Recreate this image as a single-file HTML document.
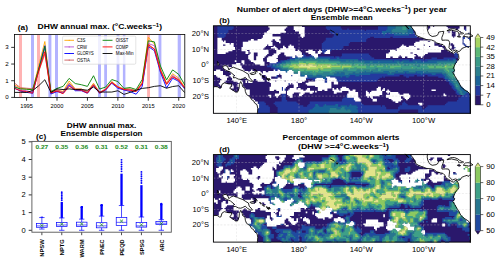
<!DOCTYPE html>
<html><head><meta charset="utf-8"><style>
html,body{margin:0;padding:0;background:#fff;}
svg{display:block;font-family:"Liberation Sans", sans-serif;}
</style></head><body>
<svg width="500" height="263" viewBox="0 0 500 263">
<defs><clipPath id="clipa"><rect x="14.4" y="34.4" width="170.4" height="63.00000000000001"/></clipPath></defs>
<g clip-path="url(#clipa)">
<rect x="31" y="34.4" width="3" height="63.00000000000001" fill="#b3b3ff"/>
<rect x="48.4" y="34.4" width="3.0" height="63.00000000000001" fill="#b3b3ff"/>
<rect x="55" y="34.4" width="3" height="63.00000000000001" fill="#b3b3ff"/>
<rect x="98" y="34.4" width="3" height="63.00000000000001" fill="#b3b3ff"/>
<rect x="104.2" y="34.4" width="2.799999999999997" height="63.00000000000001" fill="#b3b3ff"/>
<rect x="116.6" y="34.4" width="2.8000000000000114" height="63.00000000000001" fill="#b3b3ff"/>
<rect x="122.9" y="34.4" width="2.5" height="63.00000000000001" fill="#b3b3ff"/>
<rect x="158.5" y="34.4" width="2.9000000000000057" height="63.00000000000001" fill="#b3b3ff"/>
<rect x="177.7" y="34.4" width="3.200000000000017" height="63.00000000000001" fill="#b3b3ff"/>
<rect x="19" y="34.4" width="3" height="63.00000000000001" fill="#ffb3b3"/>
<rect x="37" y="34.4" width="3" height="63.00000000000001" fill="#ffb3b3"/>
<rect x="147.1" y="34.4" width="2.9000000000000057" height="63.00000000000001" fill="#ffb3b3"/>
<polyline points="14.40,84.89 20.49,88.23 26.57,89.06 32.66,89.89 38.74,65.71 44.83,41.52 50.92,92.40 57.00,89.89 63.09,91.56 69.17,81.05 75.26,89.06 81.35,89.06 87.43,91.56 93.52,83.22 99.60,92.40 105.69,89.06 111.78,81.55 117.86,86.56 123.95,89.06 130.03,89.06 136.12,90.73 142.21,82.39 148.29,37.35 154.38,44.02 160.46,69.04 166.55,82.89 172.64,73.71 178.72,78.22 184.81,87.39" fill="none" stroke="#ffa500" stroke-width="0.9" stroke-linejoin="miter"/>
<polyline points="14.40,85.72 20.49,89.89 26.57,90.73 32.66,92.40 38.74,70.71 44.83,48.19 50.92,93.23 57.00,90.73 63.09,92.40 69.17,84.06 75.26,89.89 81.35,89.89 87.43,92.40 93.52,84.89 99.60,92.40 105.69,89.89 111.78,82.39 117.86,87.39 123.95,89.89 130.03,89.89 136.12,91.56 142.21,84.89 148.29,43.52 154.38,45.69 160.46,70.71 166.55,84.06 172.64,75.22 178.72,79.89 184.81,88.23" fill="none" stroke="#ba55d3" stroke-width="0.9" stroke-linejoin="miter"/>
<polyline points="14.40,88.23 20.49,91.06 26.57,92.40 32.66,93.23 38.74,69.04 44.83,45.69 50.92,94.06 57.00,91.56 63.09,93.23 69.17,85.06 75.26,90.73 81.35,90.73 87.43,93.23 93.52,85.72 99.60,93.23 105.69,89.89 111.78,83.22 117.86,88.23 123.95,89.89 130.03,91.56 136.12,94.23 142.21,86.39 148.29,46.53 154.38,50.70 160.46,72.38 166.55,88.06 172.64,78.22 178.72,81.39 184.81,89.06" fill="none" stroke="#0000ff" stroke-width="0.9" stroke-linejoin="miter"/>
<polyline points="14.40,83.06 20.49,87.73 26.57,88.23 32.66,88.73 38.74,71.55 44.83,54.03 50.92,92.40 57.00,89.89 63.09,92.40 69.17,83.22 75.26,89.06 81.35,89.06 87.43,91.56 93.52,84.06 99.60,92.40 105.69,89.06 111.78,82.39 117.86,87.39 123.95,89.06 130.03,89.06 136.12,90.73 142.21,83.22 148.29,45.69 154.38,49.03 160.46,69.88 166.55,84.06 172.64,76.55 178.72,80.72 184.81,88.23" fill="none" stroke="#cd5c5c" stroke-width="0.9" stroke-linejoin="miter"/>
<polyline points="14.40,87.06 20.49,88.89 26.57,89.23 32.66,89.73 38.74,69.04 44.83,46.53 50.92,91.56 57.00,88.39 63.09,86.39 69.17,78.38 75.26,83.56 81.35,84.72 87.43,86.39 93.52,75.72 99.60,89.06 105.69,87.06 111.78,79.55 117.86,81.55 123.95,88.39 130.03,87.56 136.12,89.56 142.21,79.55 148.29,40.85 154.38,41.86 160.46,66.04 166.55,79.89 172.64,69.88 178.72,74.38 184.81,85.06" fill="none" stroke="#008000" stroke-width="0.9" stroke-linejoin="miter"/>
<polyline points="14.40,88.23 20.49,90.73 26.57,91.56 32.66,93.23 38.74,70.71 44.83,51.70 50.92,93.06 57.00,91.06 63.09,93.73 69.17,86.39 75.26,89.56 81.35,90.23 87.43,93.06 93.52,85.06 99.60,93.06 105.69,89.56 111.78,82.39 117.86,87.06 123.95,89.56 130.03,90.23 136.12,91.56 142.21,83.56 148.29,44.52 154.38,49.03 160.46,70.71 166.55,84.39 172.64,76.72 178.72,79.89 184.81,88.06" fill="none" stroke="#ff0000" stroke-width="0.9" stroke-linejoin="miter"/>
<polyline points="14.40,92.40 20.49,92.40 26.57,92.40 32.66,90.56 38.74,85.72 44.83,79.72 50.92,92.40 57.00,88.89 63.09,89.56 69.17,88.89 75.26,89.56 81.35,89.56 87.43,90.23 93.52,87.06 99.60,92.06 105.69,92.06 111.78,92.06 117.86,90.73 123.95,94.40 130.03,92.40 136.12,90.23 142.21,88.39 148.29,87.73 154.38,86.39 160.46,85.72 166.55,88.23 172.64,86.56 178.72,85.72 184.81,92.73" fill="none" stroke="#000000" stroke-width="0.9" stroke-linejoin="miter"/>
</g>
<rect x="14.4" y="34.4" width="170.4" height="63.00000000000001" fill="none" stroke="#000" stroke-width="0.8"/>
<line x1="11.2" y1="97.40" x2="14.4" y2="97.40" stroke="#000" stroke-width="0.8"/>
<text x="8.80" y="99.40" font-size="5.9" text-anchor="end" font-weight="normal" fill="#000" textLength="3.44" lengthAdjust="spacingAndGlyphs" >0</text>
<line x1="11.2" y1="80.72" x2="14.4" y2="80.72" stroke="#000" stroke-width="0.8"/>
<text x="8.80" y="82.72" font-size="5.9" text-anchor="end" font-weight="normal" fill="#000" textLength="3.44" lengthAdjust="spacingAndGlyphs" >1</text>
<line x1="11.2" y1="64.04" x2="14.4" y2="64.04" stroke="#000" stroke-width="0.8"/>
<text x="8.80" y="66.04" font-size="5.9" text-anchor="end" font-weight="normal" fill="#000" textLength="3.44" lengthAdjust="spacingAndGlyphs" >2</text>
<line x1="11.2" y1="47.36" x2="14.4" y2="47.36" stroke="#000" stroke-width="0.8"/>
<text x="8.80" y="49.36" font-size="5.9" text-anchor="end" font-weight="normal" fill="#000" textLength="3.44" lengthAdjust="spacingAndGlyphs" >3</text>
<line x1="26.57" y1="97.4" x2="26.57" y2="100.7" stroke="#000" stroke-width="0.8"/>
<text x="26.57" y="108.00" font-size="5.7" text-anchor="middle" font-weight="normal" fill="#000" textLength="12.72" lengthAdjust="spacingAndGlyphs" >1995</text>
<line x1="57.00" y1="97.4" x2="57.00" y2="100.7" stroke="#000" stroke-width="0.8"/>
<text x="57.00" y="108.00" font-size="5.7" text-anchor="middle" font-weight="normal" fill="#000" textLength="12.72" lengthAdjust="spacingAndGlyphs" >2000</text>
<line x1="87.43" y1="97.4" x2="87.43" y2="100.7" stroke="#000" stroke-width="0.8"/>
<text x="87.43" y="108.00" font-size="5.7" text-anchor="middle" font-weight="normal" fill="#000" textLength="12.72" lengthAdjust="spacingAndGlyphs" >2005</text>
<line x1="117.86" y1="97.4" x2="117.86" y2="100.7" stroke="#000" stroke-width="0.8"/>
<text x="117.86" y="108.00" font-size="5.7" text-anchor="middle" font-weight="normal" fill="#000" textLength="12.72" lengthAdjust="spacingAndGlyphs" >2010</text>
<line x1="148.29" y1="97.4" x2="148.29" y2="100.7" stroke="#000" stroke-width="0.8"/>
<text x="148.29" y="108.00" font-size="5.7" text-anchor="middle" font-weight="normal" fill="#000" textLength="12.72" lengthAdjust="spacingAndGlyphs" >2015</text>
<line x1="178.72" y1="97.4" x2="178.72" y2="100.7" stroke="#000" stroke-width="0.8"/>
<text x="178.72" y="108.00" font-size="5.7" text-anchor="middle" font-weight="normal" fill="#000" textLength="12.72" lengthAdjust="spacingAndGlyphs" >2020</text>
<text x="17.80" y="30.40" font-size="7.2" text-anchor="start" font-weight="bold" fill="#000" textLength="10.20" lengthAdjust="spacingAndGlyphs" >(a)</text>
<text x="37.6" y="29.1" font-size="7.3" font-weight="bold" textLength="124.4" lengthAdjust="spacingAndGlyphs">DHW annual max. (°C.weeks<tspan dy="-2.6" font-size="5.2">−1</tspan><tspan dy="2.6">)</tspan></text>
<rect x="62.6" y="36.1" width="73.2" height="28.1" rx="1.2" fill="#fff" fill-opacity="0.8" stroke="#d0d0d0" stroke-width="0.6"/>
<line x1="64.4" y1="40.30" x2="74" y2="40.30" stroke="#ffa500" stroke-width="0.9"/>
<circle cx="69.2" cy="40.30" r="0.6" fill="#ffa500"/>
<text x="77.00" y="41.90" font-size="4.6" text-anchor="start" font-weight="normal" fill="#000" textLength="8.35" lengthAdjust="spacingAndGlyphs" >C3S</text>
<line x1="64.4" y1="46.90" x2="74" y2="46.90" stroke="#ba55d3" stroke-width="0.9"/>
<circle cx="69.2" cy="46.90" r="0.6" fill="#ba55d3"/>
<text x="77.00" y="48.50" font-size="4.6" text-anchor="start" font-weight="normal" fill="#000" textLength="9.93" lengthAdjust="spacingAndGlyphs" >CRW</text>
<line x1="64.4" y1="53.50" x2="74" y2="53.50" stroke="#0000ff" stroke-width="0.9"/>
<circle cx="69.2" cy="53.50" r="0.6" fill="#0000ff"/>
<text x="77.00" y="55.10" font-size="4.6" text-anchor="start" font-weight="normal" fill="#000" textLength="16.79" lengthAdjust="spacingAndGlyphs" >GLORYS</text>
<line x1="64.4" y1="60.10" x2="74" y2="60.10" stroke="#cd5c5c" stroke-width="0.9"/>
<circle cx="69.2" cy="60.10" r="0.6" fill="#cd5c5c"/>
<text x="77.00" y="61.70" font-size="4.6" text-anchor="start" font-weight="normal" fill="#000" textLength="12.77" lengthAdjust="spacingAndGlyphs" >OSTIA</text>
<line x1="102.6" y1="40.30" x2="112.5" y2="40.30" stroke="#008000" stroke-width="0.9"/>
<text x="115.80" y="41.90" font-size="4.6" text-anchor="start" font-weight="normal" fill="#000" textLength="12.56" lengthAdjust="spacingAndGlyphs" >OISST</text>
<line x1="102.6" y1="46.90" x2="112.5" y2="46.90" stroke="#ff0000" stroke-width="0.9"/>
<text x="115.80" y="48.50" font-size="4.6" text-anchor="start" font-weight="normal" fill="#000" textLength="12.51" lengthAdjust="spacingAndGlyphs" >COMP</text>
<line x1="102.6" y1="53.50" x2="112.5" y2="53.50" stroke="#000000" stroke-width="0.9"/>
<text x="115.80" y="55.10" font-size="4.6" text-anchor="start" font-weight="normal" fill="#000" textLength="17.82" lengthAdjust="spacingAndGlyphs" >Max-Min</text>
<text x="101.60" y="128.00" font-size="7.2" text-anchor="middle" font-weight="bold" fill="#000" textLength="69.60" lengthAdjust="spacingAndGlyphs" >DHW annual max.</text>
<text x="101.60" y="135.80" font-size="7.2" text-anchor="middle" font-weight="bold" fill="#000" textLength="82.00" lengthAdjust="spacingAndGlyphs" >Ensemble dispersion</text>
<text x="36.00" y="138.60" font-size="7.2" text-anchor="start" font-weight="bold" fill="#000" textLength="10.20" lengthAdjust="spacingAndGlyphs" >(c)</text>
<line x1="28.7" y1="230.30" x2="31.9" y2="230.30" stroke="#000" stroke-width="0.8"/>
<text x="25.60" y="232.80" font-size="7.0" text-anchor="end" font-weight="normal" fill="#000" textLength="4.20" lengthAdjust="spacingAndGlyphs" >0</text>
<line x1="28.7" y1="212.60" x2="31.9" y2="212.60" stroke="#000" stroke-width="0.8"/>
<text x="25.60" y="215.10" font-size="7.0" text-anchor="end" font-weight="normal" fill="#000" textLength="4.20" lengthAdjust="spacingAndGlyphs" >1</text>
<line x1="28.7" y1="194.90" x2="31.9" y2="194.90" stroke="#000" stroke-width="0.8"/>
<text x="25.60" y="197.40" font-size="7.0" text-anchor="end" font-weight="normal" fill="#000" textLength="4.20" lengthAdjust="spacingAndGlyphs" >2</text>
<line x1="28.7" y1="177.20" x2="31.9" y2="177.20" stroke="#000" stroke-width="0.8"/>
<text x="25.60" y="179.70" font-size="7.0" text-anchor="end" font-weight="normal" fill="#000" textLength="4.20" lengthAdjust="spacingAndGlyphs" >3</text>
<line x1="28.7" y1="159.50" x2="31.9" y2="159.50" stroke="#000" stroke-width="0.8"/>
<text x="25.60" y="162.00" font-size="7.0" text-anchor="end" font-weight="normal" fill="#000" textLength="4.20" lengthAdjust="spacingAndGlyphs" >4</text>
<line x1="28.7" y1="141.80" x2="31.9" y2="141.80" stroke="#000" stroke-width="0.8"/>
<text x="25.60" y="144.30" font-size="7.0" text-anchor="end" font-weight="normal" fill="#000" textLength="4.20" lengthAdjust="spacingAndGlyphs" >5</text>
<text x="41.86" y="148.90" font-size="5.2" text-anchor="middle" font-weight="bold" fill="#228b22" textLength="12.90" lengthAdjust="spacingAndGlyphs" >0.27</text>
<line x1="41.86" y1="217.56" x2="41.86" y2="216.67" stroke="#0000ff" stroke-width="2.3"/>
<line x1="41.86" y1="223.57" x2="41.86" y2="217.56" stroke="#0000ff" stroke-width="0.7"/>
<line x1="41.86" y1="227.29" x2="41.86" y2="229.06" stroke="#0000ff" stroke-width="0.7"/>
<line x1="39.16" y1="217.56" x2="44.56" y2="217.56" stroke="#0000ff" stroke-width="0.7"/>
<line x1="39.16" y1="229.06" x2="44.56" y2="229.06" stroke="#0000ff" stroke-width="0.7"/>
<rect x="36.56" y="223.57" width="10.6" height="3.72" fill="none" stroke="#0000ff" stroke-width="0.7"/>
<line x1="36.56" y1="225.88" x2="47.16" y2="225.88" stroke="#0000ff" stroke-width="0.6"/>
<path d="M40.26,223.92L43.46,227.12M40.26,227.12L43.46,223.92" stroke="#228b22" stroke-width="0.8"/>
<line x1="41.86" y1="232.2" x2="41.86" y2="235.2" stroke="#000" stroke-width="0.7"/>
<text transform="translate(44.06,239.4) rotate(-90)" font-size="6.2" font-weight="bold" text-anchor="end" textLength="17.4" lengthAdjust="spacingAndGlyphs">NPSW</text>
<text x="61.77" y="148.90" font-size="5.2" text-anchor="middle" font-weight="bold" fill="#228b22" textLength="12.90" lengthAdjust="spacingAndGlyphs" >0.35</text>
<line x1="61.77" y1="217.91" x2="61.77" y2="201.98" stroke="#0000ff" stroke-width="2.3"/>
<circle cx="61.77" cy="200.36" r="0.95" fill="#0000ff"/>
<circle cx="61.77" cy="198.74" r="0.95" fill="#0000ff"/>
<circle cx="61.77" cy="197.11" r="0.95" fill="#0000ff"/>
<circle cx="61.77" cy="195.49" r="0.95" fill="#0000ff"/>
<circle cx="61.77" cy="193.87" r="0.95" fill="#0000ff"/>
<circle cx="61.77" cy="192.25" r="0.95" fill="#0000ff"/>
<line x1="61.77" y1="222.51" x2="61.77" y2="217.91" stroke="#0000ff" stroke-width="0.7"/>
<line x1="61.77" y1="226.41" x2="61.77" y2="230.30" stroke="#0000ff" stroke-width="0.7"/>
<line x1="59.07" y1="217.91" x2="64.47" y2="217.91" stroke="#0000ff" stroke-width="0.7"/>
<line x1="59.07" y1="230.30" x2="64.47" y2="230.30" stroke="#0000ff" stroke-width="0.7"/>
<rect x="56.47" y="222.51" width="10.6" height="3.89" fill="none" stroke="#0000ff" stroke-width="0.7"/>
<line x1="56.47" y1="224.99" x2="67.07" y2="224.99" stroke="#0000ff" stroke-width="0.6"/>
<path d="M60.17,222.51L63.37,225.71M60.17,225.71L63.37,222.51" stroke="#228b22" stroke-width="0.8"/>
<line x1="61.77" y1="232.2" x2="61.77" y2="235.2" stroke="#000" stroke-width="0.7"/>
<text transform="translate(63.97,239.4) rotate(-90)" font-size="6.2" font-weight="bold" text-anchor="end" textLength="15.8" lengthAdjust="spacingAndGlyphs">NPTG</text>
<text x="81.69" y="148.90" font-size="5.2" text-anchor="middle" font-weight="bold" fill="#228b22" textLength="12.90" lengthAdjust="spacingAndGlyphs" >0.36</text>
<line x1="81.69" y1="219.15" x2="81.69" y2="207.29" stroke="#0000ff" stroke-width="2.3"/>
<circle cx="81.69" cy="207.23" r="0.95" fill="#0000ff"/>
<circle cx="81.69" cy="207.17" r="0.95" fill="#0000ff"/>
<circle cx="81.69" cy="207.11" r="0.95" fill="#0000ff"/>
<circle cx="81.69" cy="207.05" r="0.95" fill="#0000ff"/>
<circle cx="81.69" cy="207.00" r="0.95" fill="#0000ff"/>
<circle cx="81.69" cy="206.94" r="0.95" fill="#0000ff"/>
<line x1="81.69" y1="222.16" x2="81.69" y2="219.15" stroke="#0000ff" stroke-width="0.7"/>
<line x1="81.69" y1="226.41" x2="81.69" y2="230.30" stroke="#0000ff" stroke-width="0.7"/>
<line x1="78.99" y1="219.15" x2="84.39" y2="219.15" stroke="#0000ff" stroke-width="0.7"/>
<line x1="78.99" y1="230.30" x2="84.39" y2="230.30" stroke="#0000ff" stroke-width="0.7"/>
<rect x="76.39" y="222.16" width="10.6" height="4.25" fill="none" stroke="#0000ff" stroke-width="0.7"/>
<line x1="76.39" y1="224.99" x2="86.99" y2="224.99" stroke="#0000ff" stroke-width="0.6"/>
<path d="M80.09,222.33L83.29,225.53M80.09,225.53L83.29,222.33" stroke="#228b22" stroke-width="0.8"/>
<line x1="81.69" y1="232.2" x2="81.69" y2="235.2" stroke="#000" stroke-width="0.7"/>
<text transform="translate(83.89,239.4) rotate(-90)" font-size="6.2" font-weight="bold" text-anchor="end" textLength="18.2" lengthAdjust="spacingAndGlyphs">WARM</text>
<text x="101.60" y="148.90" font-size="5.2" text-anchor="middle" font-weight="bold" fill="#228b22" textLength="12.90" lengthAdjust="spacingAndGlyphs" >0.31</text>
<line x1="101.60" y1="216.14" x2="101.60" y2="205.52" stroke="#0000ff" stroke-width="2.3"/>
<circle cx="101.60" cy="205.43" r="0.95" fill="#0000ff"/>
<circle cx="101.60" cy="205.34" r="0.95" fill="#0000ff"/>
<circle cx="101.60" cy="205.25" r="0.95" fill="#0000ff"/>
<circle cx="101.60" cy="205.17" r="0.95" fill="#0000ff"/>
<circle cx="101.60" cy="205.08" r="0.95" fill="#0000ff"/>
<circle cx="101.60" cy="204.99" r="0.95" fill="#0000ff"/>
<line x1="101.60" y1="222.69" x2="101.60" y2="216.14" stroke="#0000ff" stroke-width="0.7"/>
<line x1="101.60" y1="227.82" x2="101.60" y2="230.30" stroke="#0000ff" stroke-width="0.7"/>
<line x1="98.90" y1="216.14" x2="104.30" y2="216.14" stroke="#0000ff" stroke-width="0.7"/>
<line x1="98.90" y1="230.30" x2="104.30" y2="230.30" stroke="#0000ff" stroke-width="0.7"/>
<rect x="96.30" y="222.69" width="10.6" height="5.13" fill="none" stroke="#0000ff" stroke-width="0.7"/>
<line x1="96.30" y1="225.88" x2="106.90" y2="225.88" stroke="#0000ff" stroke-width="0.6"/>
<path d="M100.00,223.21L103.20,226.41M100.00,226.41L103.20,223.21" stroke="#228b22" stroke-width="0.8"/>
<line x1="101.60" y1="232.2" x2="101.60" y2="235.2" stroke="#000" stroke-width="0.7"/>
<text transform="translate(103.80,239.4) rotate(-90)" font-size="6.2" font-weight="bold" text-anchor="end" textLength="15.4" lengthAdjust="spacingAndGlyphs">PNEC</text>
<text x="121.52" y="148.90" font-size="5.2" text-anchor="middle" font-weight="bold" fill="#228b22" textLength="12.90" lengthAdjust="spacingAndGlyphs" >0.52</text>
<line x1="121.52" y1="205.52" x2="121.52" y2="173.66" stroke="#0000ff" stroke-width="2.3"/>
<circle cx="121.52" cy="171.36" r="0.95" fill="#0000ff"/>
<circle cx="121.52" cy="169.06" r="0.95" fill="#0000ff"/>
<circle cx="121.52" cy="166.76" r="0.95" fill="#0000ff"/>
<circle cx="121.52" cy="164.46" r="0.95" fill="#0000ff"/>
<circle cx="121.52" cy="162.16" r="0.95" fill="#0000ff"/>
<circle cx="121.52" cy="159.85" r="0.95" fill="#0000ff"/>
<line x1="121.52" y1="217.38" x2="121.52" y2="205.52" stroke="#0000ff" stroke-width="0.7"/>
<line x1="121.52" y1="225.34" x2="121.52" y2="230.30" stroke="#0000ff" stroke-width="0.7"/>
<line x1="118.82" y1="205.52" x2="124.22" y2="205.52" stroke="#0000ff" stroke-width="0.7"/>
<line x1="118.82" y1="230.30" x2="124.22" y2="230.30" stroke="#0000ff" stroke-width="0.7"/>
<rect x="116.22" y="217.38" width="10.6" height="7.97" fill="none" stroke="#0000ff" stroke-width="0.7"/>
<line x1="116.22" y1="222.34" x2="126.82" y2="222.34" stroke="#0000ff" stroke-width="0.6"/>
<path d="M119.92,219.50L123.12,222.70M119.92,222.70L123.12,219.50" stroke="#228b22" stroke-width="0.8"/>
<line x1="121.52" y1="232.2" x2="121.52" y2="235.2" stroke="#000" stroke-width="0.7"/>
<text transform="translate(123.72,239.4) rotate(-90)" font-size="6.2" font-weight="bold" text-anchor="end" textLength="16.0" lengthAdjust="spacingAndGlyphs">PEQD</text>
<text x="141.43" y="148.90" font-size="5.2" text-anchor="middle" font-weight="bold" fill="#228b22" textLength="12.90" lengthAdjust="spacingAndGlyphs" >0.31</text>
<line x1="141.43" y1="217.03" x2="141.43" y2="185.17" stroke="#0000ff" stroke-width="2.3"/>
<circle cx="141.43" cy="182.95" r="0.95" fill="#0000ff"/>
<circle cx="141.43" cy="180.74" r="0.95" fill="#0000ff"/>
<circle cx="141.43" cy="178.53" r="0.95" fill="#0000ff"/>
<circle cx="141.43" cy="176.32" r="0.95" fill="#0000ff"/>
<circle cx="141.43" cy="174.10" r="0.95" fill="#0000ff"/>
<circle cx="141.43" cy="171.89" r="0.95" fill="#0000ff"/>
<line x1="141.43" y1="222.51" x2="141.43" y2="217.03" stroke="#0000ff" stroke-width="0.7"/>
<line x1="141.43" y1="227.11" x2="141.43" y2="230.30" stroke="#0000ff" stroke-width="0.7"/>
<line x1="138.73" y1="217.03" x2="144.13" y2="217.03" stroke="#0000ff" stroke-width="0.7"/>
<line x1="138.73" y1="230.30" x2="144.13" y2="230.30" stroke="#0000ff" stroke-width="0.7"/>
<rect x="136.13" y="222.51" width="10.6" height="4.60" fill="none" stroke="#0000ff" stroke-width="0.7"/>
<line x1="136.13" y1="225.88" x2="146.73" y2="225.88" stroke="#0000ff" stroke-width="0.6"/>
<path d="M139.83,223.21L143.03,226.41M139.83,226.41L143.03,223.21" stroke="#228b22" stroke-width="0.8"/>
<line x1="141.43" y1="232.2" x2="141.43" y2="235.2" stroke="#000" stroke-width="0.7"/>
<text transform="translate(143.63,239.4) rotate(-90)" font-size="6.2" font-weight="bold" text-anchor="end" textLength="15.6" lengthAdjust="spacingAndGlyphs">SPSG</text>
<text x="161.34" y="148.90" font-size="5.2" text-anchor="middle" font-weight="bold" fill="#228b22" textLength="12.90" lengthAdjust="spacingAndGlyphs" >0.38</text>
<line x1="161.34" y1="219.68" x2="161.34" y2="205.17" stroke="#0000ff" stroke-width="2.3"/>
<circle cx="161.34" cy="204.93" r="0.95" fill="#0000ff"/>
<circle cx="161.34" cy="204.69" r="0.95" fill="#0000ff"/>
<circle cx="161.34" cy="204.46" r="0.95" fill="#0000ff"/>
<circle cx="161.34" cy="204.22" r="0.95" fill="#0000ff"/>
<circle cx="161.34" cy="203.99" r="0.95" fill="#0000ff"/>
<circle cx="161.34" cy="203.75" r="0.95" fill="#0000ff"/>
<line x1="161.34" y1="221.45" x2="161.34" y2="219.68" stroke="#0000ff" stroke-width="0.7"/>
<line x1="161.34" y1="224.46" x2="161.34" y2="230.30" stroke="#0000ff" stroke-width="0.7"/>
<line x1="158.64" y1="219.68" x2="164.04" y2="219.68" stroke="#0000ff" stroke-width="0.7"/>
<line x1="158.64" y1="230.30" x2="164.04" y2="230.30" stroke="#0000ff" stroke-width="0.7"/>
<rect x="155.89" y="221.45" width="10.9" height="3.01" fill="none" stroke="#0000ff" stroke-width="0.7"/>
<line x1="155.89" y1="223.22" x2="166.79" y2="223.22" stroke="#0000ff" stroke-width="0.6"/>
<path d="M159.74,221.97L162.94,225.17M159.74,225.17L162.94,221.97" stroke="#228b22" stroke-width="0.8"/>
<line x1="161.34" y1="232.2" x2="161.34" y2="235.2" stroke="#000" stroke-width="0.7"/>
<text transform="translate(163.54,239.4) rotate(-90)" font-size="6.2" font-weight="bold" text-anchor="end" textLength="12.0" lengthAdjust="spacingAndGlyphs">ARC</text>
<rect x="31.9" y="141.4" width="139.4" height="90.79999999999998" fill="none" stroke="#555" stroke-width="0.9"/>
<rect x="213.4" y="25.8" width="256.90" height="87.5" fill="#2a186c"/>
<path fill="#233a9e" d="M217.4 25.8h16.3v1.6h-16.3zM325.8 25.8h15.0v1.6h-15.0zM378.0 25.8h9.6v1.6h-9.6zM217.4 27.1h16.3v1.6h-16.3zM325.8 27.1h15.0v1.6h-15.0zM378.0 27.1h9.6v1.6h-9.6zM217.4 28.5h15.0v1.6h-15.0zM327.1 28.5h15.0v1.6h-15.0zM347.2 28.5h1.6v1.6h-1.6zM378.0 28.5h9.6v1.6h-9.6zM464.9 28.5h1.6v1.6h-1.6zM217.4 29.8h11.0v1.6h-11.0zM329.8 29.8h35.0v1.6h-35.0zM365.9 29.8h20.3v1.6h-20.3zM412.8 29.8h1.6v1.6h-1.6zM464.9 29.8h1.6v1.6h-1.6zM217.4 31.1h11.0v1.6h-11.0zM329.8 31.1h52.4v1.6h-52.4zM412.8 31.1h2.9v1.6h-2.9zM217.4 32.4h9.6v1.6h-9.6zM331.1 32.4h51.1v1.6h-51.1zM386.0 32.4h4.3v1.6h-4.3zM412.8 32.4h2.9v1.6h-2.9zM467.6 32.4h2.9v1.6h-2.9zM217.4 33.8h8.3v1.6h-8.3zM333.8 33.8h49.8v1.6h-49.8zM384.7 33.8h9.6v1.6h-9.6zM408.8 33.8h6.9v1.6h-6.9zM217.4 35.1h8.3v1.6h-8.3zM333.8 35.1h83.2v1.6h-83.2zM218.8 36.4h5.6v1.6h-5.6zM332.5 36.4h37.7v1.6h-37.7zM374.0 36.4h16.3v1.6h-16.3zM392.7 36.4h24.3v1.6h-24.3zM462.3 36.4h2.9v1.6h-2.9zM466.3 36.4h1.6v1.6h-1.6zM469.0 36.4h1.6v1.6h-1.6zM325.8 37.7h41.7v1.6h-41.7zM462.3 37.7h2.9v1.6h-2.9zM467.6 37.7h2.9v1.6h-2.9zM325.8 39.1h40.4v1.6h-40.4zM462.3 39.1h1.6v1.6h-1.6zM469.0 39.1h1.6v1.6h-1.6zM324.5 40.4h41.7v1.6h-41.7zM462.3 40.4h1.6v1.6h-1.6zM323.1 41.7h27.0v1.6h-27.0zM462.3 41.7h1.6v1.6h-1.6zM321.8 43.0h27.0v1.6h-27.0zM462.3 43.0h2.9v1.6h-2.9zM321.8 44.4h27.0v1.6h-27.0zM463.6 44.4h2.9v1.6h-2.9zM321.8 45.7h21.7v1.6h-21.7zM464.9 45.7h4.3v1.6h-4.3zM321.8 47.0h21.7v1.6h-21.7zM454.2 47.0h1.6v1.6h-1.6zM321.8 48.3h20.3v1.6h-20.3zM321.8 49.7h5.6v1.6h-5.6zM329.8 49.7h1.6v1.6h-1.6zM321.8 51.0h4.3v1.6h-4.3zM323.1 52.3h1.6v1.6h-1.6zM454.2 52.3h2.9v1.6h-2.9zM303.0 53.6h1.6v1.6h-1.6zM341.9 53.6h27.0v1.6h-27.0zM454.2 53.6h4.3v1.6h-4.3zM303.0 55.0h2.9v1.6h-2.9zM309.7 55.0h2.9v1.6h-2.9zM341.9 55.0h28.3v1.6h-28.3zM454.2 55.0h4.3v1.6h-4.3zM289.7 56.3h2.9v1.6h-2.9zM295.0 56.3h2.9v1.6h-2.9zM301.7 56.3h11.0v1.6h-11.0zM317.8 56.3h16.3v1.6h-16.3zM335.2 56.3h4.3v1.6h-4.3zM340.5 56.3h31.0v1.6h-31.0zM455.6 56.3h2.9v1.6h-2.9zM289.7 57.6h5.6v1.6h-5.6zM329.8 57.6h6.9v1.6h-6.9zM339.2 57.6h35.0v1.6h-35.0zM431.5 57.6h5.6v1.6h-5.6zM443.5 57.6h12.3v1.6h-12.3zM287.0 58.9h2.9v1.6h-2.9zM357.9 58.9h4.3v1.6h-4.3zM363.3 58.9h47.1v1.6h-47.1zM411.4 58.9h12.3v1.6h-12.3zM424.8 58.9h23.0v1.6h-23.0zM448.9 58.9h4.3v1.6h-4.3zM280.3 60.3h4.3v1.6h-4.3zM392.7 60.3h1.6v1.6h-1.6zM399.4 60.3h2.9v1.6h-2.9zM408.8 60.3h4.3v1.6h-4.3zM420.8 60.3h6.9v1.6h-6.9zM455.6 60.3h1.6v1.6h-1.6zM276.3 61.6h5.6v1.6h-5.6zM455.6 61.6h1.6v1.6h-1.6zM269.6 62.9h8.3v1.6h-8.3zM269.6 64.2h2.9v1.6h-2.9zM266.9 65.6h5.6v1.6h-5.6zM270.9 66.9h4.3v1.6h-4.3zM273.6 68.2h5.6v1.6h-5.6zM274.9 69.5h2.9v1.6h-2.9zM404.7 72.2h1.6v1.6h-1.6zM415.4 72.2h1.6v1.6h-1.6zM369.9 73.5h17.6v1.6h-17.6zM394.0 73.5h27.0v1.6h-27.0zM422.1 73.5h9.6v1.6h-9.6zM435.5 73.5h6.9v1.6h-6.9zM276.3 74.9h1.6v1.6h-1.6zM291.0 74.9h1.6v1.6h-1.6zM349.9 74.9h5.6v1.6h-5.6zM359.2 74.9h40.4v1.6h-40.4zM403.4 74.9h11.0v1.6h-11.0zM416.8 74.9h8.3v1.6h-8.3zM427.5 74.9h16.3v1.6h-16.3zM274.9 76.2h2.9v1.6h-2.9zM307.1 76.2h1.6v1.6h-1.6zM329.8 76.2h11.0v1.6h-11.0zM341.9 76.2h4.3v1.6h-4.3zM348.5 76.2h33.7v1.6h-33.7zM383.3 76.2h1.6v1.6h-1.6zM406.1 76.2h2.9v1.6h-2.9zM438.2 76.2h6.9v1.6h-6.9zM305.7 77.5h11.0v1.6h-11.0zM325.8 77.5h1.6v1.6h-1.6zM335.2 77.5h44.4v1.6h-44.4zM443.5 77.5h1.6v1.6h-1.6zM312.4 78.8h2.9v1.6h-2.9zM324.5 78.8h2.9v1.6h-2.9zM336.5 78.8h41.7v1.6h-41.7zM444.9 78.8h2.9v1.6h-2.9zM324.5 80.2h2.9v1.6h-2.9zM336.5 80.2h40.4v1.6h-40.4zM446.2 80.2h2.9v1.6h-2.9zM324.5 81.5h2.9v1.6h-2.9zM448.9 81.5h1.6v1.6h-1.6zM288.3 82.8h1.6v1.6h-1.6zM448.9 82.8h2.9v1.6h-2.9zM450.2 84.1h2.9v1.6h-2.9zM451.6 85.5h2.9v1.6h-2.9zM281.6 86.8h1.6v1.6h-1.6zM451.6 86.8h2.9v1.6h-2.9zM281.6 88.1h1.6v1.6h-1.6zM284.3 88.1h1.6v1.6h-1.6zM452.9 88.1h2.9v1.6h-2.9zM281.6 89.4h1.6v1.6h-1.6zM284.3 89.4h1.6v1.6h-1.6zM454.2 89.4h2.9v1.6h-2.9zM455.6 90.8h1.6v1.6h-1.6zM455.6 92.1h2.9v1.6h-2.9zM466.3 92.1h2.9v1.6h-2.9zM281.6 93.4h4.3v1.6h-4.3zM456.9 93.4h2.9v1.6h-2.9zM464.9 93.4h5.6v1.6h-5.6zM281.6 94.7h4.3v1.6h-4.3zM345.9 94.7h1.6v1.6h-1.6zM462.3 94.7h8.3v1.6h-8.3zM281.6 96.1h4.3v1.6h-4.3zM345.9 96.1h1.6v1.6h-1.6zM460.9 96.1h9.6v1.6h-9.6zM281.6 97.4h4.3v1.6h-4.3zM343.2 97.4h11.0v1.6h-11.0zM458.3 97.4h12.3v1.6h-12.3zM281.6 98.7h4.3v1.6h-4.3zM341.9 98.7h12.3v1.6h-12.3zM458.3 98.7h12.3v1.6h-12.3zM281.6 100.0h5.6v1.6h-5.6zM341.9 100.0h13.6v1.6h-13.6zM456.9 100.0h13.6v1.6h-13.6zM258.9 101.4h5.6v1.6h-5.6zM274.9 101.4h21.7v1.6h-21.7zM309.7 101.4h51.1v1.6h-51.1zM403.4 101.4h1.6v1.6h-1.6zM447.6 101.4h23.0v1.6h-23.0zM257.6 102.7h8.3v1.6h-8.3zM273.6 102.7h24.3v1.6h-24.3zM309.7 102.7h52.4v1.6h-52.4zM402.1 102.7h4.3v1.6h-4.3zM446.2 102.7h24.3v1.6h-24.3zM258.9 104.0h6.9v1.6h-6.9zM274.9 104.0h24.3v1.6h-24.3zM308.4 104.0h6.9v1.6h-6.9zM317.8 104.0h6.9v1.6h-6.9zM325.8 104.0h9.6v1.6h-9.6zM337.8 104.0h12.3v1.6h-12.3zM351.2 104.0h12.3v1.6h-12.3zM402.1 104.0h5.6v1.6h-5.6zM444.9 104.0h25.7v1.6h-25.7zM258.9 105.3h9.6v1.6h-9.6zM276.3 105.3h27.0v1.6h-27.0zM307.1 105.3h8.3v1.6h-8.3zM319.1 105.3h4.3v1.6h-4.3zM337.8 105.3h2.9v1.6h-2.9zM347.2 105.3h1.6v1.6h-1.6zM356.6 105.3h24.3v1.6h-24.3zM382.0 105.3h2.9v1.6h-2.9zM399.4 105.3h21.7v1.6h-21.7zM427.5 105.3h43.1v1.6h-43.1zM258.9 106.7h11.0v1.6h-11.0zM277.6 106.7h36.4v1.6h-36.4zM357.9 106.7h28.3v1.6h-28.3zM398.0 106.7h24.3v1.6h-24.3zM426.1 106.7h44.4v1.6h-44.4zM257.6 108.0h12.3v1.6h-12.3zM277.6 108.0h35.0v1.6h-35.0zM356.6 108.0h29.7v1.6h-29.7zM398.0 108.0h24.3v1.6h-24.3zM424.8 108.0h45.7v1.6h-45.7zM257.6 109.3h12.3v1.6h-12.3zM277.6 109.3h32.4v1.6h-32.4zM357.9 109.3h41.7v1.6h-41.7zM418.1 109.3h52.4v1.6h-52.4zM257.6 110.6h12.3v1.6h-12.3zM277.6 110.6h31.0v1.6h-31.0zM357.9 110.6h40.4v1.6h-40.4zM418.1 110.6h52.4v1.6h-52.4zM257.6 112.0h12.3v1.6h-12.3zM277.6 112.0h31.0v1.6h-31.0zM357.9 112.0h40.4v1.6h-40.4zM418.1 112.0h52.4v1.6h-52.4z"/>
<path fill="#ffffff" d="M268.3 25.8h19.0v1.6h-19.0zM293.7 25.8h8.3v1.6h-8.3zM411.4 25.8h16.3v1.6h-16.3zM430.2 25.8h2.9v1.6h-2.9zM434.2 25.8h12.3v1.6h-12.3zM459.6 25.8h4.3v1.6h-4.3zM466.3 25.8h4.3v1.6h-4.3zM269.6 27.1h16.3v1.6h-16.3zM293.7 27.1h11.0v1.6h-11.0zM411.4 27.1h16.3v1.6h-16.3zM430.2 27.1h17.6v1.6h-17.6zM459.6 27.1h4.3v1.6h-4.3zM466.3 27.1h4.3v1.6h-4.3zM269.6 28.5h15.0v1.6h-15.0zM293.7 28.5h11.0v1.6h-11.0zM412.8 28.5h15.0v1.6h-15.0zM428.8 28.5h27.0v1.6h-27.0zM458.3 28.5h5.6v1.6h-5.6zM466.3 28.5h4.3v1.6h-4.3zM268.3 29.8h16.3v1.6h-16.3zM295.0 29.8h9.6v1.6h-9.6zM414.1 29.8h37.7v1.6h-37.7zM452.9 29.8h12.3v1.6h-12.3zM466.3 29.8h4.3v1.6h-4.3zM266.9 31.1h19.0v1.6h-19.0zM299.0 31.1h5.6v1.6h-5.6zM415.4 31.1h32.4v1.6h-32.4zM450.2 31.1h1.6v1.6h-1.6zM455.6 31.1h4.3v1.6h-4.3zM460.9 31.1h9.6v1.6h-9.6zM264.2 32.4h16.3v1.6h-16.3zM299.0 32.4h5.6v1.6h-5.6zM415.4 32.4h36.4v1.6h-36.4zM455.6 32.4h12.3v1.6h-12.3zM264.2 33.8h8.3v1.6h-8.3zM300.4 33.8h4.3v1.6h-4.3zM415.4 33.8h36.4v1.6h-36.4zM455.6 33.8h2.9v1.6h-2.9zM459.6 33.8h11.0v1.6h-11.0zM262.9 35.1h9.6v1.6h-9.6zM300.4 35.1h4.3v1.6h-4.3zM416.8 35.1h35.0v1.6h-35.0zM455.6 35.1h2.9v1.6h-2.9zM459.6 35.1h11.0v1.6h-11.0zM262.9 36.4h17.6v1.6h-17.6zM301.7 36.4h1.6v1.6h-1.6zM419.5 36.4h33.7v1.6h-33.7zM454.2 36.4h8.3v1.6h-8.3zM464.9 36.4h1.6v1.6h-1.6zM467.6 36.4h1.6v1.6h-1.6zM217.4 37.7h4.3v1.6h-4.3zM261.6 37.7h19.0v1.6h-19.0zM423.5 37.7h39.1v1.6h-39.1zM464.9 37.7h2.9v1.6h-2.9zM217.4 39.1h4.3v1.6h-4.3zM250.9 39.1h2.9v1.6h-2.9zM257.6 39.1h15.0v1.6h-15.0zM274.9 39.1h4.3v1.6h-4.3zM427.5 39.1h35.0v1.6h-35.0zM463.6 39.1h5.6v1.6h-5.6zM217.4 40.4h5.6v1.6h-5.6zM224.1 40.4h1.6v1.6h-1.6zM248.2 40.4h23.0v1.6h-23.0zM276.3 40.4h4.3v1.6h-4.3zM419.5 40.4h8.3v1.6h-8.3zM430.2 40.4h32.4v1.6h-32.4zM463.6 40.4h6.9v1.6h-6.9zM217.4 41.7h8.3v1.6h-8.3zM242.8 41.7h29.7v1.6h-29.7zM279.0 41.7h1.6v1.6h-1.6zM415.4 41.7h19.0v1.6h-19.0zM435.5 41.7h27.0v1.6h-27.0zM463.6 41.7h6.9v1.6h-6.9zM217.4 43.0h12.3v1.6h-12.3zM230.8 43.0h2.9v1.6h-2.9zM242.8 43.0h29.7v1.6h-29.7zM414.1 43.0h20.3v1.6h-20.3zM439.5 43.0h11.0v1.6h-11.0zM452.9 43.0h9.6v1.6h-9.6zM464.9 43.0h5.6v1.6h-5.6zM217.4 44.4h5.6v1.6h-5.6zM225.4 44.4h8.3v1.6h-8.3zM242.8 44.4h24.3v1.6h-24.3zM268.3 44.4h4.3v1.6h-4.3zM289.7 44.4h1.6v1.6h-1.6zM402.1 44.4h1.6v1.6h-1.6zM414.1 44.4h9.6v1.6h-9.6zM424.8 44.4h9.6v1.6h-9.6zM442.2 44.4h8.3v1.6h-8.3zM454.2 44.4h9.6v1.6h-9.6zM466.3 44.4h4.3v1.6h-4.3zM217.4 45.7h16.3v1.6h-16.3zM242.8 45.7h23.0v1.6h-23.0zM273.6 45.7h1.6v1.6h-1.6zM283.0 45.7h1.6v1.6h-1.6zM288.3 45.7h5.6v1.6h-5.6zM400.7 45.7h5.6v1.6h-5.6zM408.8 45.7h5.6v1.6h-5.6zM415.4 45.7h13.6v1.6h-13.6zM430.2 45.7h8.3v1.6h-8.3zM444.9 45.7h6.9v1.6h-6.9zM454.2 45.7h11.0v1.6h-11.0zM469.0 45.7h1.6v1.6h-1.6zM217.4 47.0h17.6v1.6h-17.6zM241.5 47.0h23.0v1.6h-23.0zM270.9 47.0h5.6v1.6h-5.6zM283.0 47.0h2.9v1.6h-2.9zM288.3 47.0h5.6v1.6h-5.6zM399.4 47.0h43.1v1.6h-43.1zM444.9 47.0h6.9v1.6h-6.9zM455.6 47.0h15.0v1.6h-15.0zM217.4 48.3h17.6v1.6h-17.6zM241.5 48.3h21.7v1.6h-21.7zM274.9 48.3h2.9v1.6h-2.9zM280.3 48.3h15.0v1.6h-15.0zM396.7 48.3h20.3v1.6h-20.3zM419.5 48.3h24.3v1.6h-24.3zM446.2 48.3h4.3v1.6h-4.3zM454.2 48.3h16.3v1.6h-16.3zM217.4 49.7h15.0v1.6h-15.0zM241.5 49.7h5.6v1.6h-5.6zM249.5 49.7h19.0v1.6h-19.0zM276.3 49.7h19.0v1.6h-19.0zM297.7 49.7h1.6v1.6h-1.6zM308.4 49.7h4.3v1.6h-4.3zM319.1 49.7h1.6v1.6h-1.6zM327.1 49.7h2.9v1.6h-2.9zM390.0 49.7h5.6v1.6h-5.6zM396.7 49.7h44.4v1.6h-44.4zM447.6 49.7h23.0v1.6h-23.0zM217.4 51.0h11.0v1.6h-11.0zM245.5 51.0h2.9v1.6h-2.9zM249.5 51.0h19.0v1.6h-19.0zM276.3 51.0h24.3v1.6h-24.3zM305.7 51.0h9.6v1.6h-9.6zM317.8 51.0h4.3v1.6h-4.3zM325.8 51.0h4.3v1.6h-4.3zM390.0 51.0h51.1v1.6h-51.1zM450.2 51.0h20.3v1.6h-20.3zM217.4 52.3h8.3v1.6h-8.3zM245.5 52.3h2.9v1.6h-2.9zM250.9 52.3h2.9v1.6h-2.9zM257.6 52.3h11.0v1.6h-11.0zM276.3 52.3h4.3v1.6h-4.3zM284.3 52.3h17.6v1.6h-17.6zM308.4 52.3h6.9v1.6h-6.9zM317.8 52.3h2.9v1.6h-2.9zM324.5 52.3h5.6v1.6h-5.6zM388.7 52.3h21.7v1.6h-21.7zM412.8 52.3h15.0v1.6h-15.0zM452.9 52.3h1.6v1.6h-1.6zM456.9 52.3h13.6v1.6h-13.6zM249.5 53.6h4.3v1.6h-4.3zM257.6 53.6h9.6v1.6h-9.6zM273.6 53.6h5.6v1.6h-5.6zM284.3 53.6h17.6v1.6h-17.6zM311.1 53.6h6.9v1.6h-6.9zM386.0 53.6h28.3v1.6h-28.3zM416.8 53.6h8.3v1.6h-8.3zM458.3 53.6h12.3v1.6h-12.3zM248.2 55.0h5.6v1.6h-5.6zM257.6 55.0h8.3v1.6h-8.3zM272.3 55.0h5.6v1.6h-5.6zM285.7 55.0h9.6v1.6h-9.6zM296.4 55.0h6.9v1.6h-6.9zM312.4 55.0h5.6v1.6h-5.6zM386.0 55.0h13.6v1.6h-13.6zM400.7 55.0h15.0v1.6h-15.0zM418.1 55.0h5.6v1.6h-5.6zM458.3 55.0h12.3v1.6h-12.3zM248.2 56.3h5.6v1.6h-5.6zM256.2 56.3h8.3v1.6h-8.3zM268.3 56.3h9.6v1.6h-9.6zM292.3 56.3h2.9v1.6h-2.9zM297.7 56.3h4.3v1.6h-4.3zM313.8 56.3h4.3v1.6h-4.3zM386.0 56.3h4.3v1.6h-4.3zM392.7 56.3h5.6v1.6h-5.6zM402.1 56.3h2.9v1.6h-2.9zM407.4 56.3h6.9v1.6h-6.9zM420.8 56.3h1.6v1.6h-1.6zM458.3 56.3h12.3v1.6h-12.3zM248.2 57.6h5.6v1.6h-5.6zM256.2 57.6h6.9v1.6h-6.9zM266.9 57.6h9.6v1.6h-9.6zM315.1 57.6h1.6v1.6h-1.6zM412.8 57.6h1.6v1.6h-1.6zM458.3 57.6h12.3v1.6h-12.3zM249.5 58.9h4.3v1.6h-4.3zM256.2 58.9h6.9v1.6h-6.9zM266.9 58.9h11.0v1.6h-11.0zM458.3 58.9h12.3v1.6h-12.3zM234.8 60.3h1.6v1.6h-1.6zM241.5 60.3h2.9v1.6h-2.9zM250.9 60.3h12.3v1.6h-12.3zM266.9 60.3h11.0v1.6h-11.0zM456.9 60.3h13.6v1.6h-13.6zM241.5 61.6h2.9v1.6h-2.9zM253.5 61.6h11.0v1.6h-11.0zM269.6 61.6h6.9v1.6h-6.9zM456.9 61.6h13.6v1.6h-13.6zM217.4 62.9h1.6v1.6h-1.6zM236.1 62.9h4.3v1.6h-4.3zM242.8 62.9h1.6v1.6h-1.6zM254.9 62.9h9.6v1.6h-9.6zM455.6 62.9h15.0v1.6h-15.0zM232.1 64.2h8.3v1.6h-8.3zM260.2 64.2h4.3v1.6h-4.3zM454.2 64.2h16.3v1.6h-16.3zM222.8 65.6h5.6v1.6h-5.6zM232.1 65.6h9.6v1.6h-9.6zM454.2 65.6h16.3v1.6h-16.3zM222.8 66.9h19.0v1.6h-19.0zM454.2 66.9h16.3v1.6h-16.3zM224.1 68.2h4.3v1.6h-4.3zM229.5 68.2h13.6v1.6h-13.6zM454.2 68.2h16.3v1.6h-16.3zM216.1 69.5h4.3v1.6h-4.3zM225.4 69.5h19.0v1.6h-19.0zM250.9 69.5h1.6v1.6h-1.6zM273.6 69.5h1.6v1.6h-1.6zM277.6 69.5h2.9v1.6h-2.9zM288.3 69.5h4.3v1.6h-4.3zM454.2 69.5h16.3v1.6h-16.3zM213.4 70.9h9.6v1.6h-9.6zM229.5 70.9h19.0v1.6h-19.0zM249.5 70.9h11.0v1.6h-11.0zM262.9 70.9h2.9v1.6h-2.9zM268.3 70.9h17.6v1.6h-17.6zM287.0 70.9h6.9v1.6h-6.9zM297.7 70.9h2.9v1.6h-2.9zM454.2 70.9h16.3v1.6h-16.3zM213.4 72.2h9.6v1.6h-9.6zM230.8 72.2h31.0v1.6h-31.0zM262.9 72.2h31.0v1.6h-31.0zM297.7 72.2h2.9v1.6h-2.9zM452.9 72.2h17.6v1.6h-17.6zM213.4 73.5h9.6v1.6h-9.6zM230.8 73.5h48.4v1.6h-48.4zM280.3 73.5h20.3v1.6h-20.3zM454.2 73.5h16.3v1.6h-16.3zM216.1 74.9h9.6v1.6h-9.6zM229.5 74.9h4.3v1.6h-4.3zM234.8 74.9h27.0v1.6h-27.0zM265.6 74.9h11.0v1.6h-11.0zM281.6 74.9h9.6v1.6h-9.6zM292.3 74.9h8.3v1.6h-8.3zM304.4 74.9h2.9v1.6h-2.9zM454.2 74.9h16.3v1.6h-16.3zM217.4 76.2h11.0v1.6h-11.0zM230.8 76.2h31.0v1.6h-31.0zM266.9 76.2h4.3v1.6h-4.3zM281.6 76.2h25.7v1.6h-25.7zM325.8 76.2h4.3v1.6h-4.3zM454.2 76.2h16.3v1.6h-16.3zM220.1 77.5h6.9v1.6h-6.9zM232.1 77.5h12.3v1.6h-12.3zM245.5 77.5h16.3v1.6h-16.3zM266.9 77.5h4.3v1.6h-4.3zM277.6 77.5h2.9v1.6h-2.9zM281.6 77.5h24.3v1.6h-24.3zM316.4 77.5h6.9v1.6h-6.9zM327.1 77.5h8.3v1.6h-8.3zM455.6 77.5h15.0v1.6h-15.0zM221.4 78.8h5.6v1.6h-5.6zM232.1 78.8h8.3v1.6h-8.3zM246.9 78.8h6.9v1.6h-6.9zM256.2 78.8h6.9v1.6h-6.9zM266.9 78.8h39.1v1.6h-39.1zM315.1 78.8h9.6v1.6h-9.6zM327.1 78.8h9.6v1.6h-9.6zM456.9 78.8h13.6v1.6h-13.6zM220.1 80.2h5.6v1.6h-5.6zM233.5 80.2h8.3v1.6h-8.3zM245.5 80.2h1.6v1.6h-1.6zM248.2 80.2h4.3v1.6h-4.3zM257.6 80.2h6.9v1.6h-6.9zM266.9 80.2h8.3v1.6h-8.3zM276.3 80.2h8.3v1.6h-8.3zM285.7 80.2h19.0v1.6h-19.0zM315.1 80.2h9.6v1.6h-9.6zM327.1 80.2h9.6v1.6h-9.6zM458.3 80.2h12.3v1.6h-12.3zM220.1 81.5h4.3v1.6h-4.3zM237.5 81.5h5.6v1.6h-5.6zM245.5 81.5h1.6v1.6h-1.6zM248.2 81.5h4.3v1.6h-4.3zM269.6 81.5h27.0v1.6h-27.0zM297.7 81.5h4.3v1.6h-4.3zM308.4 81.5h16.3v1.6h-16.3zM327.1 81.5h4.3v1.6h-4.3zM333.8 81.5h4.3v1.6h-4.3zM458.3 81.5h12.3v1.6h-12.3zM218.8 82.8h8.3v1.6h-8.3zM238.8 82.8h4.3v1.6h-4.3zM270.9 82.8h17.6v1.6h-17.6zM289.7 82.8h1.6v1.6h-1.6zM292.3 82.8h5.6v1.6h-5.6zM305.7 82.8h25.7v1.6h-25.7zM333.8 82.8h4.3v1.6h-4.3zM459.6 82.8h11.0v1.6h-11.0zM220.1 84.1h12.3v1.6h-12.3zM237.5 84.1h5.6v1.6h-5.6zM270.9 84.1h17.6v1.6h-17.6zM293.7 84.1h4.3v1.6h-4.3zM307.1 84.1h24.3v1.6h-24.3zM459.6 84.1h11.0v1.6h-11.0zM221.4 85.5h9.6v1.6h-9.6zM232.1 85.5h1.6v1.6h-1.6zM237.5 85.5h5.6v1.6h-5.6zM270.9 85.5h16.3v1.6h-16.3zM293.7 85.5h4.3v1.6h-4.3zM315.1 85.5h16.3v1.6h-16.3zM460.9 85.5h9.6v1.6h-9.6zM213.4 86.8h5.6v1.6h-5.6zM221.4 86.8h12.3v1.6h-12.3zM238.8 86.8h5.6v1.6h-5.6zM269.6 86.8h12.3v1.6h-12.3zM283.0 86.8h2.9v1.6h-2.9zM293.7 86.8h2.9v1.6h-2.9zM317.8 86.8h13.6v1.6h-13.6zM341.9 86.8h4.3v1.6h-4.3zM378.0 86.8h2.9v1.6h-2.9zM462.3 86.8h8.3v1.6h-8.3zM213.4 88.1h17.6v1.6h-17.6zM238.8 88.1h6.9v1.6h-6.9zM269.6 88.1h12.3v1.6h-12.3zM283.0 88.1h1.6v1.6h-1.6zM289.7 88.1h6.9v1.6h-6.9zM297.7 88.1h2.9v1.6h-2.9zM307.1 88.1h2.9v1.6h-2.9zM317.8 88.1h9.6v1.6h-9.6zM332.5 88.1h1.6v1.6h-1.6zM336.5 88.1h1.6v1.6h-1.6zM340.5 88.1h8.3v1.6h-8.3zM376.6 88.1h4.3v1.6h-4.3zM383.3 88.1h1.6v1.6h-1.6zM463.6 88.1h6.9v1.6h-6.9zM213.4 89.4h19.0v1.6h-19.0zM238.8 89.4h11.0v1.6h-11.0zM269.6 89.4h4.3v1.6h-4.3zM276.3 89.4h5.6v1.6h-5.6zM283.0 89.4h1.6v1.6h-1.6zM288.3 89.4h15.0v1.6h-15.0zM305.7 89.4h4.3v1.6h-4.3zM317.8 89.4h4.3v1.6h-4.3zM324.5 89.4h2.9v1.6h-2.9zM332.5 89.4h6.9v1.6h-6.9zM340.5 89.4h9.6v1.6h-9.6zM352.6 89.4h2.9v1.6h-2.9zM376.6 89.4h4.3v1.6h-4.3zM382.0 89.4h2.9v1.6h-2.9zM387.3 89.4h1.6v1.6h-1.6zM431.5 89.4h4.3v1.6h-4.3zM464.9 89.4h5.6v1.6h-5.6zM213.4 90.8h21.7v1.6h-21.7zM237.5 90.8h12.3v1.6h-12.3zM279.0 90.8h6.9v1.6h-6.9zM287.0 90.8h27.0v1.6h-27.0zM315.1 90.8h1.6v1.6h-1.6zM333.8 90.8h8.3v1.6h-8.3zM348.5 90.8h6.9v1.6h-6.9zM365.9 90.8h1.6v1.6h-1.6zM371.3 90.8h11.0v1.6h-11.0zM386.0 90.8h4.3v1.6h-4.3zM467.6 90.8h2.9v1.6h-2.9zM213.4 92.1h36.4v1.6h-36.4zM279.0 92.1h6.9v1.6h-6.9zM287.0 92.1h6.9v1.6h-6.9zM300.4 92.1h4.3v1.6h-4.3zM309.7 92.1h2.9v1.6h-2.9zM333.8 92.1h2.9v1.6h-2.9zM348.5 92.1h9.6v1.6h-9.6zM365.9 92.1h2.9v1.6h-2.9zM369.9 92.1h12.3v1.6h-12.3zM387.3 92.1h1.6v1.6h-1.6zM390.0 92.1h8.3v1.6h-8.3zM469.0 92.1h1.6v1.6h-1.6zM213.4 93.4h36.4v1.6h-36.4zM274.9 93.4h5.6v1.6h-5.6zM287.0 93.4h5.6v1.6h-5.6zM299.0 93.4h4.3v1.6h-4.3zM347.2 93.4h11.0v1.6h-11.0zM365.9 93.4h16.3v1.6h-16.3zM390.0 93.4h9.6v1.6h-9.6zM403.4 93.4h5.6v1.6h-5.6zM443.5 93.4h1.6v1.6h-1.6zM213.4 94.7h35.0v1.6h-35.0zM268.3 94.7h2.9v1.6h-2.9zM274.9 94.7h4.3v1.6h-4.3zM288.3 94.7h4.3v1.6h-4.3zM299.0 94.7h2.9v1.6h-2.9zM347.2 94.7h11.0v1.6h-11.0zM365.9 94.7h13.6v1.6h-13.6zM386.0 94.7h24.3v1.6h-24.3zM443.5 94.7h2.9v1.6h-2.9zM213.4 96.1h36.4v1.6h-36.4zM269.6 96.1h1.6v1.6h-1.6zM276.3 96.1h1.6v1.6h-1.6zM289.7 96.1h2.9v1.6h-2.9zM347.2 96.1h11.0v1.6h-11.0zM367.3 96.1h1.6v1.6h-1.6zM369.9 96.1h2.9v1.6h-2.9zM386.0 96.1h15.0v1.6h-15.0zM403.4 96.1h6.9v1.6h-6.9zM213.4 97.4h37.7v1.6h-37.7zM353.9 97.4h5.6v1.6h-5.6zM371.3 97.4h1.6v1.6h-1.6zM388.7 97.4h12.3v1.6h-12.3zM404.7 97.4h4.3v1.6h-4.3zM213.4 98.7h40.4v1.6h-40.4zM353.9 98.7h6.9v1.6h-6.9zM372.6 98.7h4.3v1.6h-4.3zM391.4 98.7h11.0v1.6h-11.0zM406.1 98.7h1.6v1.6h-1.6zM213.4 100.0h41.7v1.6h-41.7zM355.2 100.0h5.6v1.6h-5.6zM372.6 100.0h4.3v1.6h-4.3zM392.7 100.0h8.3v1.6h-8.3zM213.4 101.4h44.4v1.6h-44.4zM395.4 101.4h2.9v1.6h-2.9zM213.4 102.7h44.4v1.6h-44.4zM418.1 102.7h4.3v1.6h-4.3zM213.4 104.0h45.7v1.6h-45.7zM419.5 104.0h2.9v1.6h-2.9zM213.4 105.3h45.7v1.6h-45.7zM213.4 106.7h45.7v1.6h-45.7zM213.4 108.0h44.4v1.6h-44.4zM213.4 109.3h44.4v1.6h-44.4zM213.4 110.6h44.4v1.6h-44.4zM213.4 112.0h44.4v1.6h-44.4z"/>
<path fill="#1a6398" d="M387.3 25.8h8.3v1.6h-8.3zM387.3 27.1h8.3v1.6h-8.3zM387.3 28.5h5.6v1.6h-5.6zM407.4 28.5h5.6v1.6h-5.6zM386.0 29.8h5.6v1.6h-5.6zM407.4 29.8h5.6v1.6h-5.6zM382.0 31.1h9.6v1.6h-9.6zM407.4 31.1h5.6v1.6h-5.6zM382.0 32.4h4.3v1.6h-4.3zM390.0 32.4h12.3v1.6h-12.3zM404.7 32.4h8.3v1.6h-8.3zM383.3 33.8h1.6v1.6h-1.6zM394.0 33.8h15.0v1.6h-15.0zM312.4 56.3h1.6v1.6h-1.6zM295.0 57.6h15.0v1.6h-15.0zM312.4 57.6h2.9v1.6h-2.9zM317.8 57.6h12.3v1.6h-12.3zM336.5 57.6h2.9v1.6h-2.9zM289.7 58.9h5.6v1.6h-5.6zM299.0 58.9h1.6v1.6h-1.6zM328.5 58.9h29.7v1.6h-29.7zM361.9 58.9h1.6v1.6h-1.6zM447.6 58.9h1.6v1.6h-1.6zM452.9 58.9h2.9v1.6h-2.9zM284.3 60.3h5.6v1.6h-5.6zM339.2 60.3h6.9v1.6h-6.9zM348.5 60.3h1.6v1.6h-1.6zM352.6 60.3h1.6v1.6h-1.6zM357.9 60.3h35.0v1.6h-35.0zM394.0 60.3h5.6v1.6h-5.6zM402.1 60.3h6.9v1.6h-6.9zM412.8 60.3h8.3v1.6h-8.3zM427.5 60.3h27.0v1.6h-27.0zM281.6 61.6h4.3v1.6h-4.3zM364.6 61.6h5.6v1.6h-5.6zM372.6 61.6h5.6v1.6h-5.6zM379.3 61.6h17.6v1.6h-17.6zM399.4 61.6h1.6v1.6h-1.6zM403.4 61.6h12.3v1.6h-12.3zM416.8 61.6h20.3v1.6h-20.3zM277.6 62.9h4.3v1.6h-4.3zM272.3 64.2h6.9v1.6h-6.9zM272.3 65.6h4.3v1.6h-4.3zM274.9 66.9h5.6v1.6h-5.6zM279.0 68.2h2.9v1.6h-2.9zM280.3 69.5h6.9v1.6h-6.9zM285.7 70.9h1.6v1.6h-1.6zM364.6 70.9h1.6v1.6h-1.6zM371.3 70.9h1.6v1.6h-1.6zM383.3 70.9h5.6v1.6h-5.6zM395.4 70.9h2.9v1.6h-2.9zM403.4 70.9h5.6v1.6h-5.6zM415.4 70.9h8.3v1.6h-8.3zM426.1 70.9h1.6v1.6h-1.6zM336.5 72.2h2.9v1.6h-2.9zM340.5 72.2h4.3v1.6h-4.3zM352.6 72.2h2.9v1.6h-2.9zM359.2 72.2h31.0v1.6h-31.0zM391.4 72.2h13.6v1.6h-13.6zM406.1 72.2h9.6v1.6h-9.6zM416.8 72.2h25.7v1.6h-25.7zM300.4 73.5h1.6v1.6h-1.6zM333.8 73.5h11.0v1.6h-11.0zM348.5 73.5h21.7v1.6h-21.7zM387.3 73.5h6.9v1.6h-6.9zM420.8 73.5h1.6v1.6h-1.6zM431.5 73.5h4.3v1.6h-4.3zM442.2 73.5h4.3v1.6h-4.3zM300.4 74.9h4.3v1.6h-4.3zM307.1 74.9h5.6v1.6h-5.6zM316.4 74.9h5.6v1.6h-5.6zM327.1 74.9h23.0v1.6h-23.0zM355.2 74.9h4.3v1.6h-4.3zM443.5 74.9h2.9v1.6h-2.9zM308.4 76.2h17.6v1.6h-17.6zM340.5 76.2h1.6v1.6h-1.6zM345.9 76.2h2.9v1.6h-2.9zM444.9 76.2h2.9v1.6h-2.9zM323.1 77.5h2.9v1.6h-2.9zM444.9 77.5h4.3v1.6h-4.3zM447.6 78.8h2.9v1.6h-2.9zM448.9 80.2h2.9v1.6h-2.9zM450.2 81.5h2.9v1.6h-2.9zM451.6 82.8h2.9v1.6h-2.9zM452.9 84.1h1.6v1.6h-1.6zM454.2 85.5h1.6v1.6h-1.6zM459.6 85.5h1.6v1.6h-1.6zM454.2 86.8h1.6v1.6h-1.6zM459.6 86.8h2.9v1.6h-2.9zM455.6 88.1h1.6v1.6h-1.6zM459.6 88.1h4.3v1.6h-4.3zM456.9 89.4h1.6v1.6h-1.6zM460.9 89.4h4.3v1.6h-4.3zM456.9 90.8h2.9v1.6h-2.9zM462.3 90.8h5.6v1.6h-5.6zM458.3 92.1h1.6v1.6h-1.6zM462.3 92.1h4.3v1.6h-4.3zM459.6 93.4h1.6v1.6h-1.6zM463.6 93.4h1.6v1.6h-1.6zM315.1 104.0h2.9v1.6h-2.9zM324.5 104.0h1.6v1.6h-1.6zM335.2 104.0h2.9v1.6h-2.9zM349.9 104.0h1.6v1.6h-1.6zM315.1 105.3h4.3v1.6h-4.3zM323.1 105.3h15.0v1.6h-15.0zM340.5 105.3h6.9v1.6h-6.9zM348.5 105.3h8.3v1.6h-8.3zM313.8 106.7h28.3v1.6h-28.3zM344.5 106.7h13.6v1.6h-13.6zM312.4 108.0h17.6v1.6h-17.6zM336.5 108.0h4.3v1.6h-4.3zM344.5 108.0h12.3v1.6h-12.3zM309.7 109.3h20.3v1.6h-20.3zM345.9 109.3h1.6v1.6h-1.6zM349.9 109.3h8.3v1.6h-8.3zM308.4 110.6h20.3v1.6h-20.3zM351.2 110.6h6.9v1.6h-6.9zM308.4 112.0h20.3v1.6h-20.3zM349.9 112.0h8.3v1.6h-8.3z"/>
<path fill="#2b7f8e" d="M395.4 25.8h6.9v1.6h-6.9zM406.1 25.8h5.6v1.6h-5.6zM395.4 27.1h6.9v1.6h-6.9zM406.1 27.1h5.6v1.6h-5.6zM392.7 28.5h9.6v1.6h-9.6zM406.1 28.5h1.6v1.6h-1.6zM391.4 29.8h16.3v1.6h-16.3zM391.4 31.1h16.3v1.6h-16.3zM402.1 32.4h2.9v1.6h-2.9zM309.7 57.6h2.9v1.6h-2.9zM316.4 57.6h1.6v1.6h-1.6zM295.0 58.9h4.3v1.6h-4.3zM300.4 58.9h28.3v1.6h-28.3zM289.7 60.3h9.6v1.6h-9.6zM317.8 60.3h2.9v1.6h-2.9zM323.1 60.3h1.6v1.6h-1.6zM328.5 60.3h11.0v1.6h-11.0zM345.9 60.3h2.9v1.6h-2.9zM349.9 60.3h2.9v1.6h-2.9zM353.9 60.3h4.3v1.6h-4.3zM454.2 60.3h1.6v1.6h-1.6zM285.7 61.6h5.6v1.6h-5.6zM340.5 61.6h24.3v1.6h-24.3zM369.9 61.6h2.9v1.6h-2.9zM378.0 61.6h1.6v1.6h-1.6zM396.7 61.6h2.9v1.6h-2.9zM400.7 61.6h2.9v1.6h-2.9zM415.4 61.6h1.6v1.6h-1.6zM436.8 61.6h19.0v1.6h-19.0zM281.6 62.9h4.3v1.6h-4.3zM352.6 62.9h1.6v1.6h-1.6zM363.3 62.9h35.0v1.6h-35.0zM399.4 62.9h39.1v1.6h-39.1zM440.9 62.9h2.9v1.6h-2.9zM444.9 62.9h1.6v1.6h-1.6zM454.2 62.9h1.6v1.6h-1.6zM279.0 64.2h1.6v1.6h-1.6zM367.3 64.2h2.9v1.6h-2.9zM384.7 64.2h1.6v1.6h-1.6zM403.4 64.2h5.6v1.6h-5.6zM412.8 64.2h8.3v1.6h-8.3zM276.3 65.6h4.3v1.6h-4.3zM416.8 65.6h2.9v1.6h-2.9zM280.3 66.9h2.9v1.6h-2.9zM281.6 68.2h6.9v1.6h-6.9zM375.3 68.2h2.9v1.6h-2.9zM400.7 68.2h1.6v1.6h-1.6zM415.4 68.2h1.6v1.6h-1.6zM420.8 68.2h1.6v1.6h-1.6zM287.0 69.5h1.6v1.6h-1.6zM343.2 69.5h4.3v1.6h-4.3zM356.6 69.5h4.3v1.6h-4.3zM363.3 69.5h6.9v1.6h-6.9zM371.3 69.5h6.9v1.6h-6.9zM380.7 69.5h63.1v1.6h-63.1zM335.2 70.9h29.7v1.6h-29.7zM365.9 70.9h5.6v1.6h-5.6zM372.6 70.9h11.0v1.6h-11.0zM388.7 70.9h6.9v1.6h-6.9zM398.0 70.9h5.6v1.6h-5.6zM408.8 70.9h6.9v1.6h-6.9zM423.5 70.9h2.9v1.6h-2.9zM427.5 70.9h17.6v1.6h-17.6zM451.6 70.9h2.9v1.6h-2.9zM293.7 72.2h4.3v1.6h-4.3zM300.4 72.2h4.3v1.6h-4.3zM307.1 72.2h2.9v1.6h-2.9zM323.1 72.2h6.9v1.6h-6.9zM332.5 72.2h4.3v1.6h-4.3zM339.2 72.2h1.6v1.6h-1.6zM344.5 72.2h8.3v1.6h-8.3zM355.2 72.2h4.3v1.6h-4.3zM390.0 72.2h1.6v1.6h-1.6zM442.2 72.2h4.3v1.6h-4.3zM301.7 73.5h11.0v1.6h-11.0zM316.4 73.5h17.6v1.6h-17.6zM344.5 73.5h4.3v1.6h-4.3zM446.2 73.5h1.6v1.6h-1.6zM312.4 74.9h4.3v1.6h-4.3zM321.8 74.9h5.6v1.6h-5.6zM446.2 74.9h2.9v1.6h-2.9zM447.6 76.2h2.9v1.6h-2.9zM448.9 77.5h2.9v1.6h-2.9zM452.9 77.5h1.6v1.6h-1.6zM450.2 78.8h6.9v1.6h-6.9zM451.6 80.2h6.9v1.6h-6.9zM452.9 81.5h1.6v1.6h-1.6zM455.6 81.5h2.9v1.6h-2.9zM454.2 82.8h5.6v1.6h-5.6zM454.2 84.1h1.6v1.6h-1.6zM456.9 84.1h2.9v1.6h-2.9zM458.3 85.5h1.6v1.6h-1.6zM455.6 86.8h4.3v1.6h-4.3zM456.9 88.1h2.9v1.6h-2.9zM458.3 89.4h2.9v1.6h-2.9zM459.6 90.8h2.9v1.6h-2.9zM459.6 92.1h2.9v1.6h-2.9zM460.9 93.4h2.9v1.6h-2.9zM341.9 106.7h2.9v1.6h-2.9zM329.8 108.0h6.9v1.6h-6.9zM340.5 108.0h4.3v1.6h-4.3zM329.8 109.3h16.3v1.6h-16.3zM347.2 109.3h2.9v1.6h-2.9zM328.5 110.6h23.0v1.6h-23.0zM328.5 112.0h21.7v1.6h-21.7z"/>
<path fill="#3a9a88" d="M402.1 25.8h4.3v1.6h-4.3zM402.1 27.1h4.3v1.6h-4.3zM402.1 28.5h4.3v1.6h-4.3zM299.0 60.3h19.0v1.6h-19.0zM320.4 60.3h2.9v1.6h-2.9zM324.5 60.3h4.3v1.6h-4.3zM291.0 61.6h8.3v1.6h-8.3zM303.0 61.6h2.9v1.6h-2.9zM316.4 61.6h24.3v1.6h-24.3zM285.7 62.9h5.6v1.6h-5.6zM336.5 62.9h16.3v1.6h-16.3zM353.9 62.9h9.6v1.6h-9.6zM398.0 62.9h1.6v1.6h-1.6zM438.2 62.9h2.9v1.6h-2.9zM443.5 62.9h1.6v1.6h-1.6zM446.2 62.9h8.3v1.6h-8.3zM280.3 64.2h5.6v1.6h-5.6zM351.2 64.2h4.3v1.6h-4.3zM357.9 64.2h9.6v1.6h-9.6zM369.9 64.2h15.0v1.6h-15.0zM386.0 64.2h17.6v1.6h-17.6zM408.8 64.2h4.3v1.6h-4.3zM420.8 64.2h25.7v1.6h-25.7zM447.6 64.2h4.3v1.6h-4.3zM280.3 65.6h2.9v1.6h-2.9zM365.9 65.6h4.3v1.6h-4.3zM374.0 65.6h2.9v1.6h-2.9zM383.3 65.6h2.9v1.6h-2.9zM387.3 65.6h2.9v1.6h-2.9zM400.7 65.6h16.3v1.6h-16.3zM419.5 65.6h8.3v1.6h-8.3zM434.2 65.6h1.6v1.6h-1.6zM442.2 65.6h1.6v1.6h-1.6zM283.0 66.9h5.6v1.6h-5.6zM353.9 66.9h2.9v1.6h-2.9zM365.9 66.9h24.3v1.6h-24.3zM394.0 66.9h17.6v1.6h-17.6zM412.8 66.9h16.3v1.6h-16.3zM434.2 66.9h1.6v1.6h-1.6zM288.3 68.2h4.3v1.6h-4.3zM343.2 68.2h5.6v1.6h-5.6zM349.9 68.2h25.7v1.6h-25.7zM378.0 68.2h23.0v1.6h-23.0zM402.1 68.2h13.6v1.6h-13.6zM416.8 68.2h4.3v1.6h-4.3zM422.1 68.2h23.0v1.6h-23.0zM447.6 68.2h6.9v1.6h-6.9zM292.3 69.5h6.9v1.6h-6.9zM304.4 69.5h1.6v1.6h-1.6zM319.1 69.5h1.6v1.6h-1.6zM331.1 69.5h12.3v1.6h-12.3zM347.2 69.5h9.6v1.6h-9.6zM360.6 69.5h2.9v1.6h-2.9zM369.9 69.5h1.6v1.6h-1.6zM378.0 69.5h2.9v1.6h-2.9zM443.5 69.5h2.9v1.6h-2.9zM448.9 69.5h5.6v1.6h-5.6zM293.7 70.9h4.3v1.6h-4.3zM300.4 70.9h12.3v1.6h-12.3zM313.8 70.9h1.6v1.6h-1.6zM317.8 70.9h17.6v1.6h-17.6zM444.9 70.9h2.9v1.6h-2.9zM448.9 70.9h2.9v1.6h-2.9zM304.4 72.2h2.9v1.6h-2.9zM309.7 72.2h13.6v1.6h-13.6zM329.8 72.2h2.9v1.6h-2.9zM446.2 72.2h6.9v1.6h-6.9zM312.4 73.5h4.3v1.6h-4.3zM447.6 73.5h6.9v1.6h-6.9zM448.9 74.9h4.3v1.6h-4.3zM450.2 76.2h4.3v1.6h-4.3zM451.6 77.5h1.6v1.6h-1.6zM454.2 77.5h1.6v1.6h-1.6zM454.2 81.5h1.6v1.6h-1.6zM455.6 84.1h1.6v1.6h-1.6zM455.6 85.5h2.9v1.6h-2.9z"/>
<path fill="#5cb877" d="M299.0 61.6h4.3v1.6h-4.3zM305.7 61.6h11.0v1.6h-11.0zM291.0 62.9h8.3v1.6h-8.3zM305.7 62.9h2.9v1.6h-2.9zM315.1 62.9h21.7v1.6h-21.7zM285.7 64.2h6.9v1.6h-6.9zM296.4 64.2h1.6v1.6h-1.6zM316.4 64.2h1.6v1.6h-1.6zM331.1 64.2h20.3v1.6h-20.3zM355.2 64.2h2.9v1.6h-2.9zM446.2 64.2h1.6v1.6h-1.6zM451.6 64.2h2.9v1.6h-2.9zM283.0 65.6h6.9v1.6h-6.9zM340.5 65.6h1.6v1.6h-1.6zM351.2 65.6h15.0v1.6h-15.0zM369.9 65.6h4.3v1.6h-4.3zM376.6 65.6h6.9v1.6h-6.9zM386.0 65.6h1.6v1.6h-1.6zM390.0 65.6h11.0v1.6h-11.0zM427.5 65.6h6.9v1.6h-6.9zM435.5 65.6h6.9v1.6h-6.9zM443.5 65.6h1.6v1.6h-1.6zM446.2 65.6h8.3v1.6h-8.3zM288.3 66.9h5.6v1.6h-5.6zM331.1 66.9h11.0v1.6h-11.0zM343.2 66.9h11.0v1.6h-11.0zM356.6 66.9h9.6v1.6h-9.6zM390.0 66.9h4.3v1.6h-4.3zM411.4 66.9h1.6v1.6h-1.6zM428.8 66.9h5.6v1.6h-5.6zM435.5 66.9h19.0v1.6h-19.0zM292.3 68.2h15.0v1.6h-15.0zM317.8 68.2h2.9v1.6h-2.9zM323.1 68.2h20.3v1.6h-20.3zM348.5 68.2h1.6v1.6h-1.6zM444.9 68.2h2.9v1.6h-2.9zM299.0 69.5h5.6v1.6h-5.6zM305.7 69.5h13.6v1.6h-13.6zM320.4 69.5h11.0v1.6h-11.0zM446.2 69.5h2.9v1.6h-2.9zM312.4 70.9h1.6v1.6h-1.6zM315.1 70.9h2.9v1.6h-2.9zM447.6 70.9h1.6v1.6h-1.6zM452.9 74.9h1.6v1.6h-1.6z"/>
<path fill="#a6d462" d="M299.0 62.9h6.9v1.6h-6.9zM308.4 62.9h6.9v1.6h-6.9zM292.3 64.2h4.3v1.6h-4.3zM297.7 64.2h2.9v1.6h-2.9zM303.0 64.2h1.6v1.6h-1.6zM305.7 64.2h2.9v1.6h-2.9zM312.4 64.2h4.3v1.6h-4.3zM317.8 64.2h13.6v1.6h-13.6zM289.7 65.6h9.6v1.6h-9.6zM316.4 65.6h4.3v1.6h-4.3zM321.8 65.6h5.6v1.6h-5.6zM329.8 65.6h11.0v1.6h-11.0zM341.9 65.6h9.6v1.6h-9.6zM444.9 65.6h1.6v1.6h-1.6zM293.7 66.9h13.6v1.6h-13.6zM309.7 66.9h21.7v1.6h-21.7zM341.9 66.9h1.6v1.6h-1.6zM307.1 68.2h11.0v1.6h-11.0zM320.4 68.2h2.9v1.6h-2.9z"/>
<path fill="#e0e68a" d="M300.4 64.2h2.9v1.6h-2.9zM304.4 64.2h1.6v1.6h-1.6zM308.4 64.2h4.3v1.6h-4.3zM299.0 65.6h17.6v1.6h-17.6zM320.4 65.6h1.6v1.6h-1.6zM327.1 65.6h2.9v1.6h-2.9zM307.1 66.9h2.9v1.6h-2.9z"/>
<g transform="translate(0,0.00)" fill="none" stroke="#000" stroke-width="0.85" stroke-linejoin="round">
<path d="M222.74,66.46 L225.08,65.52 L227.41,66.3 L228.97,69.89 L230.53,68.33 L233.33,67.24 L237.53,68.8 L242.98,70.83 L245.79,72.7 L248.43,74.26 L249.21,77.38 L252.64,81.12 L250.77,81.28 L247.65,79.72 L245.32,77.38 L242.2,78.94 L240.65,79.41 L238.31,79.1 L235.2,77.54 L233.64,78.0 L233.33,76.6 L234.42,75.51 L230.53,72.23 L227.41,70.83 L224.3,69.42 L222.74,67.24 Z"/>
<path d="M213.4,87.21 L214.96,86.58 L217.29,86.74 L219.63,88.3 L220.87,88.14 L221.96,84.4 L224.3,82.84 L225.86,83.31 L228.97,83.93 L231.62,83.93 L231.31,85.96 L229.75,88.3 L232.86,90.17 L235.67,92.2 L237.53,92.2 L239.09,88.3 L239.4,84.4 L240.65,81.59 L242.2,84.4 L242.52,86.74 L245.01,88.3 L245.32,91.42 L246.56,94.54 L249.99,96.88 L251.55,99.69 L253.57,100.78 L254.66,103.12 L257.0,104.68 L257.77,108.58 L257.31,114.04"/>
<path d="M410.36,25.9 L413.01,29.02 L415.03,32.14 L415.5,34.48 L418.15,36.35 L421.26,37.6 L426.71,39.63 L431.38,39.94 L434.49,41.19 L436.83,43.06 L440.72,44.15 L443.06,44.62 L444.61,46.18 L445.86,48.52 L446.17,49.61 L448.51,50.55 L450.84,52.11 L453.49,53.51 L455.05,51.64 L457.07,51.95 L457.85,53.67 L458.63,55.54 L458.94,58.66 L457.54,61.0 L455.51,63.03 L454.74,64.9 L454.11,66.46 L453.18,68.49 L454.89,70.05 L452.87,72.7 L454.74,75.82 L457.07,79.72 L459.41,83.62 L460.96,86.74 L464.08,89.55 L467.19,91.42 L469.53,93.29 L470.15,95.32 L470.3,114.04"/>
<path d="M471.08,46.18 L469.53,46.49 L467.97,47.74 L467.19,46.49 L464.86,47.27 L461.74,48.52 L460.65,50.39 L458.94,51.64 L455.51,50.08 L452.4,51.17 L450.84,49.92 L448.97,47.74 L449.29,45.4 L449.6,42.28 L448.51,40.25 L445.39,40.1 L441.97,40.25 L441.81,37.6 L443.06,34.48 L443.84,31.36 L441.5,31.52 L438.7,32.14 L438.08,34.48 L436.05,35.88 L432.16,36.51 L429.36,34.79 L427.8,31.36 L427.18,28.24 L427.49,25.12"/>
<path d="M446.95,30.74 L450.06,29.18 L452.4,28.71 L454.74,28.86 L457.85,30.11 L459.41,31.36 L461.74,32.61 L463.77,33.39 L462.52,33.86 L458.63,33.86 L458.63,32.61 L457.07,31.36 L453.96,30.74 L451.62,30.11 L449.29,30.58 L446.95,30.89 Z"/>
<path d="M463.3,36.2 L465.63,34.01 L467.97,33.86 L470.3,34.17 L471.86,35.26 L472.95,36.04 L471.08,36.51 L468.75,37.29 L466.41,36.66 L463.45,36.51 Z"/>
<path d="M457.38,36.35 L459.09,36.04 L460.65,36.82 L459.41,37.13 L457.38,36.66 Z"/>
<path d="M405.69,25.12 L407.25,27.15 L408.8,28.71 L407.71,28.24 L406.47,26.68 L404.91,25.12"/>
<path d="M217.29,61.47 L218.38,62.56 L218.07,64.12 L219.16,64.43 L218.07,65.68 L217.29,63.81 L217.45,62.4 Z"/>
<path d="M249.99,73.48 L253.1,72.7 L255.44,71.45 L255.91,73.48 L253.1,74.57 L250.77,74.26 Z"/>
<path d="M253.57,68.96 L256.22,70.36 L257.31,72.08 L256.22,71.14"/>
<path d="M259.8,73.17 L261.36,75.04 L260.89,75.51 L259.64,73.64 Z"/>
<path d="M262.45,75.82 L264.78,77.07 L264.31,77.54 L262.29,76.44 Z"/>
<path d="M266.34,77.85 L268.98,79.25 L268.67,79.88 L266.34,78.47 Z"/>
<path d="M269.14,78.16 L270.23,79.88 L269.76,80.19 L268.83,78.63 Z"/>
<path d="M267.12,79.41 L269.14,80.19 L268.21,80.5 Z"/>
<path d="M330.2,30.0 L332.3,31.2 L334.6,32.4"/>
<path d="M336.2,33.4 L337.8,33.9 L337.4,35.3 L336.3,34.8 Z"/>
</g>
<line x1="236.75" y1="25.8" x2="236.75" y2="113.3" stroke="#c8c8c8" stroke-width="0.5" stroke-dasharray="2,1.5" opacity="0.7"/>
<line x1="299.03" y1="25.8" x2="299.03" y2="113.3" stroke="#c8c8c8" stroke-width="0.5" stroke-dasharray="2,1.5" opacity="0.7"/>
<line x1="361.31" y1="25.8" x2="361.31" y2="113.3" stroke="#c8c8c8" stroke-width="0.5" stroke-dasharray="2,1.5" opacity="0.7"/>
<line x1="423.60" y1="25.8" x2="423.60" y2="113.3" stroke="#c8c8c8" stroke-width="0.5" stroke-dasharray="2,1.5" opacity="0.7"/>
<line x1="213.4" y1="33.70" x2="470.3" y2="33.70" stroke="#c8c8c8" stroke-width="0.5" stroke-dasharray="2,1.5" opacity="0.7"/>
<line x1="213.4" y1="49.30" x2="470.3" y2="49.30" stroke="#c8c8c8" stroke-width="0.5" stroke-dasharray="2,1.5" opacity="0.7"/>
<line x1="213.4" y1="64.90" x2="470.3" y2="64.90" stroke="#c8c8c8" stroke-width="0.5" stroke-dasharray="2,1.5" opacity="0.7"/>
<line x1="213.4" y1="80.50" x2="470.3" y2="80.50" stroke="#c8c8c8" stroke-width="0.5" stroke-dasharray="2,1.5" opacity="0.7"/>
<line x1="213.4" y1="96.10" x2="470.3" y2="96.10" stroke="#c8c8c8" stroke-width="0.5" stroke-dasharray="2,1.5" opacity="0.7"/>
<rect x="213.4" y="25.8" width="256.90" height="87.5" fill="none" stroke="#000" stroke-width="0.9"/>
<text x="209.00" y="36.20" font-size="7.1" text-anchor="end" font-weight="normal" fill="#000" textLength="17.14" lengthAdjust="spacingAndGlyphs" >20°N</text>
<text x="209.00" y="51.80" font-size="7.1" text-anchor="end" font-weight="normal" fill="#000" textLength="17.14" lengthAdjust="spacingAndGlyphs" >10°N</text>
<text x="209.00" y="67.40" font-size="7.1" text-anchor="end" font-weight="normal" fill="#000" textLength="7.73" lengthAdjust="spacingAndGlyphs" >0°</text>
<text x="209.00" y="83.00" font-size="7.1" text-anchor="end" font-weight="normal" fill="#000" textLength="16.37" lengthAdjust="spacingAndGlyphs" >10°S</text>
<text x="209.00" y="98.60" font-size="7.1" text-anchor="end" font-weight="normal" fill="#000" textLength="16.37" lengthAdjust="spacingAndGlyphs" >20°S</text>
<text x="236.75" y="122.90" font-size="7.1" text-anchor="middle" font-weight="normal" fill="#000" textLength="20.68" lengthAdjust="spacingAndGlyphs" >140°E</text>
<text x="299.03" y="122.90" font-size="7.1" text-anchor="middle" font-weight="normal" fill="#000" textLength="16.38" lengthAdjust="spacingAndGlyphs" >180°</text>
<text x="361.31" y="122.90" font-size="7.1" text-anchor="middle" font-weight="normal" fill="#000" textLength="23.10" lengthAdjust="spacingAndGlyphs" >140°W</text>
<text x="423.60" y="122.90" font-size="7.1" text-anchor="middle" font-weight="normal" fill="#000" textLength="23.10" lengthAdjust="spacingAndGlyphs" >100°W</text>
<text x="219.30" y="22.90" font-size="7.2" text-anchor="start" font-weight="bold" fill="#000" textLength="10.40" lengthAdjust="spacingAndGlyphs" >(b)</text>
<text x="236.7" y="12.0" font-size="7.3" font-weight="bold" textLength="210.1" lengthAdjust="spacingAndGlyphs">Number of alert days (DHW&gt;=4°C.weeks<tspan dy="-2.6" font-size="5.2">−1</tspan><tspan dy="2.6">) per year</tspan></text>
<text x="341.8" y="20.4" font-size="7.3" font-weight="bold" text-anchor="middle" textLength="62" lengthAdjust="spacingAndGlyphs">Ensemble mean</text>
<rect x="475.3" y="95.19" width="5.2" height="9.71" fill="#2a186c"/>
<rect x="475.3" y="85.58" width="5.2" height="9.71" fill="#233a9e"/>
<rect x="475.3" y="75.97" width="5.2" height="9.71" fill="#1a6398"/>
<rect x="475.3" y="66.36" width="5.2" height="9.71" fill="#2b7f8e"/>
<rect x="475.3" y="56.75" width="5.2" height="9.71" fill="#3a9a88"/>
<rect x="475.3" y="47.14" width="5.2" height="9.71" fill="#5cb877"/>
<rect x="475.3" y="37.53" width="5.2" height="9.71" fill="#a6d462"/>
<path d="M475.3,37.53 L477.9,33.73 L480.5,37.53Z" fill="#d8e47a"/>
<path d="M475.3,104.80 L475.3,37.53 L477.9,33.73 L480.5,37.53 L480.5,104.80Z" fill="none" stroke="#000" stroke-width="0.5"/>
<line x1="480.5" y1="104.80" x2="483.3" y2="104.80" stroke="#000" stroke-width="0.6"/>
<text x="486.20" y="107.30" font-size="7.1" text-anchor="start" font-weight="normal" fill="#000" textLength="4.33" lengthAdjust="spacingAndGlyphs" >0</text>
<line x1="480.5" y1="95.19" x2="483.3" y2="95.19" stroke="#000" stroke-width="0.6"/>
<text x="486.20" y="97.69" font-size="7.1" text-anchor="start" font-weight="normal" fill="#000" textLength="4.33" lengthAdjust="spacingAndGlyphs" >7</text>
<line x1="480.5" y1="85.58" x2="483.3" y2="85.58" stroke="#000" stroke-width="0.6"/>
<text x="486.20" y="88.08" font-size="7.1" text-anchor="start" font-weight="normal" fill="#000" textLength="8.65" lengthAdjust="spacingAndGlyphs" >14</text>
<line x1="480.5" y1="75.97" x2="483.3" y2="75.97" stroke="#000" stroke-width="0.6"/>
<text x="486.20" y="78.47" font-size="7.1" text-anchor="start" font-weight="normal" fill="#000" textLength="8.65" lengthAdjust="spacingAndGlyphs" >21</text>
<line x1="480.5" y1="66.36" x2="483.3" y2="66.36" stroke="#000" stroke-width="0.6"/>
<text x="486.20" y="68.86" font-size="7.1" text-anchor="start" font-weight="normal" fill="#000" textLength="8.65" lengthAdjust="spacingAndGlyphs" >28</text>
<line x1="480.5" y1="56.75" x2="483.3" y2="56.75" stroke="#000" stroke-width="0.6"/>
<text x="486.20" y="59.25" font-size="7.1" text-anchor="start" font-weight="normal" fill="#000" textLength="8.65" lengthAdjust="spacingAndGlyphs" >35</text>
<line x1="480.5" y1="47.14" x2="483.3" y2="47.14" stroke="#000" stroke-width="0.6"/>
<text x="486.20" y="49.64" font-size="7.1" text-anchor="start" font-weight="normal" fill="#000" textLength="8.65" lengthAdjust="spacingAndGlyphs" >42</text>
<line x1="480.5" y1="37.53" x2="483.3" y2="37.53" stroke="#000" stroke-width="0.6"/>
<text x="486.20" y="40.03" font-size="7.1" text-anchor="start" font-weight="normal" fill="#000" textLength="8.65" lengthAdjust="spacingAndGlyphs" >49</text>
<rect x="213.4" y="154.6" width="256.90" height="87.5" fill="#2a186c"/>
<path fill="#1f4aa0" d="M217.4 154.6h1.6v1.6h-1.6zM220.1 154.6h2.9v1.6h-2.9zM233.5 154.6h1.6v1.6h-1.6zM236.1 154.6h2.9v1.6h-2.9zM328.5 154.6h1.6v1.6h-1.6zM336.5 154.6h1.6v1.6h-1.6zM343.2 154.6h1.6v1.6h-1.6zM382.0 154.6h2.9v1.6h-2.9zM386.0 154.6h1.6v1.6h-1.6zM391.4 154.6h4.3v1.6h-4.3zM407.4 154.6h4.3v1.6h-4.3zM217.4 155.9h1.6v1.6h-1.6zM220.1 155.9h2.9v1.6h-2.9zM233.5 155.9h1.6v1.6h-1.6zM237.5 155.9h1.6v1.6h-1.6zM328.5 155.9h1.6v1.6h-1.6zM336.5 155.9h1.6v1.6h-1.6zM341.9 155.9h1.6v1.6h-1.6zM383.3 155.9h12.3v1.6h-12.3zM407.4 155.9h4.3v1.6h-4.3zM216.1 157.3h2.9v1.6h-2.9zM220.1 157.3h4.3v1.6h-4.3zM232.1 157.3h6.9v1.6h-6.9zM299.0 157.3h1.6v1.6h-1.6zM321.8 157.3h6.9v1.6h-6.9zM337.8 157.3h1.6v1.6h-1.6zM341.9 157.3h1.6v1.6h-1.6zM383.3 157.3h12.3v1.6h-12.3zM407.4 157.3h4.3v1.6h-4.3zM216.1 158.6h2.9v1.6h-2.9zM220.1 158.6h5.6v1.6h-5.6zM229.5 158.6h5.6v1.6h-5.6zM296.4 158.6h2.9v1.6h-2.9zM300.4 158.6h2.9v1.6h-2.9zM321.8 158.6h1.6v1.6h-1.6zM337.8 158.6h1.6v1.6h-1.6zM341.9 158.6h2.9v1.6h-2.9zM383.3 158.6h1.6v1.6h-1.6zM386.0 158.6h1.6v1.6h-1.6zM392.7 158.6h5.6v1.6h-5.6zM406.1 158.6h5.6v1.6h-5.6zM216.1 159.9h1.6v1.6h-1.6zM221.4 159.9h2.9v1.6h-2.9zM229.5 159.9h1.6v1.6h-1.6zM232.1 159.9h2.9v1.6h-2.9zM301.7 159.9h1.6v1.6h-1.6zM321.8 159.9h1.6v1.6h-1.6zM336.5 159.9h2.9v1.6h-2.9zM341.9 159.9h1.6v1.6h-1.6zM344.5 159.9h1.6v1.6h-1.6zM372.6 159.9h2.9v1.6h-2.9zM383.3 159.9h5.6v1.6h-5.6zM394.0 159.9h1.6v1.6h-1.6zM396.7 159.9h2.9v1.6h-2.9zM404.7 159.9h5.6v1.6h-5.6zM216.1 161.2h2.9v1.6h-2.9zM220.1 161.2h2.9v1.6h-2.9zM228.1 161.2h6.9v1.6h-6.9zM293.7 161.2h1.6v1.6h-1.6zM301.7 161.2h1.6v1.6h-1.6zM305.7 161.2h6.9v1.6h-6.9zM315.1 161.2h5.6v1.6h-5.6zM336.5 161.2h9.6v1.6h-9.6zM372.6 161.2h2.9v1.6h-2.9zM384.7 161.2h5.6v1.6h-5.6zM392.7 161.2h1.6v1.6h-1.6zM396.7 161.2h2.9v1.6h-2.9zM404.7 161.2h4.3v1.6h-4.3zM217.4 162.6h4.3v1.6h-4.3zM226.8 162.6h6.9v1.6h-6.9zM292.3 162.6h1.6v1.6h-1.6zM304.4 162.6h1.6v1.6h-1.6zM339.2 162.6h4.3v1.6h-4.3zM384.7 162.6h8.3v1.6h-8.3zM396.7 162.6h1.6v1.6h-1.6zM216.1 163.9h5.6v1.6h-5.6zM225.4 163.9h5.6v1.6h-5.6zM292.3 163.9h1.6v1.6h-1.6zM384.7 163.9h9.6v1.6h-9.6zM396.7 163.9h1.6v1.6h-1.6zM217.4 165.2h4.3v1.6h-4.3zM225.4 165.2h1.6v1.6h-1.6zM284.3 165.2h4.3v1.6h-4.3zM289.7 165.2h4.3v1.6h-4.3zM304.4 165.2h1.6v1.6h-1.6zM387.3 165.2h4.3v1.6h-4.3zM392.7 165.2h5.6v1.6h-5.6zM283.0 166.5h1.6v1.6h-1.6zM303.0 166.5h2.9v1.6h-2.9zM386.0 166.5h1.6v1.6h-1.6zM388.7 166.5h6.9v1.6h-6.9zM396.7 166.5h2.9v1.6h-2.9zM407.4 166.5h2.9v1.6h-2.9zM283.0 167.9h1.6v1.6h-1.6zM304.4 167.9h1.6v1.6h-1.6zM386.0 167.9h1.6v1.6h-1.6zM390.0 167.9h2.9v1.6h-2.9zM398.0 167.9h1.6v1.6h-1.6zM404.7 167.9h5.6v1.6h-5.6zM224.1 169.2h1.6v1.6h-1.6zM280.3 169.2h1.6v1.6h-1.6zM359.2 169.2h1.6v1.6h-1.6zM386.0 169.2h4.3v1.6h-4.3zM398.0 169.2h1.6v1.6h-1.6zM404.7 169.2h5.6v1.6h-5.6zM224.1 170.5h1.6v1.6h-1.6zM229.5 170.5h1.6v1.6h-1.6zM276.3 170.5h2.9v1.6h-2.9zM319.1 170.5h5.6v1.6h-5.6zM351.2 170.5h9.6v1.6h-9.6zM396.7 170.5h2.9v1.6h-2.9zM404.7 170.5h4.3v1.6h-4.3zM224.1 171.8h1.6v1.6h-1.6zM229.5 171.8h1.6v1.6h-1.6zM313.8 171.8h1.6v1.6h-1.6zM348.5 171.8h2.9v1.6h-2.9zM360.6 171.8h2.9v1.6h-2.9zM395.4 171.8h2.9v1.6h-2.9zM313.8 173.2h1.6v1.6h-1.6zM349.9 173.2h1.6v1.6h-1.6zM361.9 173.2h1.6v1.6h-1.6zM394.0 173.2h1.6v1.6h-1.6zM452.9 173.2h4.3v1.6h-4.3zM276.3 174.5h1.6v1.6h-1.6zM349.9 174.5h1.6v1.6h-1.6zM361.9 174.5h1.6v1.6h-1.6zM394.0 174.5h1.6v1.6h-1.6zM226.8 175.8h1.6v1.6h-1.6zM276.3 175.8h1.6v1.6h-1.6zM349.9 175.8h1.6v1.6h-1.6zM360.6 175.8h1.6v1.6h-1.6zM394.0 175.8h1.6v1.6h-1.6zM226.8 177.1h1.6v1.6h-1.6zM337.8 177.1h2.9v1.6h-2.9zM348.5 177.1h2.9v1.6h-2.9zM352.6 177.1h8.3v1.6h-8.3zM394.0 177.1h1.6v1.6h-1.6zM332.5 178.5h2.9v1.6h-2.9zM340.5 178.5h1.6v1.6h-1.6zM348.5 178.5h4.3v1.6h-4.3zM353.9 178.5h4.3v1.6h-4.3zM420.8 178.5h1.6v1.6h-1.6zM331.1 179.8h1.6v1.6h-1.6zM343.2 179.8h2.9v1.6h-2.9zM349.9 179.8h1.6v1.6h-1.6zM422.1 179.8h1.6v1.6h-1.6zM274.9 181.1h1.6v1.6h-1.6zM287.0 181.1h1.6v1.6h-1.6zM331.1 181.1h1.6v1.6h-1.6zM344.5 181.1h2.9v1.6h-2.9zM348.5 181.1h12.3v1.6h-12.3zM382.0 181.1h1.6v1.6h-1.6zM398.0 181.1h4.3v1.6h-4.3zM442.2 181.1h8.3v1.6h-8.3zM273.6 182.4h2.9v1.6h-2.9zM289.7 182.4h1.6v1.6h-1.6zM301.7 182.4h2.9v1.6h-2.9zM315.1 182.4h1.6v1.6h-1.6zM320.4 182.4h5.6v1.6h-5.6zM327.1 182.4h4.3v1.6h-4.3zM345.9 182.4h1.6v1.6h-1.6zM355.2 182.4h13.6v1.6h-13.6zM382.0 182.4h1.6v1.6h-1.6zM426.1 182.4h1.6v1.6h-1.6zM442.2 182.4h2.9v1.6h-2.9zM277.6 183.8h1.6v1.6h-1.6zM313.8 183.8h1.6v1.6h-1.6zM368.6 183.8h1.6v1.6h-1.6zM426.1 183.8h1.6v1.6h-1.6zM440.9 183.8h4.3v1.6h-4.3zM266.9 185.1h4.3v1.6h-4.3zM272.3 185.1h1.6v1.6h-1.6zM312.4 185.1h4.3v1.6h-4.3zM321.8 185.1h1.6v1.6h-1.6zM325.8 185.1h4.3v1.6h-4.3zM331.1 185.1h13.6v1.6h-13.6zM347.2 185.1h2.9v1.6h-2.9zM355.2 185.1h6.9v1.6h-6.9zM365.9 185.1h2.9v1.6h-2.9zM419.5 185.1h1.6v1.6h-1.6zM427.5 185.1h2.9v1.6h-2.9zM434.2 185.1h1.6v1.6h-1.6zM443.5 185.1h1.6v1.6h-1.6zM264.2 186.4h2.9v1.6h-2.9zM269.6 186.4h1.6v1.6h-1.6zM272.3 186.4h2.9v1.6h-2.9zM293.7 186.4h5.6v1.6h-5.6zM304.4 186.4h2.9v1.6h-2.9zM327.1 186.4h1.6v1.6h-1.6zM331.1 186.4h1.6v1.6h-1.6zM357.9 186.4h1.6v1.6h-1.6zM363.3 186.4h1.6v1.6h-1.6zM418.1 186.4h2.9v1.6h-2.9zM430.2 186.4h1.6v1.6h-1.6zM264.2 187.7h1.6v1.6h-1.6zM272.3 187.7h2.9v1.6h-2.9zM281.6 187.7h1.6v1.6h-1.6zM292.3 187.7h1.6v1.6h-1.6zM297.7 187.7h1.6v1.6h-1.6zM300.4 187.7h2.9v1.6h-2.9zM304.4 187.7h2.9v1.6h-2.9zM431.5 187.7h2.9v1.6h-2.9zM264.2 189.1h1.6v1.6h-1.6zM281.6 189.1h11.0v1.6h-11.0zM299.0 189.1h1.6v1.6h-1.6zM301.7 189.1h4.3v1.6h-4.3zM264.2 190.4h1.6v1.6h-1.6zM283.0 190.4h9.6v1.6h-9.6zM299.0 190.4h1.6v1.6h-1.6zM303.0 190.4h1.6v1.6h-1.6zM264.2 191.7h1.6v1.6h-1.6zM284.3 191.7h2.9v1.6h-2.9zM297.7 191.7h4.3v1.6h-4.3zM264.2 193.0h1.6v1.6h-1.6zM297.7 193.0h1.6v1.6h-1.6zM300.4 193.0h1.6v1.6h-1.6zM261.6 194.4h1.6v1.6h-1.6zM265.6 194.4h4.3v1.6h-4.3zM272.3 194.4h1.6v1.6h-1.6zM277.6 194.4h1.6v1.6h-1.6zM289.7 194.4h4.3v1.6h-4.3zM300.4 194.4h1.6v1.6h-1.6zM269.6 195.7h5.6v1.6h-5.6zM277.6 195.7h2.9v1.6h-2.9zM291.0 195.7h2.9v1.6h-2.9zM400.7 195.7h4.3v1.6h-4.3zM451.6 195.7h2.9v1.6h-2.9zM269.6 197.0h1.6v1.6h-1.6zM284.3 197.0h2.9v1.6h-2.9zM297.7 197.0h1.6v1.6h-1.6zM300.4 197.0h2.9v1.6h-2.9zM345.9 197.0h2.9v1.6h-2.9zM403.4 197.0h1.6v1.6h-1.6zM438.2 197.0h4.3v1.6h-4.3zM451.6 197.0h2.9v1.6h-2.9zM268.3 198.3h2.9v1.6h-2.9zM283.0 198.3h5.6v1.6h-5.6zM422.1 198.3h8.3v1.6h-8.3zM431.5 198.3h6.9v1.6h-6.9zM442.2 198.3h12.3v1.6h-12.3zM268.3 199.7h2.9v1.6h-2.9zM284.3 199.7h2.9v1.6h-2.9zM293.7 199.7h1.6v1.6h-1.6zM422.1 199.7h1.6v1.6h-1.6zM452.9 199.7h1.6v1.6h-1.6zM269.6 201.0h1.6v1.6h-1.6zM292.3 201.0h4.3v1.6h-4.3zM420.8 201.0h2.9v1.6h-2.9zM448.9 201.0h4.3v1.6h-4.3zM269.6 202.3h2.9v1.6h-2.9zM420.8 202.3h2.9v1.6h-2.9zM448.9 202.3h1.6v1.6h-1.6zM399.4 203.7h1.6v1.6h-1.6zM403.4 203.7h5.6v1.6h-5.6zM419.5 203.7h4.3v1.6h-4.3zM448.9 203.7h1.6v1.6h-1.6zM309.7 205.0h1.6v1.6h-1.6zM312.4 205.0h2.9v1.6h-2.9zM394.0 205.0h2.9v1.6h-2.9zM399.4 205.0h1.6v1.6h-1.6zM404.7 205.0h2.9v1.6h-2.9zM408.8 205.0h2.9v1.6h-2.9zM419.5 205.0h2.9v1.6h-2.9zM438.2 205.0h4.3v1.6h-4.3zM443.5 205.0h1.6v1.6h-1.6zM448.9 205.0h1.6v1.6h-1.6zM308.4 206.3h1.6v1.6h-1.6zM315.1 206.3h1.6v1.6h-1.6zM388.7 206.3h11.0v1.6h-11.0zM404.7 206.3h2.9v1.6h-2.9zM410.1 206.3h2.9v1.6h-2.9zM414.1 206.3h6.9v1.6h-6.9zM436.8 206.3h2.9v1.6h-2.9zM440.9 206.3h1.6v1.6h-1.6zM443.5 206.3h6.9v1.6h-6.9zM277.6 207.6h2.9v1.6h-2.9zM343.2 207.6h4.3v1.6h-4.3zM356.6 207.6h2.9v1.6h-2.9zM369.9 207.6h2.9v1.6h-2.9zM386.0 207.6h1.6v1.6h-1.6zM436.8 207.6h1.6v1.6h-1.6zM341.9 209.0h5.6v1.6h-5.6zM355.2 209.0h5.6v1.6h-5.6zM364.6 209.0h4.3v1.6h-4.3zM369.9 209.0h6.9v1.6h-6.9zM384.7 209.0h2.9v1.6h-2.9zM390.0 209.0h4.3v1.6h-4.3zM396.7 209.0h6.9v1.6h-6.9zM404.7 209.0h8.3v1.6h-8.3zM414.1 209.0h8.3v1.6h-8.3zM424.8 209.0h1.6v1.6h-1.6zM436.8 209.0h1.6v1.6h-1.6zM443.5 209.0h4.3v1.6h-4.3zM316.4 210.3h1.6v1.6h-1.6zM331.1 210.3h1.6v1.6h-1.6zM336.5 210.3h2.9v1.6h-2.9zM347.2 210.3h1.6v1.6h-1.6zM352.6 210.3h21.7v1.6h-21.7zM375.3 210.3h6.9v1.6h-6.9zM383.3 210.3h2.9v1.6h-2.9zM388.7 210.3h2.9v1.6h-2.9zM403.4 210.3h5.6v1.6h-5.6zM419.5 210.3h4.3v1.6h-4.3zM426.1 210.3h1.6v1.6h-1.6zM436.8 210.3h16.3v1.6h-16.3zM455.6 210.3h2.9v1.6h-2.9zM316.4 211.6h1.6v1.6h-1.6zM329.8 211.6h1.6v1.6h-1.6zM336.5 211.6h2.9v1.6h-2.9zM347.2 211.6h4.3v1.6h-4.3zM352.6 211.6h1.6v1.6h-1.6zM388.7 211.6h1.6v1.6h-1.6zM406.1 211.6h1.6v1.6h-1.6zM426.1 211.6h1.6v1.6h-1.6zM448.9 211.6h8.3v1.6h-8.3zM250.9 212.9h2.9v1.6h-2.9zM329.8 212.9h1.6v1.6h-1.6zM336.5 212.9h11.0v1.6h-11.0zM349.9 212.9h4.3v1.6h-4.3zM388.7 212.9h1.6v1.6h-1.6zM426.1 212.9h1.6v1.6h-1.6zM448.9 212.9h8.3v1.6h-8.3zM249.5 214.3h1.6v1.6h-1.6zM252.2 214.3h2.9v1.6h-2.9zM339.2 214.3h4.3v1.6h-4.3zM349.9 214.3h2.9v1.6h-2.9zM388.7 214.3h1.6v1.6h-1.6zM448.9 214.3h6.9v1.6h-6.9zM249.5 215.6h1.6v1.6h-1.6zM253.5 215.6h1.6v1.6h-1.6zM276.3 215.6h5.6v1.6h-5.6zM345.9 215.6h5.6v1.6h-5.6zM388.7 215.6h1.6v1.6h-1.6zM426.1 215.6h1.6v1.6h-1.6zM454.2 215.6h1.6v1.6h-1.6zM249.5 216.9h4.3v1.6h-4.3zM257.6 216.9h6.9v1.6h-6.9zM344.5 216.9h1.6v1.6h-1.6zM348.5 216.9h1.6v1.6h-1.6zM390.0 216.9h1.6v1.6h-1.6zM426.1 216.9h1.6v1.6h-1.6zM444.9 216.9h6.9v1.6h-6.9zM452.9 216.9h1.6v1.6h-1.6zM252.2 218.2h1.6v1.6h-1.6zM262.9 218.2h1.6v1.6h-1.6zM272.3 218.2h1.6v1.6h-1.6zM344.5 218.2h1.6v1.6h-1.6zM348.5 218.2h1.6v1.6h-1.6zM388.7 218.2h2.9v1.6h-2.9zM424.8 218.2h2.9v1.6h-2.9zM442.2 218.2h12.3v1.6h-12.3zM459.6 218.2h2.9v1.6h-2.9zM252.2 219.6h1.6v1.6h-1.6zM345.9 219.6h1.6v1.6h-1.6zM348.5 219.6h1.6v1.6h-1.6zM422.1 219.6h1.6v1.6h-1.6zM442.2 219.6h1.6v1.6h-1.6zM459.6 219.6h2.9v1.6h-2.9zM252.2 220.9h1.6v1.6h-1.6zM332.5 220.9h2.9v1.6h-2.9zM339.2 220.9h1.6v1.6h-1.6zM344.5 220.9h2.9v1.6h-2.9zM349.9 220.9h1.6v1.6h-1.6zM352.6 220.9h1.6v1.6h-1.6zM420.8 220.9h2.9v1.6h-2.9zM426.1 220.9h1.6v1.6h-1.6zM442.2 220.9h4.3v1.6h-4.3zM250.9 222.2h2.9v1.6h-2.9zM264.2 222.2h2.9v1.6h-2.9zM329.8 222.2h2.9v1.6h-2.9zM337.8 222.2h2.9v1.6h-2.9zM343.2 222.2h2.9v1.6h-2.9zM353.9 222.2h1.6v1.6h-1.6zM418.1 222.2h1.6v1.6h-1.6zM446.2 222.2h2.9v1.6h-2.9zM451.6 222.2h5.6v1.6h-5.6zM467.6 222.2h2.9v1.6h-2.9zM249.5 223.5h4.3v1.6h-4.3zM261.6 223.5h1.6v1.6h-1.6zM280.3 223.5h2.9v1.6h-2.9zM327.1 223.5h2.9v1.6h-2.9zM343.2 223.5h1.6v1.6h-1.6zM353.9 223.5h1.6v1.6h-1.6zM418.1 223.5h1.6v1.6h-1.6zM447.6 223.5h2.9v1.6h-2.9zM456.9 223.5h1.6v1.6h-1.6zM467.6 223.5h1.6v1.6h-1.6zM249.5 224.9h4.3v1.6h-4.3zM261.6 224.9h4.3v1.6h-4.3zM301.7 224.9h2.9v1.6h-2.9zM327.1 224.9h1.6v1.6h-1.6zM419.5 224.9h1.6v1.6h-1.6zM447.6 224.9h2.9v1.6h-2.9zM456.9 224.9h5.6v1.6h-5.6zM467.6 224.9h1.6v1.6h-1.6zM261.6 226.2h5.6v1.6h-5.6zM272.3 226.2h4.3v1.6h-4.3zM301.7 226.2h13.6v1.6h-13.6zM323.1 226.2h1.6v1.6h-1.6zM325.8 226.2h2.9v1.6h-2.9zM352.6 226.2h1.6v1.6h-1.6zM356.6 226.2h1.6v1.6h-1.6zM420.8 226.2h2.9v1.6h-2.9zM456.9 226.2h6.9v1.6h-6.9zM466.3 226.2h1.6v1.6h-1.6zM260.2 227.5h6.9v1.6h-6.9zM272.3 227.5h4.3v1.6h-4.3zM301.7 227.5h8.3v1.6h-8.3zM313.8 227.5h1.6v1.6h-1.6zM321.8 227.5h5.6v1.6h-5.6zM353.9 227.5h1.6v1.6h-1.6zM356.6 227.5h2.9v1.6h-2.9zM422.1 227.5h1.6v1.6h-1.6zM462.3 227.5h8.3v1.6h-8.3zM254.9 228.8h1.6v1.6h-1.6zM261.6 228.8h1.6v1.6h-1.6zM268.3 228.8h1.6v1.6h-1.6zM276.3 228.8h15.0v1.6h-15.0zM300.4 228.8h8.3v1.6h-8.3zM315.1 228.8h5.6v1.6h-5.6zM323.1 228.8h1.6v1.6h-1.6zM341.9 228.8h1.6v1.6h-1.6zM353.9 228.8h6.9v1.6h-6.9zM422.1 228.8h1.6v1.6h-1.6zM462.3 228.8h8.3v1.6h-8.3zM254.9 230.2h2.9v1.6h-2.9zM269.6 230.2h1.6v1.6h-1.6zM274.9 230.2h8.3v1.6h-8.3zM291.0 230.2h1.6v1.6h-1.6zM296.4 230.2h5.6v1.6h-5.6zM305.7 230.2h2.9v1.6h-2.9zM315.1 230.2h1.6v1.6h-1.6zM325.8 230.2h1.6v1.6h-1.6zM341.9 230.2h1.6v1.6h-1.6zM355.2 230.2h6.9v1.6h-6.9zM369.9 230.2h4.3v1.6h-4.3zM388.7 230.2h1.6v1.6h-1.6zM464.9 230.2h5.6v1.6h-5.6zM254.9 231.5h6.9v1.6h-6.9zM269.6 231.5h1.6v1.6h-1.6zM276.3 231.5h2.9v1.6h-2.9zM280.3 231.5h2.9v1.6h-2.9zM291.0 231.5h4.3v1.6h-4.3zM296.4 231.5h2.9v1.6h-2.9zM300.4 231.5h1.6v1.6h-1.6zM305.7 231.5h2.9v1.6h-2.9zM315.1 231.5h1.6v1.6h-1.6zM323.1 231.5h1.6v1.6h-1.6zM325.8 231.5h1.6v1.6h-1.6zM356.6 231.5h4.3v1.6h-4.3zM369.9 231.5h1.6v1.6h-1.6zM372.6 231.5h1.6v1.6h-1.6zM388.7 231.5h1.6v1.6h-1.6zM257.6 232.8h4.3v1.6h-4.3zM269.6 232.8h1.6v1.6h-1.6zM279.0 232.8h8.3v1.6h-8.3zM291.0 232.8h17.6v1.6h-17.6zM315.1 232.8h1.6v1.6h-1.6zM319.1 232.8h2.9v1.6h-2.9zM324.5 232.8h2.9v1.6h-2.9zM328.5 232.8h1.6v1.6h-1.6zM357.9 232.8h1.6v1.6h-1.6zM364.6 232.8h11.0v1.6h-11.0zM384.7 232.8h5.6v1.6h-5.6zM410.1 232.8h1.6v1.6h-1.6zM424.8 232.8h20.3v1.6h-20.3zM260.2 234.1h2.9v1.6h-2.9zM268.3 234.1h5.6v1.6h-5.6zM277.6 234.1h2.9v1.6h-2.9zM283.0 234.1h4.3v1.6h-4.3zM292.3 234.1h13.6v1.6h-13.6zM317.8 234.1h6.9v1.6h-6.9zM359.2 234.1h1.6v1.6h-1.6zM363.3 234.1h2.9v1.6h-2.9zM368.6 234.1h17.6v1.6h-17.6zM408.8 234.1h2.9v1.6h-2.9zM423.5 234.1h4.3v1.6h-4.3zM432.8 234.1h4.3v1.6h-4.3zM444.9 234.1h1.6v1.6h-1.6zM467.6 234.1h2.9v1.6h-2.9zM261.6 235.5h2.9v1.6h-2.9zM268.3 235.5h5.6v1.6h-5.6zM277.6 235.5h1.6v1.6h-1.6zM281.6 235.5h4.3v1.6h-4.3zM293.7 235.5h5.6v1.6h-5.6zM300.4 235.5h4.3v1.6h-4.3zM321.8 235.5h1.6v1.6h-1.6zM360.6 235.5h2.9v1.6h-2.9zM369.9 235.5h2.9v1.6h-2.9zM379.3 235.5h5.6v1.6h-5.6zM399.4 235.5h12.3v1.6h-12.3zM446.2 235.5h1.6v1.6h-1.6zM262.9 236.8h1.6v1.6h-1.6zM268.3 236.8h5.6v1.6h-5.6zM276.3 236.8h9.6v1.6h-9.6zM289.7 236.8h4.3v1.6h-4.3zM295.0 236.8h4.3v1.6h-4.3zM301.7 236.8h2.9v1.6h-2.9zM305.7 236.8h1.6v1.6h-1.6zM349.9 236.8h1.6v1.6h-1.6zM360.6 236.8h1.6v1.6h-1.6zM379.3 236.8h4.3v1.6h-4.3zM398.0 236.8h4.3v1.6h-4.3zM404.7 236.8h6.9v1.6h-6.9zM440.9 236.8h1.6v1.6h-1.6zM446.2 236.8h4.3v1.6h-4.3zM469.0 236.8h1.6v1.6h-1.6zM262.9 238.1h1.6v1.6h-1.6zM269.6 238.1h1.6v1.6h-1.6zM277.6 238.1h4.3v1.6h-4.3zM284.3 238.1h1.6v1.6h-1.6zM288.3 238.1h2.9v1.6h-2.9zM292.3 238.1h6.9v1.6h-6.9zM301.7 238.1h5.6v1.6h-5.6zM311.1 238.1h1.6v1.6h-1.6zM333.8 238.1h1.6v1.6h-1.6zM349.9 238.1h1.6v1.6h-1.6zM359.2 238.1h2.9v1.6h-2.9zM379.3 238.1h2.9v1.6h-2.9zM399.4 238.1h1.6v1.6h-1.6zM402.1 238.1h5.6v1.6h-5.6zM410.1 238.1h1.6v1.6h-1.6zM440.9 238.1h2.9v1.6h-2.9zM447.6 238.1h2.9v1.6h-2.9zM469.0 238.1h1.6v1.6h-1.6zM262.9 239.4h1.6v1.6h-1.6zM280.3 239.4h1.6v1.6h-1.6zM288.3 239.4h2.9v1.6h-2.9zM293.7 239.4h5.6v1.6h-5.6zM301.7 239.4h4.3v1.6h-4.3zM308.4 239.4h2.9v1.6h-2.9zM333.8 239.4h2.9v1.6h-2.9zM349.9 239.4h1.6v1.6h-1.6zM357.9 239.4h4.3v1.6h-4.3zM375.3 239.4h1.6v1.6h-1.6zM379.3 239.4h2.9v1.6h-2.9zM403.4 239.4h4.3v1.6h-4.3zM410.1 239.4h2.9v1.6h-2.9zM439.5 239.4h1.6v1.6h-1.6zM443.5 239.4h2.9v1.6h-2.9zM447.6 239.4h2.9v1.6h-2.9zM262.9 240.8h1.6v1.6h-1.6zM281.6 240.8h1.6v1.6h-1.6zM285.7 240.8h1.6v1.6h-1.6zM291.0 240.8h1.6v1.6h-1.6zM293.7 240.8h5.6v1.6h-5.6zM301.7 240.8h4.3v1.6h-4.3zM325.8 240.8h5.6v1.6h-5.6zM336.5 240.8h1.6v1.6h-1.6zM343.2 240.8h2.9v1.6h-2.9zM356.6 240.8h4.3v1.6h-4.3zM375.3 240.8h6.9v1.6h-6.9zM404.7 240.8h2.9v1.6h-2.9zM410.1 240.8h1.6v1.6h-1.6zM430.2 240.8h1.6v1.6h-1.6zM438.2 240.8h2.9v1.6h-2.9zM444.9 240.8h4.3v1.6h-4.3z"/>
<path fill="#27768f" d="M218.8 154.6h1.6v1.6h-1.6zM234.8 154.6h1.6v1.6h-1.6zM329.8 154.6h1.6v1.6h-1.6zM335.2 154.6h1.6v1.6h-1.6zM344.5 154.6h4.3v1.6h-4.3zM379.3 154.6h2.9v1.6h-2.9zM387.3 154.6h4.3v1.6h-4.3zM218.8 155.9h1.6v1.6h-1.6zM234.8 155.9h2.9v1.6h-2.9zM329.8 155.9h1.6v1.6h-1.6zM335.2 155.9h1.6v1.6h-1.6zM343.2 155.9h1.6v1.6h-1.6zM379.3 155.9h4.3v1.6h-4.3zM218.8 157.3h1.6v1.6h-1.6zM336.5 157.3h1.6v1.6h-1.6zM343.2 157.3h1.6v1.6h-1.6zM352.6 157.3h2.9v1.6h-2.9zM379.3 157.3h4.3v1.6h-4.3zM218.8 158.6h1.6v1.6h-1.6zM299.0 158.6h1.6v1.6h-1.6zM323.1 158.6h5.6v1.6h-5.6zM336.5 158.6h1.6v1.6h-1.6zM344.5 158.6h1.6v1.6h-1.6zM353.9 158.6h1.6v1.6h-1.6zM371.3 158.6h5.6v1.6h-5.6zM382.0 158.6h1.6v1.6h-1.6zM217.4 159.9h4.3v1.6h-4.3zM230.8 159.9h1.6v1.6h-1.6zM296.4 159.9h1.6v1.6h-1.6zM300.4 159.9h1.6v1.6h-1.6zM323.1 159.9h1.6v1.6h-1.6zM335.2 159.9h1.6v1.6h-1.6zM345.9 159.9h1.6v1.6h-1.6zM371.3 159.9h1.6v1.6h-1.6zM375.3 159.9h2.9v1.6h-2.9zM382.0 159.9h1.6v1.6h-1.6zM395.4 159.9h1.6v1.6h-1.6zM218.8 161.2h1.6v1.6h-1.6zM295.0 161.2h1.6v1.6h-1.6zM300.4 161.2h1.6v1.6h-1.6zM312.4 161.2h2.9v1.6h-2.9zM320.4 161.2h1.6v1.6h-1.6zM335.2 161.2h1.6v1.6h-1.6zM345.9 161.2h1.6v1.6h-1.6zM353.9 161.2h2.9v1.6h-2.9zM371.3 161.2h1.6v1.6h-1.6zM375.3 161.2h1.6v1.6h-1.6zM383.3 161.2h1.6v1.6h-1.6zM394.0 161.2h1.6v1.6h-1.6zM469.0 161.2h1.6v1.6h-1.6zM293.7 162.6h1.6v1.6h-1.6zM305.7 162.6h6.9v1.6h-6.9zM315.1 162.6h4.3v1.6h-4.3zM333.8 162.6h5.6v1.6h-5.6zM343.2 162.6h4.3v1.6h-4.3zM355.2 162.6h1.6v1.6h-1.6zM374.0 162.6h1.6v1.6h-1.6zM383.3 162.6h1.6v1.6h-1.6zM392.7 162.6h2.9v1.6h-2.9zM293.7 163.9h1.6v1.6h-1.6zM304.4 163.9h2.9v1.6h-2.9zM333.8 163.9h2.9v1.6h-2.9zM339.2 163.9h2.9v1.6h-2.9zM355.2 163.9h5.6v1.6h-5.6zM383.3 163.9h1.6v1.6h-1.6zM394.0 163.9h2.9v1.6h-2.9zM288.3 165.2h1.6v1.6h-1.6zM305.7 165.2h1.6v1.6h-1.6zM333.8 165.2h1.6v1.6h-1.6zM355.2 165.2h5.6v1.6h-5.6zM384.7 165.2h2.9v1.6h-2.9zM284.3 166.5h4.3v1.6h-4.3zM289.7 166.5h2.9v1.6h-2.9zM305.7 166.5h1.6v1.6h-1.6zM356.6 166.5h4.3v1.6h-4.3zM384.7 166.5h1.6v1.6h-1.6zM395.4 166.5h1.6v1.6h-1.6zM301.7 167.9h2.9v1.6h-2.9zM305.7 167.9h1.6v1.6h-1.6zM352.6 167.9h1.6v1.6h-1.6zM356.6 167.9h4.3v1.6h-4.3zM384.7 167.9h1.6v1.6h-1.6zM392.7 167.9h2.9v1.6h-2.9zM396.7 167.9h1.6v1.6h-1.6zM281.6 169.2h1.6v1.6h-1.6zM300.4 169.2h1.6v1.6h-1.6zM303.0 169.2h2.9v1.6h-2.9zM317.8 169.2h8.3v1.6h-8.3zM351.2 169.2h8.3v1.6h-8.3zM390.0 169.2h8.3v1.6h-8.3zM279.0 170.5h2.9v1.6h-2.9zM299.0 170.5h1.6v1.6h-1.6zM313.8 170.5h5.6v1.6h-5.6zM324.5 170.5h1.6v1.6h-1.6zM349.9 170.5h1.6v1.6h-1.6zM360.6 170.5h2.9v1.6h-2.9zM386.0 170.5h2.9v1.6h-2.9zM394.0 170.5h2.9v1.6h-2.9zM276.3 171.8h1.6v1.6h-1.6zM312.4 171.8h1.6v1.6h-1.6zM315.1 171.8h1.6v1.6h-1.6zM317.8 171.8h6.9v1.6h-6.9zM344.5 171.8h1.6v1.6h-1.6zM347.2 171.8h1.6v1.6h-1.6zM392.7 171.8h2.9v1.6h-2.9zM276.3 173.2h1.6v1.6h-1.6zM296.4 173.2h1.6v1.6h-1.6zM304.4 173.2h1.6v1.6h-1.6zM312.4 173.2h1.6v1.6h-1.6zM328.5 173.2h1.6v1.6h-1.6zM344.5 173.2h1.6v1.6h-1.6zM348.5 173.2h1.6v1.6h-1.6zM392.7 173.2h1.6v1.6h-1.6zM295.0 174.5h2.9v1.6h-2.9zM312.4 174.5h2.9v1.6h-2.9zM339.2 174.5h1.6v1.6h-1.6zM344.5 174.5h1.6v1.6h-1.6zM348.5 174.5h1.6v1.6h-1.6zM392.7 174.5h1.6v1.6h-1.6zM295.0 175.8h4.3v1.6h-4.3zM312.4 175.8h4.3v1.6h-4.3zM339.2 175.8h1.6v1.6h-1.6zM344.5 175.8h1.6v1.6h-1.6zM348.5 175.8h1.6v1.6h-1.6zM392.7 175.8h1.6v1.6h-1.6zM295.0 177.1h5.6v1.6h-5.6zM312.4 177.1h4.3v1.6h-4.3zM332.5 177.1h5.6v1.6h-5.6zM340.5 177.1h1.6v1.6h-1.6zM360.6 177.1h1.6v1.6h-1.6zM368.6 177.1h4.3v1.6h-4.3zM313.8 178.5h2.9v1.6h-2.9zM324.5 178.5h2.9v1.6h-2.9zM329.8 178.5h2.9v1.6h-2.9zM341.9 178.5h2.9v1.6h-2.9zM352.6 178.5h1.6v1.6h-1.6zM357.9 178.5h2.9v1.6h-2.9zM369.9 178.5h2.9v1.6h-2.9zM392.7 178.5h1.6v1.6h-1.6zM416.8 178.5h1.6v1.6h-1.6zM459.6 178.5h1.6v1.6h-1.6zM324.5 179.8h2.9v1.6h-2.9zM329.8 179.8h1.6v1.6h-1.6zM348.5 179.8h1.6v1.6h-1.6zM351.2 179.8h9.6v1.6h-9.6zM380.7 179.8h2.9v1.6h-2.9zM386.0 179.8h5.6v1.6h-5.6zM416.8 179.8h2.9v1.6h-2.9zM420.8 179.8h1.6v1.6h-1.6zM288.3 181.1h1.6v1.6h-1.6zM315.1 181.1h1.6v1.6h-1.6zM321.8 181.1h9.6v1.6h-9.6zM347.2 181.1h1.6v1.6h-1.6zM360.6 181.1h6.9v1.6h-6.9zM380.7 181.1h1.6v1.6h-1.6zM383.3 181.1h1.6v1.6h-1.6zM414.1 181.1h4.3v1.6h-4.3zM422.1 181.1h1.6v1.6h-1.6zM291.0 182.4h2.9v1.6h-2.9zM300.4 182.4h1.6v1.6h-1.6zM313.8 182.4h1.6v1.6h-1.6zM316.4 182.4h4.3v1.6h-4.3zM325.8 182.4h1.6v1.6h-1.6zM368.6 182.4h1.6v1.6h-1.6zM380.7 182.4h1.6v1.6h-1.6zM383.3 182.4h1.6v1.6h-1.6zM391.4 182.4h1.6v1.6h-1.6zM400.7 182.4h1.6v1.6h-1.6zM444.9 182.4h6.9v1.6h-6.9zM312.4 183.8h1.6v1.6h-1.6zM369.9 183.8h1.6v1.6h-1.6zM372.6 183.8h1.6v1.6h-1.6zM380.7 183.8h4.3v1.6h-4.3zM424.8 183.8h1.6v1.6h-1.6zM444.9 183.8h1.6v1.6h-1.6zM447.6 183.8h5.6v1.6h-5.6zM276.3 185.1h2.9v1.6h-2.9zM316.4 185.1h5.6v1.6h-5.6zM323.1 185.1h2.9v1.6h-2.9zM344.5 185.1h2.9v1.6h-2.9zM349.9 185.1h5.6v1.6h-5.6zM368.6 185.1h5.6v1.6h-5.6zM380.7 185.1h2.9v1.6h-2.9zM394.0 185.1h2.9v1.6h-2.9zM415.4 185.1h4.3v1.6h-4.3zM420.8 185.1h6.9v1.6h-6.9zM435.5 185.1h8.3v1.6h-8.3zM444.9 185.1h6.9v1.6h-6.9zM266.9 186.4h2.9v1.6h-2.9zM274.9 186.4h2.9v1.6h-2.9zM312.4 186.4h1.6v1.6h-1.6zM324.5 186.4h2.9v1.6h-2.9zM332.5 186.4h8.3v1.6h-8.3zM343.2 186.4h1.6v1.6h-1.6zM349.9 186.4h1.6v1.6h-1.6zM356.6 186.4h1.6v1.6h-1.6zM359.2 186.4h4.3v1.6h-4.3zM364.6 186.4h8.3v1.6h-8.3zM380.7 186.4h2.9v1.6h-2.9zM394.0 186.4h1.6v1.6h-1.6zM412.8 186.4h5.6v1.6h-5.6zM420.8 186.4h5.6v1.6h-5.6zM428.8 186.4h1.6v1.6h-1.6zM434.2 186.4h1.6v1.6h-1.6zM443.5 186.4h4.3v1.6h-4.3zM265.6 187.7h1.6v1.6h-1.6zM269.6 187.7h1.6v1.6h-1.6zM274.9 187.7h2.9v1.6h-2.9zM280.3 187.7h1.6v1.6h-1.6zM293.7 187.7h1.6v1.6h-1.6zM296.4 187.7h1.6v1.6h-1.6zM327.1 187.7h4.3v1.6h-4.3zM333.8 187.7h5.6v1.6h-5.6zM388.7 187.7h4.3v1.6h-4.3zM406.1 187.7h2.9v1.6h-2.9zM414.1 187.7h8.3v1.6h-8.3zM430.2 187.7h1.6v1.6h-1.6zM434.2 187.7h1.6v1.6h-1.6zM444.9 187.7h1.6v1.6h-1.6zM265.6 189.1h1.6v1.6h-1.6zM270.9 189.1h6.9v1.6h-6.9zM280.3 189.1h1.6v1.6h-1.6zM292.3 189.1h1.6v1.6h-1.6zM297.7 189.1h1.6v1.6h-1.6zM300.4 189.1h1.6v1.6h-1.6zM305.7 189.1h1.6v1.6h-1.6zM328.5 189.1h2.9v1.6h-2.9zM333.8 189.1h6.9v1.6h-6.9zM403.4 189.1h5.6v1.6h-5.6zM420.8 189.1h2.9v1.6h-2.9zM431.5 189.1h4.3v1.6h-4.3zM265.6 190.4h4.3v1.6h-4.3zM272.3 190.4h5.6v1.6h-5.6zM281.6 190.4h1.6v1.6h-1.6zM292.3 190.4h1.6v1.6h-1.6zM297.7 190.4h1.6v1.6h-1.6zM300.4 190.4h2.9v1.6h-2.9zM304.4 190.4h2.9v1.6h-2.9zM333.8 190.4h2.9v1.6h-2.9zM376.6 190.4h1.6v1.6h-1.6zM400.7 190.4h2.9v1.6h-2.9zM422.1 190.4h1.6v1.6h-1.6zM265.6 191.7h1.6v1.6h-1.6zM272.3 191.7h5.6v1.6h-5.6zM283.0 191.7h1.6v1.6h-1.6zM287.0 191.7h6.9v1.6h-6.9zM301.7 191.7h4.3v1.6h-4.3zM265.6 193.0h13.6v1.6h-13.6zM284.3 193.0h9.6v1.6h-9.6zM296.4 193.0h1.6v1.6h-1.6zM301.7 193.0h2.9v1.6h-2.9zM403.4 193.0h1.6v1.6h-1.6zM446.2 193.0h1.6v1.6h-1.6zM269.6 194.4h2.9v1.6h-2.9zM273.6 194.4h4.3v1.6h-4.3zM279.0 194.4h1.6v1.6h-1.6zM284.3 194.4h2.9v1.6h-2.9zM288.3 194.4h1.6v1.6h-1.6zM293.7 194.4h1.6v1.6h-1.6zM296.4 194.4h1.6v1.6h-1.6zM301.7 194.4h1.6v1.6h-1.6zM340.5 194.4h5.6v1.6h-5.6zM399.4 194.4h5.6v1.6h-5.6zM446.2 194.4h1.6v1.6h-1.6zM451.6 194.4h2.9v1.6h-2.9zM274.9 195.7h2.9v1.6h-2.9zM284.3 195.7h2.9v1.6h-2.9zM289.7 195.7h1.6v1.6h-1.6zM293.7 195.7h4.3v1.6h-4.3zM301.7 195.7h1.6v1.6h-1.6zM335.2 195.7h13.6v1.6h-13.6zM374.0 195.7h1.6v1.6h-1.6zM399.4 195.7h1.6v1.6h-1.6zM404.7 195.7h1.6v1.6h-1.6zM439.5 195.7h1.6v1.6h-1.6zM450.2 195.7h1.6v1.6h-1.6zM270.9 197.0h4.3v1.6h-4.3zM276.3 197.0h5.6v1.6h-5.6zM283.0 197.0h1.6v1.6h-1.6zM287.0 197.0h11.0v1.6h-11.0zM303.0 197.0h1.6v1.6h-1.6zM344.5 197.0h1.6v1.6h-1.6zM348.5 197.0h1.6v1.6h-1.6zM400.7 197.0h2.9v1.6h-2.9zM404.7 197.0h1.6v1.6h-1.6zM422.1 197.0h9.6v1.6h-9.6zM436.8 197.0h1.6v1.6h-1.6zM442.2 197.0h9.6v1.6h-9.6zM273.6 198.3h1.6v1.6h-1.6zM279.0 198.3h4.3v1.6h-4.3zM288.3 198.3h2.9v1.6h-2.9zM292.3 198.3h12.3v1.6h-12.3zM343.2 198.3h6.9v1.6h-6.9zM414.1 198.3h1.6v1.6h-1.6zM420.8 198.3h1.6v1.6h-1.6zM283.0 199.7h1.6v1.6h-1.6zM295.0 199.7h2.9v1.6h-2.9zM343.2 199.7h1.6v1.6h-1.6zM355.2 199.7h2.9v1.6h-2.9zM414.1 199.7h1.6v1.6h-1.6zM420.8 199.7h1.6v1.6h-1.6zM296.4 201.0h1.6v1.6h-1.6zM343.2 201.0h1.6v1.6h-1.6zM355.2 201.0h4.3v1.6h-4.3zM414.1 201.0h1.6v1.6h-1.6zM419.5 201.0h1.6v1.6h-1.6zM272.3 202.3h1.6v1.6h-1.6zM291.0 202.3h5.6v1.6h-5.6zM311.1 202.3h1.6v1.6h-1.6zM316.4 202.3h4.3v1.6h-4.3zM357.9 202.3h1.6v1.6h-1.6zM394.0 202.3h2.9v1.6h-2.9zM400.7 202.3h2.9v1.6h-2.9zM406.1 202.3h2.9v1.6h-2.9zM418.1 202.3h2.9v1.6h-2.9zM450.2 202.3h1.6v1.6h-1.6zM272.3 203.7h1.6v1.6h-1.6zM289.7 203.7h1.6v1.6h-1.6zM309.7 203.7h1.6v1.6h-1.6zM312.4 203.7h8.3v1.6h-8.3zM368.6 203.7h1.6v1.6h-1.6zM386.0 203.7h1.6v1.6h-1.6zM392.7 203.7h6.9v1.6h-6.9zM408.8 203.7h2.9v1.6h-2.9zM418.1 203.7h1.6v1.6h-1.6zM450.2 203.7h1.6v1.6h-1.6zM289.7 205.0h2.9v1.6h-2.9zM305.7 205.0h1.6v1.6h-1.6zM308.4 205.0h1.6v1.6h-1.6zM315.1 205.0h4.3v1.6h-4.3zM368.6 205.0h2.9v1.6h-2.9zM386.0 205.0h8.3v1.6h-8.3zM396.7 205.0h2.9v1.6h-2.9zM411.4 205.0h8.3v1.6h-8.3zM450.2 205.0h1.6v1.6h-1.6zM307.1 206.3h1.6v1.6h-1.6zM316.4 206.3h2.9v1.6h-2.9zM343.2 206.3h4.3v1.6h-4.3zM356.6 206.3h4.3v1.6h-4.3zM368.6 206.3h5.6v1.6h-5.6zM376.6 206.3h2.9v1.6h-2.9zM386.0 206.3h2.9v1.6h-2.9zM412.8 206.3h1.6v1.6h-1.6zM439.5 206.3h1.6v1.6h-1.6zM442.2 206.3h1.6v1.6h-1.6zM450.2 206.3h1.6v1.6h-1.6zM340.5 207.6h2.9v1.6h-2.9zM352.6 207.6h4.3v1.6h-4.3zM359.2 207.6h1.6v1.6h-1.6zM364.6 207.6h5.6v1.6h-5.6zM372.6 207.6h2.9v1.6h-2.9zM384.7 207.6h1.6v1.6h-1.6zM438.2 207.6h1.6v1.6h-1.6zM443.5 207.6h6.9v1.6h-6.9zM337.8 209.0h4.3v1.6h-4.3zM347.2 209.0h1.6v1.6h-1.6zM351.2 209.0h4.3v1.6h-4.3zM360.6 209.0h4.3v1.6h-4.3zM368.6 209.0h1.6v1.6h-1.6zM376.6 209.0h4.3v1.6h-4.3zM383.3 209.0h1.6v1.6h-1.6zM394.0 209.0h2.9v1.6h-2.9zM412.8 209.0h1.6v1.6h-1.6zM438.2 209.0h5.6v1.6h-5.6zM447.6 209.0h5.6v1.6h-5.6zM455.6 209.0h1.6v1.6h-1.6zM332.5 210.3h4.3v1.6h-4.3zM339.2 210.3h8.3v1.6h-8.3zM348.5 210.3h4.3v1.6h-4.3zM382.0 210.3h1.6v1.6h-1.6zM391.4 210.3h2.9v1.6h-2.9zM396.7 210.3h2.9v1.6h-2.9zM400.7 210.3h2.9v1.6h-2.9zM408.8 210.3h5.6v1.6h-5.6zM418.1 210.3h1.6v1.6h-1.6zM423.5 210.3h2.9v1.6h-2.9zM452.9 210.3h2.9v1.6h-2.9zM339.2 211.6h8.3v1.6h-8.3zM351.2 211.6h1.6v1.6h-1.6zM390.0 211.6h1.6v1.6h-1.6zM404.7 211.6h1.6v1.6h-1.6zM407.4 211.6h1.6v1.6h-1.6zM456.9 211.6h1.6v1.6h-1.6zM406.1 212.9h1.6v1.6h-1.6zM250.9 214.3h1.6v1.6h-1.6zM424.8 214.3h1.6v1.6h-1.6zM455.6 214.3h1.6v1.6h-1.6zM250.9 215.6h2.9v1.6h-2.9zM390.0 215.6h1.6v1.6h-1.6zM253.5 216.9h4.3v1.6h-4.3zM345.9 216.9h2.9v1.6h-2.9zM391.4 216.9h1.6v1.6h-1.6zM424.8 216.9h1.6v1.6h-1.6zM454.2 216.9h1.6v1.6h-1.6zM459.6 216.9h2.9v1.6h-2.9zM253.5 218.2h1.6v1.6h-1.6zM256.2 218.2h4.3v1.6h-4.3zM261.6 218.2h1.6v1.6h-1.6zM345.9 218.2h2.9v1.6h-2.9zM414.1 218.2h4.3v1.6h-4.3zM423.5 218.2h1.6v1.6h-1.6zM454.2 218.2h1.6v1.6h-1.6zM458.3 218.2h1.6v1.6h-1.6zM462.3 218.2h2.9v1.6h-2.9zM253.5 219.6h1.6v1.6h-1.6zM264.2 219.6h1.6v1.6h-1.6zM347.2 219.6h1.6v1.6h-1.6zM414.1 219.6h4.3v1.6h-4.3zM444.9 219.6h2.9v1.6h-2.9zM450.2 219.6h1.6v1.6h-1.6zM458.3 219.6h1.6v1.6h-1.6zM462.3 219.6h4.3v1.6h-4.3zM253.5 220.9h1.6v1.6h-1.6zM264.2 220.9h1.6v1.6h-1.6zM347.2 220.9h2.9v1.6h-2.9zM399.4 220.9h1.6v1.6h-1.6zM414.1 220.9h6.9v1.6h-6.9zM446.2 220.9h20.3v1.6h-20.3zM262.9 222.2h1.6v1.6h-1.6zM332.5 222.2h2.9v1.6h-2.9zM336.5 222.2h1.6v1.6h-1.6zM340.5 222.2h2.9v1.6h-2.9zM345.9 222.2h1.6v1.6h-1.6zM348.5 222.2h1.6v1.6h-1.6zM416.8 222.2h1.6v1.6h-1.6zM448.9 222.2h2.9v1.6h-2.9zM456.9 222.2h1.6v1.6h-1.6zM459.6 222.2h4.3v1.6h-4.3zM466.3 222.2h1.6v1.6h-1.6zM248.2 223.5h1.6v1.6h-1.6zM257.6 223.5h4.3v1.6h-4.3zM329.8 223.5h1.6v1.6h-1.6zM339.2 223.5h4.3v1.6h-4.3zM344.5 223.5h1.6v1.6h-1.6zM416.8 223.5h1.6v1.6h-1.6zM458.3 223.5h4.3v1.6h-4.3zM466.3 223.5h1.6v1.6h-1.6zM253.5 224.9h1.6v1.6h-1.6zM258.9 224.9h2.9v1.6h-2.9zM328.5 224.9h2.9v1.6h-2.9zM343.2 224.9h2.9v1.6h-2.9zM352.6 224.9h1.6v1.6h-1.6zM414.1 224.9h5.6v1.6h-5.6zM462.3 224.9h1.6v1.6h-1.6zM466.3 224.9h1.6v1.6h-1.6zM252.2 226.2h4.3v1.6h-4.3zM260.2 226.2h1.6v1.6h-1.6zM328.5 226.2h2.9v1.6h-2.9zM343.2 226.2h1.6v1.6h-1.6zM414.1 226.2h2.9v1.6h-2.9zM419.5 226.2h1.6v1.6h-1.6zM463.6 226.2h2.9v1.6h-2.9zM253.5 227.5h4.3v1.6h-4.3zM309.7 227.5h4.3v1.6h-4.3zM327.1 227.5h2.9v1.6h-2.9zM341.9 227.5h2.9v1.6h-2.9zM352.6 227.5h1.6v1.6h-1.6zM420.8 227.5h1.6v1.6h-1.6zM256.2 228.8h5.6v1.6h-5.6zM262.9 228.8h5.6v1.6h-5.6zM308.4 228.8h1.6v1.6h-1.6zM312.4 228.8h2.9v1.6h-2.9zM320.4 228.8h2.9v1.6h-2.9zM325.8 228.8h1.6v1.6h-1.6zM340.5 228.8h1.6v1.6h-1.6zM343.2 228.8h1.6v1.6h-1.6zM420.8 228.8h1.6v1.6h-1.6zM257.6 230.2h8.3v1.6h-8.3zM268.3 230.2h1.6v1.6h-1.6zM283.0 230.2h8.3v1.6h-8.3zM308.4 230.2h1.6v1.6h-1.6zM313.8 230.2h1.6v1.6h-1.6zM316.4 230.2h2.9v1.6h-2.9zM321.8 230.2h1.6v1.6h-1.6zM329.8 230.2h1.6v1.6h-1.6zM340.5 230.2h1.6v1.6h-1.6zM343.2 230.2h1.6v1.6h-1.6zM353.9 230.2h1.6v1.6h-1.6zM390.0 230.2h1.6v1.6h-1.6zM412.8 230.2h2.9v1.6h-2.9zM420.8 230.2h1.6v1.6h-1.6zM261.6 231.5h2.9v1.6h-2.9zM283.0 231.5h5.6v1.6h-5.6zM289.7 231.5h1.6v1.6h-1.6zM299.0 231.5h1.6v1.6h-1.6zM308.4 231.5h2.9v1.6h-2.9zM312.4 231.5h2.9v1.6h-2.9zM316.4 231.5h1.6v1.6h-1.6zM319.1 231.5h4.3v1.6h-4.3zM327.1 231.5h5.6v1.6h-5.6zM341.9 231.5h1.6v1.6h-1.6zM355.2 231.5h1.6v1.6h-1.6zM371.3 231.5h1.6v1.6h-1.6zM390.0 231.5h1.6v1.6h-1.6zM392.7 231.5h1.6v1.6h-1.6zM407.4 231.5h6.9v1.6h-6.9zM261.6 232.8h2.9v1.6h-2.9zM287.0 232.8h4.3v1.6h-4.3zM308.4 232.8h2.9v1.6h-2.9zM312.4 232.8h2.9v1.6h-2.9zM316.4 232.8h2.9v1.6h-2.9zM321.8 232.8h2.9v1.6h-2.9zM327.1 232.8h1.6v1.6h-1.6zM329.8 232.8h2.9v1.6h-2.9zM356.6 232.8h1.6v1.6h-1.6zM390.0 232.8h5.6v1.6h-5.6zM407.4 232.8h2.9v1.6h-2.9zM411.4 232.8h2.9v1.6h-2.9zM262.9 234.1h1.6v1.6h-1.6zM280.3 234.1h2.9v1.6h-2.9zM287.0 234.1h1.6v1.6h-1.6zM289.7 234.1h2.9v1.6h-2.9zM305.7 234.1h5.6v1.6h-5.6zM312.4 234.1h5.6v1.6h-5.6zM324.5 234.1h5.6v1.6h-5.6zM349.9 234.1h2.9v1.6h-2.9zM357.9 234.1h1.6v1.6h-1.6zM365.9 234.1h2.9v1.6h-2.9zM386.0 234.1h9.6v1.6h-9.6zM407.4 234.1h1.6v1.6h-1.6zM411.4 234.1h1.6v1.6h-1.6zM422.1 234.1h1.6v1.6h-1.6zM427.5 234.1h5.6v1.6h-5.6zM436.8 234.1h8.3v1.6h-8.3zM264.2 235.5h1.6v1.6h-1.6zM266.9 235.5h1.6v1.6h-1.6zM279.0 235.5h2.9v1.6h-2.9zM285.7 235.5h8.3v1.6h-8.3zM304.4 235.5h4.3v1.6h-4.3zM317.8 235.5h4.3v1.6h-4.3zM323.1 235.5h5.6v1.6h-5.6zM343.2 235.5h4.3v1.6h-4.3zM348.5 235.5h4.3v1.6h-4.3zM359.2 235.5h1.6v1.6h-1.6zM363.3 235.5h4.3v1.6h-4.3zM368.6 235.5h1.6v1.6h-1.6zM372.6 235.5h6.9v1.6h-6.9zM384.7 235.5h1.6v1.6h-1.6zM388.7 235.5h5.6v1.6h-5.6zM396.7 235.5h2.9v1.6h-2.9zM411.4 235.5h2.9v1.6h-2.9zM424.8 235.5h4.3v1.6h-4.3zM432.8 235.5h4.3v1.6h-4.3zM440.9 235.5h5.6v1.6h-5.6zM264.2 236.8h1.6v1.6h-1.6zM285.7 236.8h4.3v1.6h-4.3zM293.7 236.8h1.6v1.6h-1.6zM304.4 236.8h1.6v1.6h-1.6zM307.1 236.8h1.6v1.6h-1.6zM311.1 236.8h2.9v1.6h-2.9zM320.4 236.8h5.6v1.6h-5.6zM345.9 236.8h4.3v1.6h-4.3zM351.2 236.8h1.6v1.6h-1.6zM359.2 236.8h1.6v1.6h-1.6zM361.9 236.8h2.9v1.6h-2.9zM365.9 236.8h13.6v1.6h-13.6zM383.3 236.8h1.6v1.6h-1.6zM388.7 236.8h4.3v1.6h-4.3zM396.7 236.8h1.6v1.6h-1.6zM411.4 236.8h6.9v1.6h-6.9zM426.1 236.8h1.6v1.6h-1.6zM432.8 236.8h1.6v1.6h-1.6zM442.2 236.8h4.3v1.6h-4.3zM264.2 238.1h1.6v1.6h-1.6zM268.3 238.1h1.6v1.6h-1.6zM281.6 238.1h2.9v1.6h-2.9zM285.7 238.1h2.9v1.6h-2.9zM307.1 238.1h4.3v1.6h-4.3zM312.4 238.1h1.6v1.6h-1.6zM323.1 238.1h4.3v1.6h-4.3zM332.5 238.1h1.6v1.6h-1.6zM335.2 238.1h1.6v1.6h-1.6zM339.2 238.1h6.9v1.6h-6.9zM348.5 238.1h1.6v1.6h-1.6zM351.2 238.1h1.6v1.6h-1.6zM356.6 238.1h2.9v1.6h-2.9zM361.9 238.1h1.6v1.6h-1.6zM365.9 238.1h5.6v1.6h-5.6zM375.3 238.1h4.3v1.6h-4.3zM382.0 238.1h2.9v1.6h-2.9zM388.7 238.1h4.3v1.6h-4.3zM396.7 238.1h2.9v1.6h-2.9zM400.7 238.1h1.6v1.6h-1.6zM411.4 238.1h5.6v1.6h-5.6zM439.5 238.1h1.6v1.6h-1.6zM443.5 238.1h4.3v1.6h-4.3zM264.2 239.4h1.6v1.6h-1.6zM269.6 239.4h1.6v1.6h-1.6zM281.6 239.4h6.9v1.6h-6.9zM305.7 239.4h2.9v1.6h-2.9zM311.1 239.4h4.3v1.6h-4.3zM323.1 239.4h11.0v1.6h-11.0zM336.5 239.4h9.6v1.6h-9.6zM348.5 239.4h1.6v1.6h-1.6zM351.2 239.4h6.9v1.6h-6.9zM361.9 239.4h1.6v1.6h-1.6zM365.9 239.4h4.3v1.6h-4.3zM376.6 239.4h2.9v1.6h-2.9zM382.0 239.4h1.6v1.6h-1.6zM390.0 239.4h1.6v1.6h-1.6zM396.7 239.4h6.9v1.6h-6.9zM412.8 239.4h2.9v1.6h-2.9zM430.2 239.4h2.9v1.6h-2.9zM438.2 239.4h1.6v1.6h-1.6zM446.2 239.4h1.6v1.6h-1.6zM264.2 240.8h1.6v1.6h-1.6zM269.6 240.8h1.6v1.6h-1.6zM283.0 240.8h2.9v1.6h-2.9zM287.0 240.8h4.3v1.6h-4.3zM305.7 240.8h6.9v1.6h-6.9zM323.1 240.8h2.9v1.6h-2.9zM331.1 240.8h1.6v1.6h-1.6zM333.8 240.8h2.9v1.6h-2.9zM337.8 240.8h5.6v1.6h-5.6zM349.9 240.8h6.9v1.6h-6.9zM360.6 240.8h1.6v1.6h-1.6zM374.0 240.8h1.6v1.6h-1.6zM395.4 240.8h9.6v1.6h-9.6zM411.4 240.8h2.9v1.6h-2.9zM415.4 240.8h4.3v1.6h-4.3zM427.5 240.8h2.9v1.6h-2.9zM431.5 240.8h1.6v1.6h-1.6zM436.8 240.8h1.6v1.6h-1.6z"/>
<path fill="#ffffff" d="M266.9 154.6h19.0v1.6h-19.0zM293.7 154.6h9.6v1.6h-9.6zM411.4 154.6h36.4v1.6h-36.4zM450.2 154.6h20.3v1.6h-20.3zM265.6 155.9h9.6v1.6h-9.6zM279.0 155.9h6.9v1.6h-6.9zM293.7 155.9h11.0v1.6h-11.0zM411.4 155.9h59.1v1.6h-59.1zM265.6 157.3h9.6v1.6h-9.6zM280.3 157.3h4.3v1.6h-4.3zM292.3 157.3h6.9v1.6h-6.9zM412.8 157.3h17.6v1.6h-17.6zM434.2 157.3h2.9v1.6h-2.9zM442.2 157.3h28.3v1.6h-28.3zM266.9 158.6h9.6v1.6h-9.6zM279.0 158.6h5.6v1.6h-5.6zM295.0 158.6h1.6v1.6h-1.6zM414.1 158.6h15.0v1.6h-15.0zM432.8 158.6h4.3v1.6h-4.3zM443.5 158.6h27.0v1.6h-27.0zM266.9 159.9h16.3v1.6h-16.3zM415.4 159.9h15.0v1.6h-15.0zM431.5 159.9h5.6v1.6h-5.6zM440.9 159.9h29.7v1.6h-29.7zM266.9 161.2h12.3v1.6h-12.3zM280.3 161.2h1.6v1.6h-1.6zM299.0 161.2h1.6v1.6h-1.6zM415.4 161.2h53.8v1.6h-53.8zM264.2 162.6h15.0v1.6h-15.0zM297.7 162.6h6.9v1.6h-6.9zM415.4 162.6h55.1v1.6h-55.1zM262.9 163.9h13.6v1.6h-13.6zM279.0 163.9h1.6v1.6h-1.6zM297.7 163.9h6.9v1.6h-6.9zM416.8 163.9h25.7v1.6h-25.7zM444.9 163.9h13.6v1.6h-13.6zM459.6 163.9h11.0v1.6h-11.0zM261.6 165.2h15.0v1.6h-15.0zM297.7 165.2h6.9v1.6h-6.9zM419.5 165.2h23.0v1.6h-23.0zM446.2 165.2h12.3v1.6h-12.3zM459.6 165.2h11.0v1.6h-11.0zM218.8 166.5h4.3v1.6h-4.3zM253.5 166.5h2.9v1.6h-2.9zM260.2 166.5h12.3v1.6h-12.3zM273.6 166.5h2.9v1.6h-2.9zM299.0 166.5h4.3v1.6h-4.3zM423.5 166.5h19.0v1.6h-19.0zM444.9 166.5h20.3v1.6h-20.3zM467.6 166.5h2.9v1.6h-2.9zM216.1 167.9h6.9v1.6h-6.9zM250.9 167.9h6.9v1.6h-6.9zM258.9 167.9h13.6v1.6h-13.6zM274.9 167.9h1.6v1.6h-1.6zM427.5 167.9h36.4v1.6h-36.4zM464.9 167.9h2.9v1.6h-2.9zM216.1 169.2h5.6v1.6h-5.6zM225.4 169.2h2.9v1.6h-2.9zM230.8 169.2h1.6v1.6h-1.6zM242.8 169.2h2.9v1.6h-2.9zM252.2 169.2h20.3v1.6h-20.3zM418.1 169.2h11.0v1.6h-11.0zM434.2 169.2h33.7v1.6h-33.7zM216.1 170.5h4.3v1.6h-4.3zM225.4 170.5h4.3v1.6h-4.3zM230.8 170.5h2.9v1.6h-2.9zM240.2 170.5h6.9v1.6h-6.9zM252.2 170.5h21.7v1.6h-21.7zM415.4 170.5h13.6v1.6h-13.6zM435.5 170.5h32.4v1.6h-32.4zM217.4 171.8h2.9v1.6h-2.9zM225.4 171.8h4.3v1.6h-4.3zM240.2 171.8h8.3v1.6h-8.3zM252.2 171.8h21.7v1.6h-21.7zM412.8 171.8h16.3v1.6h-16.3zM431.5 171.8h2.9v1.6h-2.9zM439.5 171.8h13.6v1.6h-13.6zM455.6 171.8h15.0v1.6h-15.0zM222.8 173.2h6.9v1.6h-6.9zM240.2 173.2h8.3v1.6h-8.3zM252.2 173.2h21.7v1.6h-21.7zM406.1 173.2h1.6v1.6h-1.6zM411.4 173.2h13.6v1.6h-13.6zM431.5 173.2h4.3v1.6h-4.3zM438.2 173.2h1.6v1.6h-1.6zM442.2 173.2h11.0v1.6h-11.0zM456.9 173.2h13.6v1.6h-13.6zM218.8 174.5h1.6v1.6h-1.6zM221.4 174.5h13.6v1.6h-13.6zM241.5 174.5h32.4v1.6h-32.4zM400.7 174.5h24.3v1.6h-24.3zM431.5 174.5h39.1v1.6h-39.1zM218.8 175.8h2.9v1.6h-2.9zM222.8 175.8h4.3v1.6h-4.3zM229.5 175.8h4.3v1.6h-4.3zM241.5 175.8h16.3v1.6h-16.3zM260.2 175.8h13.6v1.6h-13.6zM277.6 175.8h2.9v1.6h-2.9zM399.4 175.8h25.7v1.6h-25.7zM430.2 175.8h13.6v1.6h-13.6zM444.9 175.8h25.7v1.6h-25.7zM222.8 177.1h4.3v1.6h-4.3zM229.5 177.1h4.3v1.6h-4.3zM241.5 177.1h15.0v1.6h-15.0zM260.2 177.1h13.6v1.6h-13.6zM274.9 177.1h6.9v1.6h-6.9zM400.7 177.1h8.3v1.6h-8.3zM410.1 177.1h15.0v1.6h-15.0zM428.8 177.1h15.0v1.6h-15.0zM446.2 177.1h24.3v1.6h-24.3zM221.4 178.5h5.6v1.6h-5.6zM228.1 178.5h6.9v1.6h-6.9zM242.8 178.5h4.3v1.6h-4.3zM248.2 178.5h9.6v1.6h-9.6zM258.9 178.5h13.6v1.6h-13.6zM274.9 178.5h11.0v1.6h-11.0zM292.3 178.5h16.3v1.6h-16.3zM323.1 178.5h1.6v1.6h-1.6zM394.0 178.5h1.6v1.6h-1.6zM400.7 178.5h16.3v1.6h-16.3zM418.1 178.5h2.9v1.6h-2.9zM430.2 178.5h13.6v1.6h-13.6zM447.6 178.5h11.0v1.6h-11.0zM460.9 178.5h9.6v1.6h-9.6zM221.4 179.8h13.6v1.6h-13.6zM249.5 179.8h23.0v1.6h-23.0zM274.9 179.8h12.3v1.6h-12.3zM292.3 179.8h20.3v1.6h-20.3zM313.8 179.8h6.9v1.6h-6.9zM391.4 179.8h6.9v1.6h-6.9zM402.1 179.8h6.9v1.6h-6.9zM410.1 179.8h5.6v1.6h-5.6zM419.5 179.8h1.6v1.6h-1.6zM426.1 179.8h2.9v1.6h-2.9zM431.5 179.8h12.3v1.6h-12.3zM450.2 179.8h20.3v1.6h-20.3zM221.4 181.1h4.3v1.6h-4.3zM226.8 181.1h6.9v1.6h-6.9zM249.5 181.1h21.7v1.6h-21.7zM276.3 181.1h11.0v1.6h-11.0zM293.7 181.1h19.0v1.6h-19.0zM319.1 181.1h1.6v1.6h-1.6zM391.4 181.1h6.9v1.6h-6.9zM402.1 181.1h6.9v1.6h-6.9zM410.1 181.1h4.3v1.6h-4.3zM418.1 181.1h4.3v1.6h-4.3zM423.5 181.1h4.3v1.6h-4.3zM432.8 181.1h4.3v1.6h-4.3zM450.2 181.1h5.6v1.6h-5.6zM456.9 181.1h13.6v1.6h-13.6zM252.2 182.4h9.6v1.6h-9.6zM264.2 182.4h5.6v1.6h-5.6zM276.3 182.4h11.0v1.6h-11.0zM288.3 182.4h1.6v1.6h-1.6zM293.7 182.4h6.9v1.6h-6.9zM304.4 182.4h6.9v1.6h-6.9zM392.7 182.4h8.3v1.6h-8.3zM402.1 182.4h20.3v1.6h-20.3zM423.5 182.4h2.9v1.6h-2.9zM451.6 182.4h2.9v1.6h-2.9zM458.3 182.4h12.3v1.6h-12.3zM253.5 183.8h6.9v1.6h-6.9zM272.3 183.8h5.6v1.6h-5.6zM279.0 183.8h6.9v1.6h-6.9zM293.7 183.8h4.3v1.6h-4.3zM304.4 183.8h6.9v1.6h-6.9zM391.4 183.8h31.0v1.6h-31.0zM458.3 183.8h12.3v1.6h-12.3zM253.5 185.1h6.9v1.6h-6.9zM273.6 185.1h2.9v1.6h-2.9zM279.0 185.1h5.6v1.6h-5.6zM305.7 185.1h6.9v1.6h-6.9zM391.4 185.1h2.9v1.6h-2.9zM396.7 185.1h19.0v1.6h-19.0zM458.3 185.1h12.3v1.6h-12.3zM237.5 186.4h2.9v1.6h-2.9zM245.5 186.4h4.3v1.6h-4.3zM253.5 186.4h8.3v1.6h-8.3zM279.0 186.4h4.3v1.6h-4.3zM307.1 186.4h4.3v1.6h-4.3zM391.4 186.4h1.6v1.6h-1.6zM406.1 186.4h5.6v1.6h-5.6zM458.3 186.4h12.3v1.6h-12.3zM236.1 187.7h5.6v1.6h-5.6zM245.5 187.7h4.3v1.6h-4.3zM252.2 187.7h5.6v1.6h-5.6zM279.0 187.7h1.6v1.6h-1.6zM458.3 187.7h12.3v1.6h-12.3zM234.8 189.1h6.9v1.6h-6.9zM245.5 189.1h4.3v1.6h-4.3zM253.5 189.1h2.9v1.6h-2.9zM456.9 189.1h13.6v1.6h-13.6zM218.8 190.4h1.6v1.6h-1.6zM233.5 190.4h11.0v1.6h-11.0zM254.9 190.4h4.3v1.6h-4.3zM261.6 190.4h2.9v1.6h-2.9zM456.9 190.4h13.6v1.6h-13.6zM218.8 191.7h1.6v1.6h-1.6zM233.5 191.7h2.9v1.6h-2.9zM237.5 191.7h6.9v1.6h-6.9zM252.2 191.7h12.3v1.6h-12.3zM455.6 191.7h15.0v1.6h-15.0zM237.5 193.0h6.9v1.6h-6.9zM253.5 193.0h2.9v1.6h-2.9zM257.6 193.0h1.6v1.6h-1.6zM261.6 193.0h2.9v1.6h-2.9zM454.2 193.0h16.3v1.6h-16.3zM222.8 194.4h4.3v1.6h-4.3zM237.5 194.4h4.3v1.6h-4.3zM454.2 194.4h16.3v1.6h-16.3zM222.8 195.7h12.3v1.6h-12.3zM237.5 195.7h4.3v1.6h-4.3zM454.2 195.7h16.3v1.6h-16.3zM224.1 197.0h17.6v1.6h-17.6zM274.9 197.0h1.6v1.6h-1.6zM454.2 197.0h16.3v1.6h-16.3zM213.4 198.3h1.6v1.6h-1.6zM218.8 198.3h1.6v1.6h-1.6zM225.4 198.3h17.6v1.6h-17.6zM250.9 198.3h1.6v1.6h-1.6zM256.2 198.3h12.3v1.6h-12.3zM274.9 198.3h4.3v1.6h-4.3zM291.0 198.3h1.6v1.6h-1.6zM454.2 198.3h16.3v1.6h-16.3zM213.4 199.7h4.3v1.6h-4.3zM228.1 199.7h25.7v1.6h-25.7zM256.2 199.7h12.3v1.6h-12.3zM270.9 199.7h9.6v1.6h-9.6zM287.0 199.7h6.9v1.6h-6.9zM454.2 199.7h16.3v1.6h-16.3zM213.4 201.0h4.3v1.6h-4.3zM222.8 201.0h2.9v1.6h-2.9zM228.1 201.0h24.3v1.6h-24.3zM256.2 201.0h13.6v1.6h-13.6zM270.9 201.0h11.0v1.6h-11.0zM284.3 201.0h8.3v1.6h-8.3zM299.0 201.0h2.9v1.6h-2.9zM452.9 201.0h17.6v1.6h-17.6zM216.1 202.3h1.6v1.6h-1.6zM221.4 202.3h4.3v1.6h-4.3zM228.1 202.3h25.7v1.6h-25.7zM254.9 202.3h6.9v1.6h-6.9zM264.2 202.3h5.6v1.6h-5.6zM273.6 202.3h17.6v1.6h-17.6zM297.7 202.3h6.9v1.6h-6.9zM454.2 202.3h16.3v1.6h-16.3zM221.4 203.7h12.3v1.6h-12.3zM234.8 203.7h28.3v1.6h-28.3zM265.6 203.7h6.9v1.6h-6.9zM274.9 203.7h15.0v1.6h-15.0zM293.7 203.7h11.0v1.6h-11.0zM454.2 203.7h16.3v1.6h-16.3zM221.4 205.0h5.6v1.6h-5.6zM233.5 205.0h56.4v1.6h-56.4zM292.3 205.0h13.6v1.6h-13.6zM455.6 205.0h15.0v1.6h-15.0zM221.4 206.3h4.3v1.6h-4.3zM233.5 206.3h73.8v1.6h-73.8zM327.1 206.3h1.6v1.6h-1.6zM455.6 206.3h15.0v1.6h-15.0zM222.8 207.6h1.6v1.6h-1.6zM233.5 207.6h11.0v1.6h-11.0zM245.5 207.6h12.3v1.6h-12.3zM260.2 207.6h17.6v1.6h-17.6zM280.3 207.6h20.3v1.6h-20.3zM304.4 207.6h1.6v1.6h-1.6zM315.1 207.6h5.6v1.6h-5.6zM325.8 207.6h6.9v1.6h-6.9zM456.9 207.6h13.6v1.6h-13.6zM221.4 209.0h4.3v1.6h-4.3zM233.5 209.0h9.6v1.6h-9.6zM246.9 209.0h8.3v1.6h-8.3zM260.2 209.0h16.3v1.6h-16.3zM280.3 209.0h20.3v1.6h-20.3zM316.4 209.0h5.6v1.6h-5.6zM324.5 209.0h8.3v1.6h-8.3zM456.9 209.0h13.6v1.6h-13.6zM220.1 210.3h5.6v1.6h-5.6zM238.8 210.3h2.9v1.6h-2.9zM250.9 210.3h4.3v1.6h-4.3zM265.6 210.3h12.3v1.6h-12.3zM280.3 210.3h20.3v1.6h-20.3zM319.1 210.3h12.3v1.6h-12.3zM458.3 210.3h12.3v1.6h-12.3zM218.8 211.6h8.3v1.6h-8.3zM238.8 211.6h2.9v1.6h-2.9zM270.9 211.6h2.9v1.6h-2.9zM274.9 211.6h1.6v1.6h-1.6zM279.0 211.6h15.0v1.6h-15.0zM305.7 211.6h1.6v1.6h-1.6zM312.4 211.6h1.6v1.6h-1.6zM320.4 211.6h9.6v1.6h-9.6zM333.8 211.6h2.9v1.6h-2.9zM459.6 211.6h11.0v1.6h-11.0zM218.8 212.9h13.6v1.6h-13.6zM237.5 212.9h5.6v1.6h-5.6zM270.9 212.9h4.3v1.6h-4.3zM279.0 212.9h15.0v1.6h-15.0zM312.4 212.9h1.6v1.6h-1.6zM315.1 212.9h15.0v1.6h-15.0zM459.6 212.9h11.0v1.6h-11.0zM218.8 214.3h15.0v1.6h-15.0zM237.5 214.3h5.6v1.6h-5.6zM270.9 214.3h5.6v1.6h-5.6zM279.0 214.3h1.6v1.6h-1.6zM281.6 214.3h12.3v1.6h-12.3zM315.1 214.3h17.6v1.6h-17.6zM383.3 214.3h1.6v1.6h-1.6zM459.6 214.3h11.0v1.6h-11.0zM213.4 215.6h20.3v1.6h-20.3zM237.5 215.6h6.9v1.6h-6.9zM266.9 215.6h2.9v1.6h-2.9zM270.9 215.6h5.6v1.6h-5.6zM281.6 215.6h8.3v1.6h-8.3zM316.4 215.6h16.3v1.6h-16.3zM383.3 215.6h1.6v1.6h-1.6zM462.3 215.6h8.3v1.6h-8.3zM213.4 216.9h17.6v1.6h-17.6zM238.8 216.9h6.9v1.6h-6.9zM266.9 216.9h2.9v1.6h-2.9zM272.3 216.9h19.0v1.6h-19.0zM300.4 216.9h1.6v1.6h-1.6zM304.4 216.9h1.6v1.6h-1.6zM317.8 216.9h6.9v1.6h-6.9zM328.5 216.9h2.9v1.6h-2.9zM337.8 216.9h2.9v1.6h-2.9zM419.5 216.9h1.6v1.6h-1.6zM463.6 216.9h6.9v1.6h-6.9zM213.4 218.2h19.0v1.6h-19.0zM238.8 218.2h11.0v1.6h-11.0zM265.6 218.2h4.3v1.6h-4.3zM273.6 218.2h12.3v1.6h-12.3zM288.3 218.2h5.6v1.6h-5.6zM296.4 218.2h1.6v1.6h-1.6zM303.0 218.2h5.6v1.6h-5.6zM323.1 218.2h1.6v1.6h-1.6zM333.8 218.2h9.6v1.6h-9.6zM432.8 218.2h4.3v1.6h-4.3zM464.9 218.2h5.6v1.6h-5.6zM213.4 219.6h21.7v1.6h-21.7zM237.5 219.6h13.6v1.6h-13.6zM265.6 219.6h5.6v1.6h-5.6zM272.3 219.6h12.3v1.6h-12.3zM288.3 219.6h5.6v1.6h-5.6zM296.4 219.6h1.6v1.6h-1.6zM303.0 219.6h6.9v1.6h-6.9zM333.8 219.6h11.0v1.6h-11.0zM365.9 219.6h12.3v1.6h-12.3zM388.7 219.6h1.6v1.6h-1.6zM431.5 219.6h5.6v1.6h-5.6zM466.3 219.6h4.3v1.6h-4.3zM213.4 220.9h37.7v1.6h-37.7zM265.6 220.9h19.0v1.6h-19.0zM289.7 220.9h8.3v1.6h-8.3zM305.7 220.9h4.3v1.6h-4.3zM335.2 220.9h2.9v1.6h-2.9zM340.5 220.9h4.3v1.6h-4.3zM351.2 220.9h1.6v1.6h-1.6zM365.9 220.9h12.3v1.6h-12.3zM387.3 220.9h5.6v1.6h-5.6zM431.5 220.9h5.6v1.6h-5.6zM466.3 220.9h4.3v1.6h-4.3zM213.4 222.2h37.7v1.6h-37.7zM266.9 222.2h17.6v1.6h-17.6zM291.0 222.2h5.6v1.6h-5.6zM307.1 222.2h2.9v1.6h-2.9zM349.9 222.2h4.3v1.6h-4.3zM365.9 222.2h17.6v1.6h-17.6zM387.3 222.2h9.6v1.6h-9.6zM403.4 222.2h1.6v1.6h-1.6zM407.4 222.2h1.6v1.6h-1.6zM213.4 223.5h35.0v1.6h-35.0zM266.9 223.5h13.6v1.6h-13.6zM284.3 223.5h1.6v1.6h-1.6zM292.3 223.5h2.9v1.6h-2.9zM345.9 223.5h8.3v1.6h-8.3zM363.3 223.5h20.3v1.6h-20.3zM387.3 223.5h9.6v1.6h-9.6zM402.1 223.5h8.3v1.6h-8.3zM442.2 223.5h2.9v1.6h-2.9zM213.4 224.9h36.4v1.6h-36.4zM266.9 224.9h9.6v1.6h-9.6zM285.7 224.9h2.9v1.6h-2.9zM348.5 224.9h4.3v1.6h-4.3zM364.6 224.9h19.0v1.6h-19.0zM387.3 224.9h8.3v1.6h-8.3zM403.4 224.9h6.9v1.6h-6.9zM442.2 224.9h2.9v1.6h-2.9zM213.4 226.2h39.1v1.6h-39.1zM374.0 226.2h5.6v1.6h-5.6zM386.0 226.2h9.6v1.6h-9.6zM406.1 226.2h8.3v1.6h-8.3zM213.4 227.5h40.4v1.6h-40.4zM374.0 227.5h2.9v1.6h-2.9zM386.0 227.5h15.0v1.6h-15.0zM407.4 227.5h6.9v1.6h-6.9zM213.4 228.8h41.7v1.6h-41.7zM375.3 228.8h1.6v1.6h-1.6zM387.3 228.8h5.6v1.6h-5.6zM395.4 228.8h5.6v1.6h-5.6zM407.4 228.8h6.9v1.6h-6.9zM213.4 230.2h41.7v1.6h-41.7zM396.7 230.2h2.9v1.6h-2.9zM422.1 230.2h2.9v1.6h-2.9zM213.4 231.5h41.7v1.6h-41.7zM420.8 231.5h4.3v1.6h-4.3zM213.4 232.8h44.4v1.6h-44.4zM422.1 232.8h2.9v1.6h-2.9zM213.4 234.1h44.4v1.6h-44.4zM213.4 235.5h44.4v1.6h-44.4zM213.4 236.8h44.4v1.6h-44.4zM213.4 238.1h44.4v1.6h-44.4zM213.4 239.4h44.4v1.6h-44.4zM213.4 240.8h44.4v1.6h-44.4z"/>
<path fill="#3ea087" d="M331.1 154.6h4.3v1.6h-4.3zM348.5 154.6h1.6v1.6h-1.6zM367.3 154.6h1.6v1.6h-1.6zM374.0 154.6h5.6v1.6h-5.6zM331.1 155.9h4.3v1.6h-4.3zM344.5 155.9h1.6v1.6h-1.6zM348.5 155.9h6.9v1.6h-6.9zM365.9 155.9h2.9v1.6h-2.9zM374.0 155.9h5.6v1.6h-5.6zM328.5 157.3h1.6v1.6h-1.6zM333.8 157.3h2.9v1.6h-2.9zM344.5 157.3h1.6v1.6h-1.6zM349.9 157.3h2.9v1.6h-2.9zM355.2 157.3h1.6v1.6h-1.6zM365.9 157.3h2.9v1.6h-2.9zM371.3 157.3h8.3v1.6h-8.3zM328.5 158.6h1.6v1.6h-1.6zM335.2 158.6h1.6v1.6h-1.6zM345.9 158.6h1.6v1.6h-1.6zM348.5 158.6h5.6v1.6h-5.6zM355.2 158.6h1.6v1.6h-1.6zM369.9 158.6h1.6v1.6h-1.6zM376.6 158.6h5.6v1.6h-5.6zM297.7 159.9h2.9v1.6h-2.9zM324.5 159.9h4.3v1.6h-4.3zM347.2 159.9h9.6v1.6h-9.6zM369.9 159.9h1.6v1.6h-1.6zM378.0 159.9h4.3v1.6h-4.3zM296.4 161.2h2.9v1.6h-2.9zM321.8 161.2h2.9v1.6h-2.9zM325.8 161.2h2.9v1.6h-2.9zM333.8 161.2h1.6v1.6h-1.6zM347.2 161.2h6.9v1.6h-6.9zM376.6 161.2h2.9v1.6h-2.9zM382.0 161.2h1.6v1.6h-1.6zM395.4 161.2h1.6v1.6h-1.6zM295.0 162.6h2.9v1.6h-2.9zM312.4 162.6h2.9v1.6h-2.9zM319.1 162.6h2.9v1.6h-2.9zM325.8 162.6h2.9v1.6h-2.9zM331.1 162.6h2.9v1.6h-2.9zM347.2 162.6h1.6v1.6h-1.6zM351.2 162.6h4.3v1.6h-4.3zM356.6 162.6h1.6v1.6h-1.6zM359.2 162.6h2.9v1.6h-2.9zM372.6 162.6h1.6v1.6h-1.6zM375.3 162.6h2.9v1.6h-2.9zM382.0 162.6h1.6v1.6h-1.6zM395.4 162.6h1.6v1.6h-1.6zM307.1 163.9h5.6v1.6h-5.6zM316.4 163.9h1.6v1.6h-1.6zM331.1 163.9h2.9v1.6h-2.9zM336.5 163.9h2.9v1.6h-2.9zM341.9 163.9h4.3v1.6h-4.3zM353.9 163.9h1.6v1.6h-1.6zM360.6 163.9h4.3v1.6h-4.3zM382.0 163.9h1.6v1.6h-1.6zM293.7 165.2h1.6v1.6h-1.6zM307.1 165.2h4.3v1.6h-4.3zM316.4 165.2h2.9v1.6h-2.9zM331.1 165.2h2.9v1.6h-2.9zM335.2 165.2h5.6v1.6h-5.6zM351.2 165.2h4.3v1.6h-4.3zM360.6 165.2h5.6v1.6h-5.6zM383.3 165.2h1.6v1.6h-1.6zM288.3 166.5h1.6v1.6h-1.6zM292.3 166.5h1.6v1.6h-1.6zM307.1 166.5h1.6v1.6h-1.6zM331.1 166.5h6.9v1.6h-6.9zM351.2 166.5h5.6v1.6h-5.6zM360.6 166.5h6.9v1.6h-6.9zM284.3 167.9h1.6v1.6h-1.6zM289.7 167.9h2.9v1.6h-2.9zM299.0 167.9h2.9v1.6h-2.9zM324.5 167.9h2.9v1.6h-2.9zM332.5 167.9h4.3v1.6h-4.3zM340.5 167.9h2.9v1.6h-2.9zM351.2 167.9h1.6v1.6h-1.6zM353.9 167.9h2.9v1.6h-2.9zM360.6 167.9h2.9v1.6h-2.9zM364.6 167.9h2.9v1.6h-2.9zM395.4 167.9h1.6v1.6h-1.6zM463.6 167.9h1.6v1.6h-1.6zM469.0 167.9h1.6v1.6h-1.6zM283.0 169.2h1.6v1.6h-1.6zM297.7 169.2h2.9v1.6h-2.9zM301.7 169.2h1.6v1.6h-1.6zM305.7 169.2h1.6v1.6h-1.6zM312.4 169.2h5.6v1.6h-5.6zM325.8 169.2h1.6v1.6h-1.6zM332.5 169.2h2.9v1.6h-2.9zM339.2 169.2h5.6v1.6h-5.6zM349.9 169.2h1.6v1.6h-1.6zM360.6 169.2h2.9v1.6h-2.9zM364.6 169.2h2.9v1.6h-2.9zM379.3 169.2h2.9v1.6h-2.9zM384.7 169.2h1.6v1.6h-1.6zM469.0 169.2h1.6v1.6h-1.6zM281.6 170.5h1.6v1.6h-1.6zM297.7 170.5h1.6v1.6h-1.6zM300.4 170.5h6.9v1.6h-6.9zM309.7 170.5h4.3v1.6h-4.3zM325.8 170.5h4.3v1.6h-4.3zM340.5 170.5h5.6v1.6h-5.6zM348.5 170.5h1.6v1.6h-1.6zM363.3 170.5h1.6v1.6h-1.6zM380.7 170.5h2.9v1.6h-2.9zM384.7 170.5h1.6v1.6h-1.6zM388.7 170.5h5.6v1.6h-5.6zM469.0 170.5h1.6v1.6h-1.6zM277.6 171.8h1.6v1.6h-1.6zM296.4 171.8h4.3v1.6h-4.3zM303.0 171.8h6.9v1.6h-6.9zM316.4 171.8h1.6v1.6h-1.6zM324.5 171.8h5.6v1.6h-5.6zM337.8 171.8h1.6v1.6h-1.6zM341.9 171.8h2.9v1.6h-2.9zM345.9 171.8h1.6v1.6h-1.6zM363.3 171.8h1.6v1.6h-1.6zM390.0 171.8h2.9v1.6h-2.9zM277.6 173.2h1.6v1.6h-1.6zM288.3 173.2h1.6v1.6h-1.6zM293.7 173.2h2.9v1.6h-2.9zM297.7 173.2h1.6v1.6h-1.6zM303.0 173.2h1.6v1.6h-1.6zM305.7 173.2h2.9v1.6h-2.9zM315.1 173.2h1.6v1.6h-1.6zM321.8 173.2h1.6v1.6h-1.6zM327.1 173.2h1.6v1.6h-1.6zM329.8 173.2h1.6v1.6h-1.6zM337.8 173.2h6.9v1.6h-6.9zM345.9 173.2h2.9v1.6h-2.9zM363.3 173.2h1.6v1.6h-1.6zM390.0 173.2h2.9v1.6h-2.9zM277.6 174.5h2.9v1.6h-2.9zM287.0 174.5h2.9v1.6h-2.9zM293.7 174.5h1.6v1.6h-1.6zM297.7 174.5h2.9v1.6h-2.9zM303.0 174.5h5.6v1.6h-5.6zM315.1 174.5h1.6v1.6h-1.6zM328.5 174.5h1.6v1.6h-1.6zM340.5 174.5h4.3v1.6h-4.3zM345.9 174.5h2.9v1.6h-2.9zM391.4 174.5h1.6v1.6h-1.6zM280.3 175.8h1.6v1.6h-1.6zM285.7 175.8h2.9v1.6h-2.9zM293.7 175.8h1.6v1.6h-1.6zM299.0 175.8h1.6v1.6h-1.6zM304.4 175.8h4.3v1.6h-4.3zM328.5 175.8h1.6v1.6h-1.6zM337.8 175.8h1.6v1.6h-1.6zM340.5 175.8h1.6v1.6h-1.6zM343.2 175.8h1.6v1.6h-1.6zM345.9 175.8h2.9v1.6h-2.9zM361.9 175.8h1.6v1.6h-1.6zM369.9 175.8h1.6v1.6h-1.6zM287.0 177.1h1.6v1.6h-1.6zM307.1 177.1h5.6v1.6h-5.6zM316.4 177.1h1.6v1.6h-1.6zM323.1 177.1h9.6v1.6h-9.6zM341.9 177.1h1.6v1.6h-1.6zM344.5 177.1h4.3v1.6h-4.3zM361.9 177.1h1.6v1.6h-1.6zM367.3 177.1h1.6v1.6h-1.6zM372.6 177.1h1.6v1.6h-1.6zM391.4 177.1h2.9v1.6h-2.9zM308.4 178.5h5.6v1.6h-5.6zM316.4 178.5h2.9v1.6h-2.9zM321.8 178.5h1.6v1.6h-1.6zM327.1 178.5h2.9v1.6h-2.9zM344.5 178.5h4.3v1.6h-4.3zM360.6 178.5h2.9v1.6h-2.9zM367.3 178.5h2.9v1.6h-2.9zM372.6 178.5h2.9v1.6h-2.9zM379.3 178.5h2.9v1.6h-2.9zM386.0 178.5h6.9v1.6h-6.9zM458.3 178.5h1.6v1.6h-1.6zM287.0 179.8h2.9v1.6h-2.9zM312.4 179.8h1.6v1.6h-1.6zM321.8 179.8h2.9v1.6h-2.9zM327.1 179.8h2.9v1.6h-2.9zM345.9 179.8h2.9v1.6h-2.9zM360.6 179.8h6.9v1.6h-6.9zM369.9 179.8h5.6v1.6h-5.6zM379.3 179.8h1.6v1.6h-1.6zM383.3 179.8h2.9v1.6h-2.9zM415.4 179.8h1.6v1.6h-1.6zM289.7 181.1h1.6v1.6h-1.6zM312.4 181.1h2.9v1.6h-2.9zM316.4 181.1h2.9v1.6h-2.9zM320.4 181.1h1.6v1.6h-1.6zM367.3 181.1h8.3v1.6h-8.3zM379.3 181.1h1.6v1.6h-1.6zM384.7 181.1h6.9v1.6h-6.9zM455.6 181.1h1.6v1.6h-1.6zM312.4 182.4h1.6v1.6h-1.6zM369.9 182.4h5.6v1.6h-5.6zM379.3 182.4h1.6v1.6h-1.6zM384.7 182.4h2.9v1.6h-2.9zM390.0 182.4h1.6v1.6h-1.6zM422.1 182.4h1.6v1.6h-1.6zM454.2 182.4h1.6v1.6h-1.6zM311.1 183.8h1.6v1.6h-1.6zM371.3 183.8h1.6v1.6h-1.6zM374.0 183.8h1.6v1.6h-1.6zM384.7 183.8h2.9v1.6h-2.9zM422.1 183.8h2.9v1.6h-2.9zM446.2 183.8h1.6v1.6h-1.6zM452.9 183.8h5.6v1.6h-5.6zM374.0 185.1h1.6v1.6h-1.6zM383.3 185.1h8.3v1.6h-8.3zM451.6 185.1h1.6v1.6h-1.6zM455.6 185.1h2.9v1.6h-2.9zM277.6 186.4h1.6v1.6h-1.6zM311.1 186.4h1.6v1.6h-1.6zM313.8 186.4h1.6v1.6h-1.6zM321.8 186.4h2.9v1.6h-2.9zM340.5 186.4h2.9v1.6h-2.9zM344.5 186.4h1.6v1.6h-1.6zM348.5 186.4h1.6v1.6h-1.6zM351.2 186.4h1.6v1.6h-1.6zM355.2 186.4h1.6v1.6h-1.6zM372.6 186.4h1.6v1.6h-1.6zM383.3 186.4h1.6v1.6h-1.6zM386.0 186.4h5.6v1.6h-5.6zM392.7 186.4h1.6v1.6h-1.6zM395.4 186.4h2.9v1.6h-2.9zM400.7 186.4h4.3v1.6h-4.3zM411.4 186.4h1.6v1.6h-1.6zM426.1 186.4h2.9v1.6h-2.9zM435.5 186.4h1.6v1.6h-1.6zM440.9 186.4h2.9v1.6h-2.9zM447.6 186.4h4.3v1.6h-4.3zM456.9 186.4h1.6v1.6h-1.6zM268.3 187.7h1.6v1.6h-1.6zM277.6 187.7h1.6v1.6h-1.6zM295.0 187.7h1.6v1.6h-1.6zM307.1 187.7h1.6v1.6h-1.6zM309.7 187.7h4.3v1.6h-4.3zM325.8 187.7h1.6v1.6h-1.6zM331.1 187.7h2.9v1.6h-2.9zM339.2 187.7h4.3v1.6h-4.3zM348.5 187.7h2.9v1.6h-2.9zM356.6 187.7h2.9v1.6h-2.9zM361.9 187.7h6.9v1.6h-6.9zM369.9 187.7h1.6v1.6h-1.6zM380.7 187.7h4.3v1.6h-4.3zM386.0 187.7h2.9v1.6h-2.9zM392.7 187.7h5.6v1.6h-5.6zM400.7 187.7h5.6v1.6h-5.6zM408.8 187.7h1.6v1.6h-1.6zM412.8 187.7h1.6v1.6h-1.6zM422.1 187.7h4.3v1.6h-4.3zM443.5 187.7h1.6v1.6h-1.6zM446.2 187.7h2.9v1.6h-2.9zM266.9 189.1h4.3v1.6h-4.3zM277.6 189.1h2.9v1.6h-2.9zM293.7 189.1h1.6v1.6h-1.6zM296.4 189.1h1.6v1.6h-1.6zM307.1 189.1h1.6v1.6h-1.6zM311.1 189.1h1.6v1.6h-1.6zM327.1 189.1h1.6v1.6h-1.6zM331.1 189.1h2.9v1.6h-2.9zM340.5 189.1h2.9v1.6h-2.9zM348.5 189.1h4.3v1.6h-4.3zM363.3 189.1h2.9v1.6h-2.9zM376.6 189.1h6.9v1.6h-6.9zM387.3 189.1h11.0v1.6h-11.0zM399.4 189.1h4.3v1.6h-4.3zM412.8 189.1h8.3v1.6h-8.3zM423.5 189.1h1.6v1.6h-1.6zM430.2 189.1h1.6v1.6h-1.6zM444.9 189.1h2.9v1.6h-2.9zM269.6 190.4h2.9v1.6h-2.9zM277.6 190.4h1.6v1.6h-1.6zM280.3 190.4h1.6v1.6h-1.6zM293.7 190.4h1.6v1.6h-1.6zM296.4 190.4h1.6v1.6h-1.6zM307.1 190.4h1.6v1.6h-1.6zM327.1 190.4h6.9v1.6h-6.9zM336.5 190.4h6.9v1.6h-6.9zM349.9 190.4h2.9v1.6h-2.9zM375.3 190.4h1.6v1.6h-1.6zM378.0 190.4h6.9v1.6h-6.9zM399.4 190.4h1.6v1.6h-1.6zM403.4 190.4h5.6v1.6h-5.6zM414.1 190.4h1.6v1.6h-1.6zM420.8 190.4h1.6v1.6h-1.6zM423.5 190.4h1.6v1.6h-1.6zM431.5 190.4h4.3v1.6h-4.3zM266.9 191.7h5.6v1.6h-5.6zM277.6 191.7h1.6v1.6h-1.6zM281.6 191.7h1.6v1.6h-1.6zM293.7 191.7h4.3v1.6h-4.3zM305.7 191.7h4.3v1.6h-4.3zM332.5 191.7h5.6v1.6h-5.6zM340.5 191.7h4.3v1.6h-4.3zM351.2 191.7h1.6v1.6h-1.6zM371.3 191.7h1.6v1.6h-1.6zM376.6 191.7h8.3v1.6h-8.3zM400.7 191.7h5.6v1.6h-5.6zM446.2 191.7h1.6v1.6h-1.6zM454.2 191.7h1.6v1.6h-1.6zM279.0 193.0h1.6v1.6h-1.6zM283.0 193.0h1.6v1.6h-1.6zM293.7 193.0h2.9v1.6h-2.9zM304.4 193.0h5.6v1.6h-5.6zM333.8 193.0h2.9v1.6h-2.9zM340.5 193.0h5.6v1.6h-5.6zM369.9 193.0h4.3v1.6h-4.3zM379.3 193.0h2.9v1.6h-2.9zM399.4 193.0h4.3v1.6h-4.3zM404.7 193.0h1.6v1.6h-1.6zM444.9 193.0h1.6v1.6h-1.6zM447.6 193.0h6.9v1.6h-6.9zM280.3 194.4h1.6v1.6h-1.6zM283.0 194.4h1.6v1.6h-1.6zM287.0 194.4h1.6v1.6h-1.6zM295.0 194.4h1.6v1.6h-1.6zM303.0 194.4h2.9v1.6h-2.9zM307.1 194.4h1.6v1.6h-1.6zM319.1 194.4h1.6v1.6h-1.6zM335.2 194.4h5.6v1.6h-5.6zM345.9 194.4h1.6v1.6h-1.6zM369.9 194.4h5.6v1.6h-5.6zM398.0 194.4h1.6v1.6h-1.6zM404.7 194.4h1.6v1.6h-1.6zM414.1 194.4h1.6v1.6h-1.6zM439.5 194.4h1.6v1.6h-1.6zM444.9 194.4h1.6v1.6h-1.6zM447.6 194.4h4.3v1.6h-4.3zM280.3 195.7h4.3v1.6h-4.3zM287.0 195.7h2.9v1.6h-2.9zM303.0 195.7h5.6v1.6h-5.6zM312.4 195.7h4.3v1.6h-4.3zM333.8 195.7h1.6v1.6h-1.6zM367.3 195.7h1.6v1.6h-1.6zM372.6 195.7h1.6v1.6h-1.6zM375.3 195.7h1.6v1.6h-1.6zM398.0 195.7h1.6v1.6h-1.6zM406.1 195.7h1.6v1.6h-1.6zM412.8 195.7h2.9v1.6h-2.9zM420.8 195.7h4.3v1.6h-4.3zM426.1 195.7h2.9v1.6h-2.9zM434.2 195.7h1.6v1.6h-1.6zM438.2 195.7h1.6v1.6h-1.6zM440.9 195.7h1.6v1.6h-1.6zM443.5 195.7h6.9v1.6h-6.9zM281.6 197.0h1.6v1.6h-1.6zM304.4 197.0h5.6v1.6h-5.6zM313.8 197.0h4.3v1.6h-4.3zM335.2 197.0h9.6v1.6h-9.6zM365.9 197.0h2.9v1.6h-2.9zM374.0 197.0h4.3v1.6h-4.3zM398.0 197.0h2.9v1.6h-2.9zM406.1 197.0h4.3v1.6h-4.3zM411.4 197.0h4.3v1.6h-4.3zM420.8 197.0h1.6v1.6h-1.6zM431.5 197.0h5.6v1.6h-5.6zM270.9 198.3h2.9v1.6h-2.9zM304.4 198.3h1.6v1.6h-1.6zM308.4 198.3h1.6v1.6h-1.6zM341.9 198.3h1.6v1.6h-1.6zM353.9 198.3h2.9v1.6h-2.9zM403.4 198.3h11.0v1.6h-11.0zM415.4 198.3h1.6v1.6h-1.6zM418.1 198.3h2.9v1.6h-2.9zM280.3 199.7h2.9v1.6h-2.9zM297.7 199.7h2.9v1.6h-2.9zM301.7 199.7h4.3v1.6h-4.3zM321.8 199.7h2.9v1.6h-2.9zM341.9 199.7h1.6v1.6h-1.6zM344.5 199.7h5.6v1.6h-5.6zM353.9 199.7h1.6v1.6h-1.6zM357.9 199.7h1.6v1.6h-1.6zM386.0 199.7h4.3v1.6h-4.3zM406.1 199.7h4.3v1.6h-4.3zM411.4 199.7h2.9v1.6h-2.9zM415.4 199.7h5.6v1.6h-5.6zM283.0 201.0h1.6v1.6h-1.6zM297.7 201.0h1.6v1.6h-1.6zM301.7 201.0h4.3v1.6h-4.3zM309.7 201.0h2.9v1.6h-2.9zM316.4 201.0h2.9v1.6h-2.9zM321.8 201.0h2.9v1.6h-2.9zM341.9 201.0h1.6v1.6h-1.6zM344.5 201.0h2.9v1.6h-2.9zM348.5 201.0h1.6v1.6h-1.6zM359.2 201.0h2.9v1.6h-2.9zM384.7 201.0h13.6v1.6h-13.6zM406.1 201.0h4.3v1.6h-4.3zM412.8 201.0h1.6v1.6h-1.6zM415.4 201.0h4.3v1.6h-4.3zM296.4 202.3h1.6v1.6h-1.6zM304.4 202.3h1.6v1.6h-1.6zM309.7 202.3h1.6v1.6h-1.6zM312.4 202.3h4.3v1.6h-4.3zM320.4 202.3h1.6v1.6h-1.6zM343.2 202.3h1.6v1.6h-1.6zM345.9 202.3h4.3v1.6h-4.3zM351.2 202.3h1.6v1.6h-1.6zM355.2 202.3h2.9v1.6h-2.9zM359.2 202.3h2.9v1.6h-2.9zM367.3 202.3h4.3v1.6h-4.3zM384.7 202.3h9.6v1.6h-9.6zM396.7 202.3h4.3v1.6h-4.3zM403.4 202.3h2.9v1.6h-2.9zM408.8 202.3h9.6v1.6h-9.6zM451.6 202.3h2.9v1.6h-2.9zM273.6 203.7h1.6v1.6h-1.6zM291.0 203.7h2.9v1.6h-2.9zM304.4 203.7h2.9v1.6h-2.9zM308.4 203.7h1.6v1.6h-1.6zM320.4 203.7h1.6v1.6h-1.6zM351.2 203.7h1.6v1.6h-1.6zM356.6 203.7h5.6v1.6h-5.6zM367.3 203.7h1.6v1.6h-1.6zM369.9 203.7h5.6v1.6h-5.6zM378.0 203.7h2.9v1.6h-2.9zM384.7 203.7h1.6v1.6h-1.6zM387.3 203.7h5.6v1.6h-5.6zM411.4 203.7h6.9v1.6h-6.9zM451.6 203.7h2.9v1.6h-2.9zM307.1 205.0h1.6v1.6h-1.6zM319.1 205.0h2.9v1.6h-2.9zM345.9 205.0h1.6v1.6h-1.6zM351.2 205.0h1.6v1.6h-1.6zM355.2 205.0h8.3v1.6h-8.3zM365.9 205.0h2.9v1.6h-2.9zM371.3 205.0h11.0v1.6h-11.0zM384.7 205.0h1.6v1.6h-1.6zM451.6 205.0h4.3v1.6h-4.3zM319.1 206.3h1.6v1.6h-1.6zM325.8 206.3h1.6v1.6h-1.6zM328.5 206.3h1.6v1.6h-1.6zM340.5 206.3h2.9v1.6h-2.9zM347.2 206.3h1.6v1.6h-1.6zM351.2 206.3h5.6v1.6h-5.6zM360.6 206.3h8.3v1.6h-8.3zM374.0 206.3h2.9v1.6h-2.9zM379.3 206.3h2.9v1.6h-2.9zM384.7 206.3h1.6v1.6h-1.6zM451.6 206.3h4.3v1.6h-4.3zM339.2 207.6h1.6v1.6h-1.6zM347.2 207.6h1.6v1.6h-1.6zM351.2 207.6h1.6v1.6h-1.6zM360.6 207.6h4.3v1.6h-4.3zM375.3 207.6h5.6v1.6h-5.6zM439.5 207.6h4.3v1.6h-4.3zM450.2 207.6h6.9v1.6h-6.9zM332.5 209.0h1.6v1.6h-1.6zM336.5 209.0h1.6v1.6h-1.6zM348.5 209.0h2.9v1.6h-2.9zM380.7 209.0h2.9v1.6h-2.9zM452.9 209.0h2.9v1.6h-2.9zM317.8 210.3h1.6v1.6h-1.6zM394.0 210.3h2.9v1.6h-2.9zM399.4 210.3h1.6v1.6h-1.6zM414.1 210.3h4.3v1.6h-4.3zM317.8 211.6h1.6v1.6h-1.6zM403.4 211.6h1.6v1.6h-1.6zM408.8 211.6h1.6v1.6h-1.6zM418.1 211.6h5.6v1.6h-5.6zM424.8 211.6h1.6v1.6h-1.6zM458.3 211.6h1.6v1.6h-1.6zM390.0 212.9h1.6v1.6h-1.6zM404.7 212.9h1.6v1.6h-1.6zM407.4 212.9h1.6v1.6h-1.6zM416.8 212.9h6.9v1.6h-6.9zM424.8 212.9h1.6v1.6h-1.6zM456.9 212.9h1.6v1.6h-1.6zM390.0 214.3h1.6v1.6h-1.6zM404.7 214.3h2.9v1.6h-2.9zM415.4 214.3h6.9v1.6h-6.9zM391.4 215.6h1.6v1.6h-1.6zM404.7 215.6h8.3v1.6h-8.3zM415.4 215.6h4.3v1.6h-4.3zM424.8 215.6h1.6v1.6h-1.6zM455.6 215.6h1.6v1.6h-1.6zM459.6 215.6h2.9v1.6h-2.9zM392.7 216.9h1.6v1.6h-1.6zM406.1 216.9h13.6v1.6h-13.6zM423.5 216.9h1.6v1.6h-1.6zM455.6 216.9h1.6v1.6h-1.6zM458.3 216.9h1.6v1.6h-1.6zM462.3 216.9h1.6v1.6h-1.6zM254.9 218.2h1.6v1.6h-1.6zM260.2 218.2h1.6v1.6h-1.6zM391.4 218.2h2.9v1.6h-2.9zM399.4 218.2h2.9v1.6h-2.9zM406.1 218.2h4.3v1.6h-4.3zM412.8 218.2h1.6v1.6h-1.6zM418.1 218.2h1.6v1.6h-1.6zM422.1 218.2h1.6v1.6h-1.6zM455.6 218.2h2.9v1.6h-2.9zM254.9 219.6h1.6v1.6h-1.6zM390.0 219.6h1.6v1.6h-1.6zM398.0 219.6h5.6v1.6h-5.6zM407.4 219.6h2.9v1.6h-2.9zM412.8 219.6h1.6v1.6h-1.6zM418.1 219.6h1.6v1.6h-1.6zM420.8 219.6h1.6v1.6h-1.6zM443.5 219.6h1.6v1.6h-1.6zM447.6 219.6h2.9v1.6h-2.9zM451.6 219.6h6.9v1.6h-6.9zM254.9 220.9h1.6v1.6h-1.6zM398.0 220.9h1.6v1.6h-1.6zM400.7 220.9h5.6v1.6h-5.6zM407.4 220.9h2.9v1.6h-2.9zM412.8 220.9h1.6v1.6h-1.6zM253.5 222.2h1.6v1.6h-1.6zM256.2 222.2h4.3v1.6h-4.3zM261.6 222.2h1.6v1.6h-1.6zM335.2 222.2h1.6v1.6h-1.6zM347.2 222.2h1.6v1.6h-1.6zM398.0 222.2h5.6v1.6h-5.6zM404.7 222.2h2.9v1.6h-2.9zM410.1 222.2h6.9v1.6h-6.9zM458.3 222.2h1.6v1.6h-1.6zM463.6 222.2h2.9v1.6h-2.9zM253.5 223.5h1.6v1.6h-1.6zM256.2 223.5h1.6v1.6h-1.6zM331.1 223.5h2.9v1.6h-2.9zM337.8 223.5h1.6v1.6h-1.6zM399.4 223.5h2.9v1.6h-2.9zM410.1 223.5h6.9v1.6h-6.9zM462.3 223.5h1.6v1.6h-1.6zM254.9 224.9h4.3v1.6h-4.3zM331.1 224.9h4.3v1.6h-4.3zM339.2 224.9h4.3v1.6h-4.3zM398.0 224.9h5.6v1.6h-5.6zM410.1 224.9h4.3v1.6h-4.3zM464.9 224.9h1.6v1.6h-1.6zM256.2 226.2h4.3v1.6h-4.3zM331.1 226.2h4.3v1.6h-4.3zM337.8 226.2h1.6v1.6h-1.6zM340.5 226.2h2.9v1.6h-2.9zM344.5 226.2h1.6v1.6h-1.6zM347.2 226.2h5.6v1.6h-5.6zM398.0 226.2h5.6v1.6h-5.6zM416.8 226.2h2.9v1.6h-2.9zM257.6 227.5h2.9v1.6h-2.9zM329.8 227.5h1.6v1.6h-1.6zM335.2 227.5h6.9v1.6h-6.9zM344.5 227.5h5.6v1.6h-5.6zM351.2 227.5h1.6v1.6h-1.6zM400.7 227.5h2.9v1.6h-2.9zM414.1 227.5h2.9v1.6h-2.9zM309.7 228.8h2.9v1.6h-2.9zM327.1 228.8h4.3v1.6h-4.3zM336.5 228.8h4.3v1.6h-4.3zM344.5 228.8h5.6v1.6h-5.6zM352.6 228.8h1.6v1.6h-1.6zM392.7 228.8h2.9v1.6h-2.9zM414.1 228.8h2.9v1.6h-2.9zM419.5 228.8h1.6v1.6h-1.6zM265.6 230.2h2.9v1.6h-2.9zM309.7 230.2h1.6v1.6h-1.6zM312.4 230.2h1.6v1.6h-1.6zM319.1 230.2h2.9v1.6h-2.9zM327.1 230.2h2.9v1.6h-2.9zM331.1 230.2h1.6v1.6h-1.6zM339.2 230.2h1.6v1.6h-1.6zM344.5 230.2h5.6v1.6h-5.6zM351.2 230.2h2.9v1.6h-2.9zM391.4 230.2h5.6v1.6h-5.6zM406.1 230.2h6.9v1.6h-6.9zM415.4 230.2h5.6v1.6h-5.6zM264.2 231.5h1.6v1.6h-1.6zM268.3 231.5h1.6v1.6h-1.6zM288.3 231.5h1.6v1.6h-1.6zM311.1 231.5h1.6v1.6h-1.6zM317.8 231.5h1.6v1.6h-1.6zM332.5 231.5h1.6v1.6h-1.6zM339.2 231.5h2.9v1.6h-2.9zM343.2 231.5h5.6v1.6h-5.6zM349.9 231.5h5.6v1.6h-5.6zM391.4 231.5h1.6v1.6h-1.6zM394.0 231.5h4.3v1.6h-4.3zM406.1 231.5h1.6v1.6h-1.6zM414.1 231.5h6.9v1.6h-6.9zM264.2 232.8h1.6v1.6h-1.6zM268.3 232.8h1.6v1.6h-1.6zM311.1 232.8h1.6v1.6h-1.6zM332.5 232.8h1.6v1.6h-1.6zM340.5 232.8h8.3v1.6h-8.3zM349.9 232.8h6.9v1.6h-6.9zM395.4 232.8h2.9v1.6h-2.9zM406.1 232.8h1.6v1.6h-1.6zM414.1 232.8h8.3v1.6h-8.3zM264.2 234.1h4.3v1.6h-4.3zM288.3 234.1h1.6v1.6h-1.6zM311.1 234.1h1.6v1.6h-1.6zM329.8 234.1h1.6v1.6h-1.6zM340.5 234.1h9.6v1.6h-9.6zM352.6 234.1h2.9v1.6h-2.9zM356.6 234.1h1.6v1.6h-1.6zM395.4 234.1h6.9v1.6h-6.9zM403.4 234.1h4.3v1.6h-4.3zM412.8 234.1h9.6v1.6h-9.6zM265.6 235.5h1.6v1.6h-1.6zM308.4 235.5h6.9v1.6h-6.9zM316.4 235.5h1.6v1.6h-1.6zM328.5 235.5h1.6v1.6h-1.6zM336.5 235.5h2.9v1.6h-2.9zM340.5 235.5h2.9v1.6h-2.9zM347.2 235.5h1.6v1.6h-1.6zM352.6 235.5h2.9v1.6h-2.9zM357.9 235.5h1.6v1.6h-1.6zM367.3 235.5h1.6v1.6h-1.6zM386.0 235.5h2.9v1.6h-2.9zM394.0 235.5h2.9v1.6h-2.9zM414.1 235.5h11.0v1.6h-11.0zM428.8 235.5h4.3v1.6h-4.3zM436.8 235.5h1.6v1.6h-1.6zM439.5 235.5h1.6v1.6h-1.6zM265.6 236.8h2.9v1.6h-2.9zM308.4 236.8h2.9v1.6h-2.9zM313.8 236.8h1.6v1.6h-1.6zM317.8 236.8h2.9v1.6h-2.9zM325.8 236.8h4.3v1.6h-4.3zM333.8 236.8h12.3v1.6h-12.3zM352.6 236.8h6.9v1.6h-6.9zM364.6 236.8h1.6v1.6h-1.6zM384.7 236.8h4.3v1.6h-4.3zM392.7 236.8h4.3v1.6h-4.3zM418.1 236.8h8.3v1.6h-8.3zM427.5 236.8h2.9v1.6h-2.9zM431.5 236.8h1.6v1.6h-1.6zM434.2 236.8h6.9v1.6h-6.9zM265.6 238.1h2.9v1.6h-2.9zM313.8 238.1h2.9v1.6h-2.9zM319.1 238.1h4.3v1.6h-4.3zM327.1 238.1h5.6v1.6h-5.6zM336.5 238.1h2.9v1.6h-2.9zM345.9 238.1h2.9v1.6h-2.9zM352.6 238.1h4.3v1.6h-4.3zM363.3 238.1h2.9v1.6h-2.9zM371.3 238.1h4.3v1.6h-4.3zM384.7 238.1h4.3v1.6h-4.3zM392.7 238.1h4.3v1.6h-4.3zM416.8 238.1h2.9v1.6h-2.9zM420.8 238.1h19.0v1.6h-19.0zM265.6 239.4h1.6v1.6h-1.6zM268.3 239.4h1.6v1.6h-1.6zM315.1 239.4h1.6v1.6h-1.6zM317.8 239.4h5.6v1.6h-5.6zM345.9 239.4h2.9v1.6h-2.9zM363.3 239.4h2.9v1.6h-2.9zM369.9 239.4h2.9v1.6h-2.9zM374.0 239.4h1.6v1.6h-1.6zM383.3 239.4h6.9v1.6h-6.9zM391.4 239.4h5.6v1.6h-5.6zM415.4 239.4h4.3v1.6h-4.3zM423.5 239.4h6.9v1.6h-6.9zM432.8 239.4h1.6v1.6h-1.6zM435.5 239.4h2.9v1.6h-2.9zM265.6 240.8h4.3v1.6h-4.3zM312.4 240.8h6.9v1.6h-6.9zM321.8 240.8h1.6v1.6h-1.6zM332.5 240.8h1.6v1.6h-1.6zM345.9 240.8h1.6v1.6h-1.6zM348.5 240.8h1.6v1.6h-1.6zM361.9 240.8h12.3v1.6h-12.3zM382.0 240.8h4.3v1.6h-4.3zM388.7 240.8h2.9v1.6h-2.9zM394.0 240.8h1.6v1.6h-1.6zM414.1 240.8h1.6v1.6h-1.6zM424.8 240.8h2.9v1.6h-2.9zM432.8 240.8h1.6v1.6h-1.6z"/>
<path fill="#8cc960" d="M349.9 154.6h4.3v1.6h-4.3zM361.9 154.6h5.6v1.6h-5.6zM368.6 154.6h1.6v1.6h-1.6zM372.6 154.6h1.6v1.6h-1.6zM345.9 155.9h2.9v1.6h-2.9zM355.2 155.9h1.6v1.6h-1.6zM361.9 155.9h4.3v1.6h-4.3zM368.6 155.9h1.6v1.6h-1.6zM372.6 155.9h1.6v1.6h-1.6zM329.8 157.3h4.3v1.6h-4.3zM345.9 157.3h4.3v1.6h-4.3zM356.6 157.3h1.6v1.6h-1.6zM364.6 157.3h1.6v1.6h-1.6zM368.6 157.3h2.9v1.6h-2.9zM329.8 158.6h5.6v1.6h-5.6zM347.2 158.6h1.6v1.6h-1.6zM356.6 158.6h1.6v1.6h-1.6zM367.3 158.6h2.9v1.6h-2.9zM328.5 159.9h1.6v1.6h-1.6zM332.5 159.9h2.9v1.6h-2.9zM356.6 159.9h1.6v1.6h-1.6zM368.6 159.9h1.6v1.6h-1.6zM324.5 161.2h1.6v1.6h-1.6zM328.5 161.2h5.6v1.6h-5.6zM356.6 161.2h1.6v1.6h-1.6zM369.9 161.2h1.6v1.6h-1.6zM379.3 161.2h2.9v1.6h-2.9zM321.8 162.6h4.3v1.6h-4.3zM328.5 162.6h2.9v1.6h-2.9zM348.5 162.6h2.9v1.6h-2.9zM357.9 162.6h1.6v1.6h-1.6zM361.9 162.6h4.3v1.6h-4.3zM371.3 162.6h1.6v1.6h-1.6zM378.0 162.6h4.3v1.6h-4.3zM295.0 163.9h2.9v1.6h-2.9zM312.4 163.9h4.3v1.6h-4.3zM317.8 163.9h2.9v1.6h-2.9zM324.5 163.9h6.9v1.6h-6.9zM345.9 163.9h2.9v1.6h-2.9zM351.2 163.9h2.9v1.6h-2.9zM364.6 163.9h2.9v1.6h-2.9zM371.3 163.9h6.9v1.6h-6.9zM380.7 163.9h1.6v1.6h-1.6zM295.0 165.2h2.9v1.6h-2.9zM311.1 165.2h5.6v1.6h-5.6zM319.1 165.2h1.6v1.6h-1.6zM324.5 165.2h6.9v1.6h-6.9zM340.5 165.2h6.9v1.6h-6.9zM349.9 165.2h1.6v1.6h-1.6zM365.9 165.2h1.6v1.6h-1.6zM369.9 165.2h9.6v1.6h-9.6zM380.7 165.2h2.9v1.6h-2.9zM293.7 166.5h1.6v1.6h-1.6zM296.4 166.5h2.9v1.6h-2.9zM308.4 166.5h12.3v1.6h-12.3zM324.5 166.5h6.9v1.6h-6.9zM337.8 166.5h4.3v1.6h-4.3zM343.2 166.5h2.9v1.6h-2.9zM348.5 166.5h2.9v1.6h-2.9zM367.3 166.5h1.6v1.6h-1.6zM376.6 166.5h8.3v1.6h-8.3zM464.9 166.5h2.9v1.6h-2.9zM285.7 167.9h4.3v1.6h-4.3zM292.3 167.9h1.6v1.6h-1.6zM296.4 167.9h2.9v1.6h-2.9zM307.1 167.9h1.6v1.6h-1.6zM313.8 167.9h11.0v1.6h-11.0zM327.1 167.9h1.6v1.6h-1.6zM329.8 167.9h2.9v1.6h-2.9zM336.5 167.9h4.3v1.6h-4.3zM343.2 167.9h2.9v1.6h-2.9zM348.5 167.9h2.9v1.6h-2.9zM363.3 167.9h1.6v1.6h-1.6zM367.3 167.9h1.6v1.6h-1.6zM376.6 167.9h6.9v1.6h-6.9zM467.6 167.9h1.6v1.6h-1.6zM284.3 169.2h1.6v1.6h-1.6zM289.7 169.2h2.9v1.6h-2.9zM296.4 169.2h1.6v1.6h-1.6zM307.1 169.2h1.6v1.6h-1.6zM309.7 169.2h2.9v1.6h-2.9zM327.1 169.2h5.6v1.6h-5.6zM335.2 169.2h4.3v1.6h-4.3zM344.5 169.2h1.6v1.6h-1.6zM348.5 169.2h1.6v1.6h-1.6zM363.3 169.2h1.6v1.6h-1.6zM367.3 169.2h1.6v1.6h-1.6zM375.3 169.2h4.3v1.6h-4.3zM382.0 169.2h2.9v1.6h-2.9zM467.6 169.2h1.6v1.6h-1.6zM283.0 170.5h1.6v1.6h-1.6zM291.0 170.5h1.6v1.6h-1.6zM295.0 170.5h2.9v1.6h-2.9zM307.1 170.5h2.9v1.6h-2.9zM329.8 170.5h11.0v1.6h-11.0zM345.9 170.5h2.9v1.6h-2.9zM364.6 170.5h1.6v1.6h-1.6zM375.3 170.5h5.6v1.6h-5.6zM383.3 170.5h1.6v1.6h-1.6zM467.6 170.5h1.6v1.6h-1.6zM279.0 171.8h5.6v1.6h-5.6zM289.7 171.8h6.9v1.6h-6.9zM300.4 171.8h2.9v1.6h-2.9zM309.7 171.8h2.9v1.6h-2.9zM329.8 171.8h1.6v1.6h-1.6zM335.2 171.8h2.9v1.6h-2.9zM339.2 171.8h2.9v1.6h-2.9zM364.6 171.8h1.6v1.6h-1.6zM375.3 171.8h1.6v1.6h-1.6zM380.7 171.8h9.6v1.6h-9.6zM279.0 173.2h4.3v1.6h-4.3zM287.0 173.2h1.6v1.6h-1.6zM289.7 173.2h4.3v1.6h-4.3zM299.0 173.2h1.6v1.6h-1.6zM301.7 173.2h1.6v1.6h-1.6zM308.4 173.2h1.6v1.6h-1.6zM311.1 173.2h1.6v1.6h-1.6zM316.4 173.2h5.6v1.6h-5.6zM323.1 173.2h4.3v1.6h-4.3zM336.5 173.2h1.6v1.6h-1.6zM375.3 173.2h2.9v1.6h-2.9zM380.7 173.2h5.6v1.6h-5.6zM280.3 174.5h1.6v1.6h-1.6zM284.3 174.5h2.9v1.6h-2.9zM289.7 174.5h4.3v1.6h-4.3zM300.4 174.5h2.9v1.6h-2.9zM308.4 174.5h1.6v1.6h-1.6zM311.1 174.5h1.6v1.6h-1.6zM316.4 174.5h1.6v1.6h-1.6zM321.8 174.5h6.9v1.6h-6.9zM329.8 174.5h1.6v1.6h-1.6zM337.8 174.5h1.6v1.6h-1.6zM363.3 174.5h1.6v1.6h-1.6zM375.3 174.5h2.9v1.6h-2.9zM379.3 174.5h5.6v1.6h-5.6zM390.0 174.5h1.6v1.6h-1.6zM284.3 175.8h1.6v1.6h-1.6zM288.3 175.8h1.6v1.6h-1.6zM292.3 175.8h1.6v1.6h-1.6zM300.4 175.8h4.3v1.6h-4.3zM308.4 175.8h4.3v1.6h-4.3zM316.4 175.8h1.6v1.6h-1.6zM321.8 175.8h6.9v1.6h-6.9zM329.8 175.8h1.6v1.6h-1.6zM332.5 175.8h2.9v1.6h-2.9zM341.9 175.8h1.6v1.6h-1.6zM363.3 175.8h1.6v1.6h-1.6zM368.6 175.8h1.6v1.6h-1.6zM371.3 175.8h5.6v1.6h-5.6zM379.3 175.8h2.9v1.6h-2.9zM388.7 175.8h4.3v1.6h-4.3zM284.3 177.1h2.9v1.6h-2.9zM288.3 177.1h1.6v1.6h-1.6zM293.7 177.1h1.6v1.6h-1.6zM300.4 177.1h4.3v1.6h-4.3zM305.7 177.1h1.6v1.6h-1.6zM317.8 177.1h1.6v1.6h-1.6zM321.8 177.1h1.6v1.6h-1.6zM343.2 177.1h1.6v1.6h-1.6zM363.3 177.1h4.3v1.6h-4.3zM374.0 177.1h2.9v1.6h-2.9zM379.3 177.1h2.9v1.6h-2.9zM384.7 177.1h6.9v1.6h-6.9zM287.0 178.5h2.9v1.6h-2.9zM319.1 178.5h2.9v1.6h-2.9zM363.3 178.5h4.3v1.6h-4.3zM375.3 178.5h1.6v1.6h-1.6zM378.0 178.5h1.6v1.6h-1.6zM382.0 178.5h4.3v1.6h-4.3zM320.4 179.8h1.6v1.6h-1.6zM367.3 179.8h2.9v1.6h-2.9zM375.3 179.8h4.3v1.6h-4.3zM291.0 181.1h2.9v1.6h-2.9zM375.3 181.1h4.3v1.6h-4.3zM311.1 182.4h1.6v1.6h-1.6zM375.3 182.4h4.3v1.6h-4.3zM387.3 182.4h2.9v1.6h-2.9zM455.6 182.4h2.9v1.6h-2.9zM375.3 183.8h5.6v1.6h-5.6zM387.3 183.8h4.3v1.6h-4.3zM375.3 185.1h1.6v1.6h-1.6zM379.3 185.1h1.6v1.6h-1.6zM452.9 185.1h2.9v1.6h-2.9zM315.1 186.4h6.9v1.6h-6.9zM345.9 186.4h2.9v1.6h-2.9zM352.6 186.4h2.9v1.6h-2.9zM374.0 186.4h1.6v1.6h-1.6zM379.3 186.4h1.6v1.6h-1.6zM384.7 186.4h1.6v1.6h-1.6zM398.0 186.4h2.9v1.6h-2.9zM404.7 186.4h1.6v1.6h-1.6zM436.8 186.4h4.3v1.6h-4.3zM451.6 186.4h1.6v1.6h-1.6zM454.2 186.4h2.9v1.6h-2.9zM266.9 187.7h1.6v1.6h-1.6zM308.4 187.7h1.6v1.6h-1.6zM313.8 187.7h1.6v1.6h-1.6zM317.8 187.7h1.6v1.6h-1.6zM323.1 187.7h2.9v1.6h-2.9zM343.2 187.7h2.9v1.6h-2.9zM351.2 187.7h2.9v1.6h-2.9zM355.2 187.7h1.6v1.6h-1.6zM359.2 187.7h2.9v1.6h-2.9zM368.6 187.7h1.6v1.6h-1.6zM371.3 187.7h4.3v1.6h-4.3zM379.3 187.7h1.6v1.6h-1.6zM384.7 187.7h1.6v1.6h-1.6zM398.0 187.7h2.9v1.6h-2.9zM410.1 187.7h2.9v1.6h-2.9zM426.1 187.7h4.3v1.6h-4.3zM435.5 187.7h1.6v1.6h-1.6zM442.2 187.7h1.6v1.6h-1.6zM448.9 187.7h2.9v1.6h-2.9zM455.6 187.7h2.9v1.6h-2.9zM295.0 189.1h1.6v1.6h-1.6zM308.4 189.1h2.9v1.6h-2.9zM312.4 189.1h2.9v1.6h-2.9zM317.8 189.1h1.6v1.6h-1.6zM325.8 189.1h1.6v1.6h-1.6zM343.2 189.1h2.9v1.6h-2.9zM347.2 189.1h1.6v1.6h-1.6zM352.6 189.1h1.6v1.6h-1.6zM356.6 189.1h4.3v1.6h-4.3zM361.9 189.1h1.6v1.6h-1.6zM365.9 189.1h2.9v1.6h-2.9zM369.9 189.1h2.9v1.6h-2.9zM375.3 189.1h1.6v1.6h-1.6zM383.3 189.1h4.3v1.6h-4.3zM398.0 189.1h1.6v1.6h-1.6zM408.8 189.1h1.6v1.6h-1.6zM411.4 189.1h1.6v1.6h-1.6zM424.8 189.1h2.9v1.6h-2.9zM435.5 189.1h1.6v1.6h-1.6zM442.2 189.1h2.9v1.6h-2.9zM447.6 189.1h2.9v1.6h-2.9zM455.6 189.1h1.6v1.6h-1.6zM279.0 190.4h1.6v1.6h-1.6zM295.0 190.4h1.6v1.6h-1.6zM308.4 190.4h8.3v1.6h-8.3zM325.8 190.4h1.6v1.6h-1.6zM343.2 190.4h2.9v1.6h-2.9zM347.2 190.4h2.9v1.6h-2.9zM352.6 190.4h1.6v1.6h-1.6zM357.9 190.4h1.6v1.6h-1.6zM363.3 190.4h2.9v1.6h-2.9zM369.9 190.4h2.9v1.6h-2.9zM384.7 190.4h15.0v1.6h-15.0zM408.8 190.4h1.6v1.6h-1.6zM412.8 190.4h1.6v1.6h-1.6zM415.4 190.4h5.6v1.6h-5.6zM424.8 190.4h2.9v1.6h-2.9zM430.2 190.4h1.6v1.6h-1.6zM443.5 190.4h6.9v1.6h-6.9zM454.2 190.4h2.9v1.6h-2.9zM279.0 191.7h2.9v1.6h-2.9zM309.7 191.7h1.6v1.6h-1.6zM327.1 191.7h5.6v1.6h-5.6zM337.8 191.7h2.9v1.6h-2.9zM344.5 191.7h1.6v1.6h-1.6zM349.9 191.7h1.6v1.6h-1.6zM352.6 191.7h1.6v1.6h-1.6zM369.9 191.7h1.6v1.6h-1.6zM372.6 191.7h1.6v1.6h-1.6zM375.3 191.7h1.6v1.6h-1.6zM384.7 191.7h1.6v1.6h-1.6zM391.4 191.7h2.9v1.6h-2.9zM399.4 191.7h1.6v1.6h-1.6zM406.1 191.7h4.3v1.6h-4.3zM420.8 191.7h4.3v1.6h-4.3zM431.5 191.7h4.3v1.6h-4.3zM444.9 191.7h1.6v1.6h-1.6zM447.6 191.7h2.9v1.6h-2.9zM452.9 191.7h1.6v1.6h-1.6zM280.3 193.0h2.9v1.6h-2.9zM309.7 193.0h1.6v1.6h-1.6zM317.8 193.0h2.9v1.6h-2.9zM331.1 193.0h2.9v1.6h-2.9zM336.5 193.0h4.3v1.6h-4.3zM345.9 193.0h1.6v1.6h-1.6zM351.2 193.0h2.9v1.6h-2.9zM364.6 193.0h2.9v1.6h-2.9zM368.6 193.0h1.6v1.6h-1.6zM374.0 193.0h5.6v1.6h-5.6zM382.0 193.0h4.3v1.6h-4.3zM391.4 193.0h2.9v1.6h-2.9zM398.0 193.0h1.6v1.6h-1.6zM406.1 193.0h2.9v1.6h-2.9zM414.1 193.0h1.6v1.6h-1.6zM427.5 193.0h2.9v1.6h-2.9zM432.8 193.0h6.9v1.6h-6.9zM443.5 193.0h1.6v1.6h-1.6zM281.6 194.4h1.6v1.6h-1.6zM305.7 194.4h1.6v1.6h-1.6zM308.4 194.4h2.9v1.6h-2.9zM312.4 194.4h6.9v1.6h-6.9zM320.4 194.4h2.9v1.6h-2.9zM332.5 194.4h2.9v1.6h-2.9zM363.3 194.4h6.9v1.6h-6.9zM375.3 194.4h6.9v1.6h-6.9zM391.4 194.4h4.3v1.6h-4.3zM396.7 194.4h1.6v1.6h-1.6zM406.1 194.4h1.6v1.6h-1.6zM412.8 194.4h1.6v1.6h-1.6zM415.4 194.4h8.3v1.6h-8.3zM426.1 194.4h2.9v1.6h-2.9zM432.8 194.4h6.9v1.6h-6.9zM440.9 194.4h1.6v1.6h-1.6zM443.5 194.4h1.6v1.6h-1.6zM308.4 195.7h4.3v1.6h-4.3zM316.4 195.7h6.9v1.6h-6.9zM328.5 195.7h5.6v1.6h-5.6zM348.5 195.7h1.6v1.6h-1.6zM363.3 195.7h4.3v1.6h-4.3zM368.6 195.7h4.3v1.6h-4.3zM376.6 195.7h4.3v1.6h-4.3zM392.7 195.7h2.9v1.6h-2.9zM396.7 195.7h1.6v1.6h-1.6zM407.4 195.7h1.6v1.6h-1.6zM411.4 195.7h1.6v1.6h-1.6zM415.4 195.7h5.6v1.6h-5.6zM424.8 195.7h1.6v1.6h-1.6zM428.8 195.7h2.9v1.6h-2.9zM432.8 195.7h1.6v1.6h-1.6zM435.5 195.7h2.9v1.6h-2.9zM442.2 195.7h1.6v1.6h-1.6zM309.7 197.0h4.3v1.6h-4.3zM317.8 197.0h2.9v1.6h-2.9zM323.1 197.0h2.9v1.6h-2.9zM329.8 197.0h5.6v1.6h-5.6zM349.9 197.0h1.6v1.6h-1.6zM353.9 197.0h2.9v1.6h-2.9zM363.3 197.0h2.9v1.6h-2.9zM368.6 197.0h1.6v1.6h-1.6zM372.6 197.0h1.6v1.6h-1.6zM378.0 197.0h1.6v1.6h-1.6zM396.7 197.0h1.6v1.6h-1.6zM410.1 197.0h1.6v1.6h-1.6zM415.4 197.0h5.6v1.6h-5.6zM305.7 198.3h2.9v1.6h-2.9zM309.7 198.3h1.6v1.6h-1.6zM313.8 198.3h6.9v1.6h-6.9zM321.8 198.3h4.3v1.6h-4.3zM331.1 198.3h2.9v1.6h-2.9zM335.2 198.3h6.9v1.6h-6.9zM349.9 198.3h1.6v1.6h-1.6zM352.6 198.3h1.6v1.6h-1.6zM356.6 198.3h2.9v1.6h-2.9zM360.6 198.3h1.6v1.6h-1.6zM364.6 198.3h4.3v1.6h-4.3zM372.6 198.3h9.6v1.6h-9.6zM384.7 198.3h9.6v1.6h-9.6zM395.4 198.3h8.3v1.6h-8.3zM416.8 198.3h1.6v1.6h-1.6zM300.4 199.7h1.6v1.6h-1.6zM305.7 199.7h1.6v1.6h-1.6zM308.4 199.7h4.3v1.6h-4.3zM315.1 199.7h6.9v1.6h-6.9zM324.5 199.7h1.6v1.6h-1.6zM336.5 199.7h1.6v1.6h-1.6zM340.5 199.7h1.6v1.6h-1.6zM349.9 199.7h1.6v1.6h-1.6zM352.6 199.7h1.6v1.6h-1.6zM359.2 199.7h4.3v1.6h-4.3zM372.6 199.7h2.9v1.6h-2.9zM378.0 199.7h8.3v1.6h-8.3zM390.0 199.7h8.3v1.6h-8.3zM403.4 199.7h2.9v1.6h-2.9zM410.1 199.7h1.6v1.6h-1.6zM281.6 201.0h1.6v1.6h-1.6zM308.4 201.0h1.6v1.6h-1.6zM312.4 201.0h4.3v1.6h-4.3zM319.1 201.0h2.9v1.6h-2.9zM324.5 201.0h4.3v1.6h-4.3zM335.2 201.0h6.9v1.6h-6.9zM347.2 201.0h1.6v1.6h-1.6zM349.9 201.0h5.6v1.6h-5.6zM361.9 201.0h1.6v1.6h-1.6zM364.6 201.0h9.6v1.6h-9.6zM378.0 201.0h6.9v1.6h-6.9zM402.1 201.0h4.3v1.6h-4.3zM410.1 201.0h2.9v1.6h-2.9zM305.7 202.3h1.6v1.6h-1.6zM308.4 202.3h1.6v1.6h-1.6zM321.8 202.3h5.6v1.6h-5.6zM333.8 202.3h9.6v1.6h-9.6zM344.5 202.3h1.6v1.6h-1.6zM349.9 202.3h1.6v1.6h-1.6zM352.6 202.3h2.9v1.6h-2.9zM361.9 202.3h5.6v1.6h-5.6zM371.3 202.3h13.6v1.6h-13.6zM307.1 203.7h1.6v1.6h-1.6zM321.8 203.7h4.3v1.6h-4.3zM333.8 203.7h2.9v1.6h-2.9zM341.9 203.7h9.6v1.6h-9.6zM352.6 203.7h4.3v1.6h-4.3zM361.9 203.7h5.6v1.6h-5.6zM375.3 203.7h2.9v1.6h-2.9zM380.7 203.7h4.3v1.6h-4.3zM321.8 205.0h6.9v1.6h-6.9zM335.2 205.0h1.6v1.6h-1.6zM339.2 205.0h6.9v1.6h-6.9zM347.2 205.0h4.3v1.6h-4.3zM352.6 205.0h2.9v1.6h-2.9zM363.3 205.0h2.9v1.6h-2.9zM382.0 205.0h2.9v1.6h-2.9zM320.4 206.3h2.9v1.6h-2.9zM324.5 206.3h1.6v1.6h-1.6zM339.2 206.3h1.6v1.6h-1.6zM348.5 206.3h2.9v1.6h-2.9zM382.0 206.3h2.9v1.6h-2.9zM320.4 207.6h1.6v1.6h-1.6zM336.5 207.6h2.9v1.6h-2.9zM348.5 207.6h2.9v1.6h-2.9zM380.7 207.6h4.3v1.6h-4.3zM333.8 209.0h2.9v1.6h-2.9zM391.4 211.6h12.3v1.6h-12.3zM410.1 211.6h8.3v1.6h-8.3zM423.5 211.6h1.6v1.6h-1.6zM391.4 212.9h1.6v1.6h-1.6zM395.4 212.9h5.6v1.6h-5.6zM408.8 212.9h8.3v1.6h-8.3zM423.5 212.9h1.6v1.6h-1.6zM458.3 212.9h1.6v1.6h-1.6zM391.4 214.3h1.6v1.6h-1.6zM395.4 214.3h5.6v1.6h-5.6zM407.4 214.3h8.3v1.6h-8.3zM422.1 214.3h2.9v1.6h-2.9zM456.9 214.3h1.6v1.6h-1.6zM392.7 215.6h8.3v1.6h-8.3zM403.4 215.6h1.6v1.6h-1.6zM412.8 215.6h2.9v1.6h-2.9zM419.5 215.6h5.6v1.6h-5.6zM456.9 215.6h2.9v1.6h-2.9zM394.0 216.9h1.6v1.6h-1.6zM398.0 216.9h4.3v1.6h-4.3zM404.7 216.9h1.6v1.6h-1.6zM422.1 216.9h1.6v1.6h-1.6zM456.9 216.9h1.6v1.6h-1.6zM394.0 218.2h1.6v1.6h-1.6zM398.0 218.2h1.6v1.6h-1.6zM402.1 218.2h4.3v1.6h-4.3zM410.1 218.2h2.9v1.6h-2.9zM420.8 218.2h1.6v1.6h-1.6zM256.2 219.6h2.9v1.6h-2.9zM262.9 219.6h1.6v1.6h-1.6zM391.4 219.6h2.9v1.6h-2.9zM403.4 219.6h4.3v1.6h-4.3zM410.1 219.6h2.9v1.6h-2.9zM419.5 219.6h1.6v1.6h-1.6zM256.2 220.9h2.9v1.6h-2.9zM262.9 220.9h1.6v1.6h-1.6zM392.7 220.9h2.9v1.6h-2.9zM396.7 220.9h1.6v1.6h-1.6zM406.1 220.9h1.6v1.6h-1.6zM410.1 220.9h2.9v1.6h-2.9zM254.9 222.2h1.6v1.6h-1.6zM260.2 222.2h1.6v1.6h-1.6zM396.7 222.2h1.6v1.6h-1.6zM408.8 222.2h1.6v1.6h-1.6zM254.9 223.5h1.6v1.6h-1.6zM333.8 223.5h4.3v1.6h-4.3zM396.7 223.5h2.9v1.6h-2.9zM463.6 223.5h2.9v1.6h-2.9zM335.2 224.9h4.3v1.6h-4.3zM345.9 224.9h2.9v1.6h-2.9zM395.4 224.9h2.9v1.6h-2.9zM463.6 224.9h1.6v1.6h-1.6zM335.2 226.2h2.9v1.6h-2.9zM339.2 226.2h1.6v1.6h-1.6zM345.9 226.2h1.6v1.6h-1.6zM395.4 226.2h2.9v1.6h-2.9zM403.4 226.2h1.6v1.6h-1.6zM331.1 227.5h4.3v1.6h-4.3zM349.9 227.5h1.6v1.6h-1.6zM403.4 227.5h1.6v1.6h-1.6zM416.8 227.5h1.6v1.6h-1.6zM419.5 227.5h1.6v1.6h-1.6zM331.1 228.8h5.6v1.6h-5.6zM349.9 228.8h2.9v1.6h-2.9zM400.7 228.8h4.3v1.6h-4.3zM406.1 228.8h1.6v1.6h-1.6zM416.8 228.8h2.9v1.6h-2.9zM311.1 230.2h1.6v1.6h-1.6zM332.5 230.2h1.6v1.6h-1.6zM336.5 230.2h2.9v1.6h-2.9zM349.9 230.2h1.6v1.6h-1.6zM399.4 230.2h2.9v1.6h-2.9zM404.7 230.2h1.6v1.6h-1.6zM265.6 231.5h1.6v1.6h-1.6zM333.8 231.5h1.6v1.6h-1.6zM336.5 231.5h2.9v1.6h-2.9zM348.5 231.5h1.6v1.6h-1.6zM398.0 231.5h1.6v1.6h-1.6zM404.7 231.5h1.6v1.6h-1.6zM265.6 232.8h2.9v1.6h-2.9zM333.8 232.8h1.6v1.6h-1.6zM336.5 232.8h4.3v1.6h-4.3zM348.5 232.8h1.6v1.6h-1.6zM398.0 232.8h2.9v1.6h-2.9zM403.4 232.8h2.9v1.6h-2.9zM331.1 234.1h9.6v1.6h-9.6zM355.2 234.1h1.6v1.6h-1.6zM402.1 234.1h1.6v1.6h-1.6zM315.1 235.5h1.6v1.6h-1.6zM329.8 235.5h1.6v1.6h-1.6zM332.5 235.5h4.3v1.6h-4.3zM339.2 235.5h1.6v1.6h-1.6zM355.2 235.5h2.9v1.6h-2.9zM438.2 235.5h1.6v1.6h-1.6zM315.1 236.8h2.9v1.6h-2.9zM329.8 236.8h4.3v1.6h-4.3zM430.2 236.8h1.6v1.6h-1.6zM316.4 238.1h2.9v1.6h-2.9zM419.5 238.1h1.6v1.6h-1.6zM266.9 239.4h1.6v1.6h-1.6zM316.4 239.4h1.6v1.6h-1.6zM372.6 239.4h1.6v1.6h-1.6zM419.5 239.4h4.3v1.6h-4.3zM434.2 239.4h1.6v1.6h-1.6zM319.1 240.8h2.9v1.6h-2.9zM347.2 240.8h1.6v1.6h-1.6zM386.0 240.8h2.9v1.6h-2.9zM391.4 240.8h2.9v1.6h-2.9zM419.5 240.8h5.6v1.6h-5.6zM435.5 240.8h1.6v1.6h-1.6z"/>
<path fill="#e2e48a" d="M353.9 154.6h8.3v1.6h-8.3zM369.9 154.6h2.9v1.6h-2.9zM356.6 155.9h5.6v1.6h-5.6zM369.9 155.9h2.9v1.6h-2.9zM357.9 157.3h6.9v1.6h-6.9zM357.9 158.6h9.6v1.6h-9.6zM329.8 159.9h2.9v1.6h-2.9zM357.9 159.9h11.0v1.6h-11.0zM357.9 161.2h12.3v1.6h-12.3zM365.9 162.6h5.6v1.6h-5.6zM320.4 163.9h4.3v1.6h-4.3zM348.5 163.9h2.9v1.6h-2.9zM367.3 163.9h4.3v1.6h-4.3zM378.0 163.9h2.9v1.6h-2.9zM320.4 165.2h4.3v1.6h-4.3zM347.2 165.2h2.9v1.6h-2.9zM367.3 165.2h2.9v1.6h-2.9zM379.3 165.2h1.6v1.6h-1.6zM295.0 166.5h1.6v1.6h-1.6zM320.4 166.5h4.3v1.6h-4.3zM341.9 166.5h1.6v1.6h-1.6zM345.9 166.5h2.9v1.6h-2.9zM368.6 166.5h8.3v1.6h-8.3zM293.7 167.9h2.9v1.6h-2.9zM308.4 167.9h5.6v1.6h-5.6zM328.5 167.9h1.6v1.6h-1.6zM345.9 167.9h2.9v1.6h-2.9zM368.6 167.9h8.3v1.6h-8.3zM383.3 167.9h1.6v1.6h-1.6zM285.7 169.2h4.3v1.6h-4.3zM292.3 169.2h4.3v1.6h-4.3zM308.4 169.2h1.6v1.6h-1.6zM345.9 169.2h2.9v1.6h-2.9zM368.6 169.2h6.9v1.6h-6.9zM284.3 170.5h6.9v1.6h-6.9zM292.3 170.5h2.9v1.6h-2.9zM365.9 170.5h9.6v1.6h-9.6zM284.3 171.8h5.6v1.6h-5.6zM331.1 171.8h4.3v1.6h-4.3zM365.9 171.8h9.6v1.6h-9.6zM376.6 171.8h4.3v1.6h-4.3zM283.0 173.2h4.3v1.6h-4.3zM300.4 173.2h1.6v1.6h-1.6zM309.7 173.2h1.6v1.6h-1.6zM331.1 173.2h5.6v1.6h-5.6zM364.6 173.2h11.0v1.6h-11.0zM378.0 173.2h2.9v1.6h-2.9zM386.0 173.2h4.3v1.6h-4.3zM281.6 174.5h2.9v1.6h-2.9zM309.7 174.5h1.6v1.6h-1.6zM317.8 174.5h4.3v1.6h-4.3zM331.1 174.5h6.9v1.6h-6.9zM364.6 174.5h11.0v1.6h-11.0zM378.0 174.5h1.6v1.6h-1.6zM384.7 174.5h5.6v1.6h-5.6zM281.6 175.8h2.9v1.6h-2.9zM289.7 175.8h2.9v1.6h-2.9zM317.8 175.8h4.3v1.6h-4.3zM331.1 175.8h1.6v1.6h-1.6zM335.2 175.8h2.9v1.6h-2.9zM364.6 175.8h4.3v1.6h-4.3zM376.6 175.8h2.9v1.6h-2.9zM382.0 175.8h6.9v1.6h-6.9zM281.6 177.1h2.9v1.6h-2.9zM289.7 177.1h4.3v1.6h-4.3zM304.4 177.1h1.6v1.6h-1.6zM319.1 177.1h2.9v1.6h-2.9zM376.6 177.1h2.9v1.6h-2.9zM382.0 177.1h2.9v1.6h-2.9zM285.7 178.5h1.6v1.6h-1.6zM289.7 178.5h2.9v1.6h-2.9zM376.6 178.5h1.6v1.6h-1.6zM289.7 179.8h2.9v1.6h-2.9zM376.6 185.1h2.9v1.6h-2.9zM375.3 186.4h4.3v1.6h-4.3zM452.9 186.4h1.6v1.6h-1.6zM315.1 187.7h2.9v1.6h-2.9zM319.1 187.7h4.3v1.6h-4.3zM345.9 187.7h2.9v1.6h-2.9zM353.9 187.7h1.6v1.6h-1.6zM375.3 187.7h4.3v1.6h-4.3zM436.8 187.7h5.6v1.6h-5.6zM451.6 187.7h4.3v1.6h-4.3zM315.1 189.1h2.9v1.6h-2.9zM319.1 189.1h6.9v1.6h-6.9zM345.9 189.1h1.6v1.6h-1.6zM353.9 189.1h2.9v1.6h-2.9zM360.6 189.1h1.6v1.6h-1.6zM368.6 189.1h1.6v1.6h-1.6zM372.6 189.1h2.9v1.6h-2.9zM410.1 189.1h1.6v1.6h-1.6zM427.5 189.1h2.9v1.6h-2.9zM436.8 189.1h5.6v1.6h-5.6zM450.2 189.1h5.6v1.6h-5.6zM316.4 190.4h9.6v1.6h-9.6zM345.9 190.4h1.6v1.6h-1.6zM353.9 190.4h4.3v1.6h-4.3zM359.2 190.4h4.3v1.6h-4.3zM365.9 190.4h4.3v1.6h-4.3zM372.6 190.4h2.9v1.6h-2.9zM410.1 190.4h2.9v1.6h-2.9zM427.5 190.4h2.9v1.6h-2.9zM435.5 190.4h8.3v1.6h-8.3zM450.2 190.4h4.3v1.6h-4.3zM311.1 191.7h16.3v1.6h-16.3zM345.9 191.7h4.3v1.6h-4.3zM353.9 191.7h16.3v1.6h-16.3zM374.0 191.7h1.6v1.6h-1.6zM386.0 191.7h5.6v1.6h-5.6zM394.0 191.7h5.6v1.6h-5.6zM410.1 191.7h11.0v1.6h-11.0zM424.8 191.7h6.9v1.6h-6.9zM435.5 191.7h9.6v1.6h-9.6zM450.2 191.7h2.9v1.6h-2.9zM311.1 193.0h6.9v1.6h-6.9zM320.4 193.0h11.0v1.6h-11.0zM347.2 193.0h4.3v1.6h-4.3zM353.9 193.0h11.0v1.6h-11.0zM367.3 193.0h1.6v1.6h-1.6zM386.0 193.0h5.6v1.6h-5.6zM394.0 193.0h4.3v1.6h-4.3zM408.8 193.0h5.6v1.6h-5.6zM415.4 193.0h12.3v1.6h-12.3zM430.2 193.0h2.9v1.6h-2.9zM439.5 193.0h4.3v1.6h-4.3zM311.1 194.4h1.6v1.6h-1.6zM323.1 194.4h9.6v1.6h-9.6zM347.2 194.4h16.3v1.6h-16.3zM382.0 194.4h9.6v1.6h-9.6zM395.4 194.4h1.6v1.6h-1.6zM407.4 194.4h5.6v1.6h-5.6zM423.5 194.4h2.9v1.6h-2.9zM428.8 194.4h4.3v1.6h-4.3zM442.2 194.4h1.6v1.6h-1.6zM323.1 195.7h5.6v1.6h-5.6zM349.9 195.7h13.6v1.6h-13.6zM380.7 195.7h12.3v1.6h-12.3zM395.4 195.7h1.6v1.6h-1.6zM408.8 195.7h2.9v1.6h-2.9zM431.5 195.7h1.6v1.6h-1.6zM320.4 197.0h2.9v1.6h-2.9zM325.8 197.0h4.3v1.6h-4.3zM351.2 197.0h2.9v1.6h-2.9zM356.6 197.0h6.9v1.6h-6.9zM369.9 197.0h2.9v1.6h-2.9zM379.3 197.0h17.6v1.6h-17.6zM311.1 198.3h2.9v1.6h-2.9zM320.4 198.3h1.6v1.6h-1.6zM325.8 198.3h5.6v1.6h-5.6zM333.8 198.3h1.6v1.6h-1.6zM351.2 198.3h1.6v1.6h-1.6zM359.2 198.3h1.6v1.6h-1.6zM361.9 198.3h2.9v1.6h-2.9zM368.6 198.3h4.3v1.6h-4.3zM382.0 198.3h2.9v1.6h-2.9zM394.0 198.3h1.6v1.6h-1.6zM307.1 199.7h1.6v1.6h-1.6zM312.4 199.7h2.9v1.6h-2.9zM325.8 199.7h11.0v1.6h-11.0zM337.8 199.7h2.9v1.6h-2.9zM351.2 199.7h1.6v1.6h-1.6zM363.3 199.7h9.6v1.6h-9.6zM375.3 199.7h2.9v1.6h-2.9zM398.0 199.7h5.6v1.6h-5.6zM305.7 201.0h2.9v1.6h-2.9zM328.5 201.0h6.9v1.6h-6.9zM363.3 201.0h1.6v1.6h-1.6zM374.0 201.0h4.3v1.6h-4.3zM398.0 201.0h4.3v1.6h-4.3zM307.1 202.3h1.6v1.6h-1.6zM327.1 202.3h6.9v1.6h-6.9zM325.8 203.7h8.3v1.6h-8.3zM336.5 203.7h5.6v1.6h-5.6zM328.5 205.0h6.9v1.6h-6.9zM336.5 205.0h2.9v1.6h-2.9zM323.1 206.3h1.6v1.6h-1.6zM329.8 206.3h9.6v1.6h-9.6zM321.8 207.6h4.3v1.6h-4.3zM332.5 207.6h4.3v1.6h-4.3zM321.8 209.0h2.9v1.6h-2.9zM319.1 211.6h1.6v1.6h-1.6zM392.7 212.9h2.9v1.6h-2.9zM400.7 212.9h4.3v1.6h-4.3zM392.7 214.3h2.9v1.6h-2.9zM400.7 214.3h4.3v1.6h-4.3zM458.3 214.3h1.6v1.6h-1.6zM400.7 215.6h2.9v1.6h-2.9zM395.4 216.9h2.9v1.6h-2.9zM402.1 216.9h2.9v1.6h-2.9zM420.8 216.9h1.6v1.6h-1.6zM395.4 218.2h2.9v1.6h-2.9zM419.5 218.2h1.6v1.6h-1.6zM258.9 219.6h4.3v1.6h-4.3zM394.0 219.6h4.3v1.6h-4.3zM258.9 220.9h4.3v1.6h-4.3zM395.4 220.9h1.6v1.6h-1.6zM404.7 226.2h1.6v1.6h-1.6zM404.7 227.5h2.9v1.6h-2.9zM418.1 227.5h1.6v1.6h-1.6zM404.7 228.8h1.6v1.6h-1.6zM333.8 230.2h2.9v1.6h-2.9zM402.1 230.2h2.9v1.6h-2.9zM266.9 231.5h1.6v1.6h-1.6zM335.2 231.5h1.6v1.6h-1.6zM399.4 231.5h5.6v1.6h-5.6zM335.2 232.8h1.6v1.6h-1.6zM400.7 232.8h2.9v1.6h-2.9zM331.1 235.5h1.6v1.6h-1.6zM434.2 240.8h1.6v1.6h-1.6z"/>
<g transform="translate(0,128.80)" fill="none" stroke="#000" stroke-width="0.85" stroke-linejoin="round">
<path d="M222.74,66.46 L225.08,65.52 L227.41,66.3 L228.97,69.89 L230.53,68.33 L233.33,67.24 L237.53,68.8 L242.98,70.83 L245.79,72.7 L248.43,74.26 L249.21,77.38 L252.64,81.12 L250.77,81.28 L247.65,79.72 L245.32,77.38 L242.2,78.94 L240.65,79.41 L238.31,79.1 L235.2,77.54 L233.64,78.0 L233.33,76.6 L234.42,75.51 L230.53,72.23 L227.41,70.83 L224.3,69.42 L222.74,67.24 Z"/>
<path d="M213.4,87.21 L214.96,86.58 L217.29,86.74 L219.63,88.3 L220.87,88.14 L221.96,84.4 L224.3,82.84 L225.86,83.31 L228.97,83.93 L231.62,83.93 L231.31,85.96 L229.75,88.3 L232.86,90.17 L235.67,92.2 L237.53,92.2 L239.09,88.3 L239.4,84.4 L240.65,81.59 L242.2,84.4 L242.52,86.74 L245.01,88.3 L245.32,91.42 L246.56,94.54 L249.99,96.88 L251.55,99.69 L253.57,100.78 L254.66,103.12 L257.0,104.68 L257.77,108.58 L257.31,114.04"/>
<path d="M410.36,25.9 L413.01,29.02 L415.03,32.14 L415.5,34.48 L418.15,36.35 L421.26,37.6 L426.71,39.63 L431.38,39.94 L434.49,41.19 L436.83,43.06 L440.72,44.15 L443.06,44.62 L444.61,46.18 L445.86,48.52 L446.17,49.61 L448.51,50.55 L450.84,52.11 L453.49,53.51 L455.05,51.64 L457.07,51.95 L457.85,53.67 L458.63,55.54 L458.94,58.66 L457.54,61.0 L455.51,63.03 L454.74,64.9 L454.11,66.46 L453.18,68.49 L454.89,70.05 L452.87,72.7 L454.74,75.82 L457.07,79.72 L459.41,83.62 L460.96,86.74 L464.08,89.55 L467.19,91.42 L469.53,93.29 L470.15,95.32 L470.3,114.04"/>
<path d="M471.08,46.18 L469.53,46.49 L467.97,47.74 L467.19,46.49 L464.86,47.27 L461.74,48.52 L460.65,50.39 L458.94,51.64 L455.51,50.08 L452.4,51.17 L450.84,49.92 L448.97,47.74 L449.29,45.4 L449.6,42.28 L448.51,40.25 L445.39,40.1 L441.97,40.25 L441.81,37.6 L443.06,34.48 L443.84,31.36 L441.5,31.52 L438.7,32.14 L438.08,34.48 L436.05,35.88 L432.16,36.51 L429.36,34.79 L427.8,31.36 L427.18,28.24 L427.49,25.12"/>
<path d="M446.95,30.74 L450.06,29.18 L452.4,28.71 L454.74,28.86 L457.85,30.11 L459.41,31.36 L461.74,32.61 L463.77,33.39 L462.52,33.86 L458.63,33.86 L458.63,32.61 L457.07,31.36 L453.96,30.74 L451.62,30.11 L449.29,30.58 L446.95,30.89 Z"/>
<path d="M463.3,36.2 L465.63,34.01 L467.97,33.86 L470.3,34.17 L471.86,35.26 L472.95,36.04 L471.08,36.51 L468.75,37.29 L466.41,36.66 L463.45,36.51 Z"/>
<path d="M457.38,36.35 L459.09,36.04 L460.65,36.82 L459.41,37.13 L457.38,36.66 Z"/>
<path d="M405.69,25.12 L407.25,27.15 L408.8,28.71 L407.71,28.24 L406.47,26.68 L404.91,25.12"/>
<path d="M217.29,61.47 L218.38,62.56 L218.07,64.12 L219.16,64.43 L218.07,65.68 L217.29,63.81 L217.45,62.4 Z"/>
<path d="M249.99,73.48 L253.1,72.7 L255.44,71.45 L255.91,73.48 L253.1,74.57 L250.77,74.26 Z"/>
<path d="M253.57,68.96 L256.22,70.36 L257.31,72.08 L256.22,71.14"/>
<path d="M259.8,73.17 L261.36,75.04 L260.89,75.51 L259.64,73.64 Z"/>
<path d="M262.45,75.82 L264.78,77.07 L264.31,77.54 L262.29,76.44 Z"/>
<path d="M266.34,77.85 L268.98,79.25 L268.67,79.88 L266.34,78.47 Z"/>
<path d="M269.14,78.16 L270.23,79.88 L269.76,80.19 L268.83,78.63 Z"/>
<path d="M267.12,79.41 L269.14,80.19 L268.21,80.5 Z"/>
<path d="M330.2,30.0 L332.3,31.2 L334.6,32.4"/>
<path d="M336.2,33.4 L337.8,33.9 L337.4,35.3 L336.3,34.8 Z"/>
</g>
<line x1="236.75" y1="154.6" x2="236.75" y2="242.1" stroke="#c8c8c8" stroke-width="0.5" stroke-dasharray="2,1.5" opacity="0.7"/>
<line x1="299.03" y1="154.6" x2="299.03" y2="242.1" stroke="#c8c8c8" stroke-width="0.5" stroke-dasharray="2,1.5" opacity="0.7"/>
<line x1="361.31" y1="154.6" x2="361.31" y2="242.1" stroke="#c8c8c8" stroke-width="0.5" stroke-dasharray="2,1.5" opacity="0.7"/>
<line x1="423.60" y1="154.6" x2="423.60" y2="242.1" stroke="#c8c8c8" stroke-width="0.5" stroke-dasharray="2,1.5" opacity="0.7"/>
<line x1="213.4" y1="162.50" x2="470.3" y2="162.50" stroke="#c8c8c8" stroke-width="0.5" stroke-dasharray="2,1.5" opacity="0.7"/>
<line x1="213.4" y1="178.10" x2="470.3" y2="178.10" stroke="#c8c8c8" stroke-width="0.5" stroke-dasharray="2,1.5" opacity="0.7"/>
<line x1="213.4" y1="193.70" x2="470.3" y2="193.70" stroke="#c8c8c8" stroke-width="0.5" stroke-dasharray="2,1.5" opacity="0.7"/>
<line x1="213.4" y1="209.30" x2="470.3" y2="209.30" stroke="#c8c8c8" stroke-width="0.5" stroke-dasharray="2,1.5" opacity="0.7"/>
<line x1="213.4" y1="224.90" x2="470.3" y2="224.90" stroke="#c8c8c8" stroke-width="0.5" stroke-dasharray="2,1.5" opacity="0.7"/>
<rect x="213.4" y="154.6" width="256.90" height="87.5" fill="none" stroke="#000" stroke-width="0.9"/>
<text x="209.00" y="165.00" font-size="7.1" text-anchor="end" font-weight="normal" fill="#000" textLength="17.14" lengthAdjust="spacingAndGlyphs" >20°N</text>
<text x="209.00" y="180.60" font-size="7.1" text-anchor="end" font-weight="normal" fill="#000" textLength="17.14" lengthAdjust="spacingAndGlyphs" >10°N</text>
<text x="209.00" y="196.20" font-size="7.1" text-anchor="end" font-weight="normal" fill="#000" textLength="7.73" lengthAdjust="spacingAndGlyphs" >0°</text>
<text x="209.00" y="211.80" font-size="7.1" text-anchor="end" font-weight="normal" fill="#000" textLength="16.37" lengthAdjust="spacingAndGlyphs" >10°S</text>
<text x="209.00" y="227.40" font-size="7.1" text-anchor="end" font-weight="normal" fill="#000" textLength="16.37" lengthAdjust="spacingAndGlyphs" >20°S</text>
<text x="236.75" y="251.70" font-size="7.1" text-anchor="middle" font-weight="normal" fill="#000" textLength="20.68" lengthAdjust="spacingAndGlyphs" >140°E</text>
<text x="299.03" y="251.70" font-size="7.1" text-anchor="middle" font-weight="normal" fill="#000" textLength="16.38" lengthAdjust="spacingAndGlyphs" >180°</text>
<text x="361.31" y="251.70" font-size="7.1" text-anchor="middle" font-weight="normal" fill="#000" textLength="23.10" lengthAdjust="spacingAndGlyphs" >140°W</text>
<text x="423.60" y="251.70" font-size="7.1" text-anchor="middle" font-weight="normal" fill="#000" textLength="23.10" lengthAdjust="spacingAndGlyphs" >100°W</text>
<text x="219.30" y="151.70" font-size="7.2" text-anchor="start" font-weight="bold" fill="#000" textLength="10.40" lengthAdjust="spacingAndGlyphs" >(d)</text>
<text x="341.0" y="140.0" font-size="7.3" font-weight="bold" text-anchor="middle" textLength="116.8" lengthAdjust="spacingAndGlyphs">Percentage of common alerts</text>
<text x="298" y="149.2" font-size="7.3" font-weight="bold" textLength="91" lengthAdjust="spacingAndGlyphs">(DHW &gt;=4°C.weeks<tspan dy="-2.6" font-size="5.2">−1</tspan><tspan dy="2.6">)</tspan></text>
<rect x="475.3" y="214.60" width="5.2" height="16.10" fill="#1f4aa0"/>
<rect x="475.3" y="198.60" width="5.2" height="16.10" fill="#27768f"/>
<rect x="475.3" y="182.60" width="5.2" height="16.10" fill="#3ea087"/>
<rect x="475.3" y="166.60" width="5.2" height="16.10" fill="#8cc960"/>
<path d="M475.3,166.60 L477.9,162.80 L480.5,166.60Z" fill="#d8e47a"/>
<path d="M475.3,230.60 L477.9,234.20 L480.5,230.60Z" fill="#2a186c"/>
<path d="M475.3,230.60 L477.9,234.20 L480.5,230.60 L480.5,166.60 L477.9,162.80 L475.3,166.60Z" fill="none" stroke="#000" stroke-width="0.5"/>
<line x1="480.5" y1="230.60" x2="483.3" y2="230.60" stroke="#000" stroke-width="0.6"/>
<text x="486.20" y="233.10" font-size="7.1" text-anchor="start" font-weight="normal" fill="#000" textLength="8.65" lengthAdjust="spacingAndGlyphs" >50</text>
<line x1="480.5" y1="214.60" x2="483.3" y2="214.60" stroke="#000" stroke-width="0.6"/>
<text x="486.20" y="217.10" font-size="7.1" text-anchor="start" font-weight="normal" fill="#000" textLength="8.65" lengthAdjust="spacingAndGlyphs" >60</text>
<line x1="480.5" y1="198.60" x2="483.3" y2="198.60" stroke="#000" stroke-width="0.6"/>
<text x="486.20" y="201.10" font-size="7.1" text-anchor="start" font-weight="normal" fill="#000" textLength="8.65" lengthAdjust="spacingAndGlyphs" >70</text>
<line x1="480.5" y1="182.60" x2="483.3" y2="182.60" stroke="#000" stroke-width="0.6"/>
<text x="486.20" y="185.10" font-size="7.1" text-anchor="start" font-weight="normal" fill="#000" textLength="8.65" lengthAdjust="spacingAndGlyphs" >80</text>
<line x1="480.5" y1="166.60" x2="483.3" y2="166.60" stroke="#000" stroke-width="0.6"/>
<text x="486.20" y="169.10" font-size="7.1" text-anchor="start" font-weight="normal" fill="#000" textLength="8.65" lengthAdjust="spacingAndGlyphs" >90</text>
</svg></body></html>
